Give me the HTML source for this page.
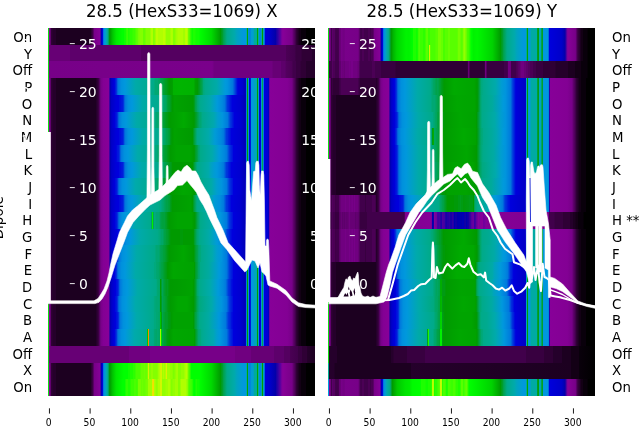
<!DOCTYPE html>
<html><head><meta charset="utf-8"><title>28.5 (HexS33=1069)</title>
<style>
html,body{margin:0;padding:0;background:#fff;}
svg{display:block;font-family:"DejaVu Sans","Liberation Sans",sans-serif;}
</style></head><body>
<svg width="640" height="440" viewBox="0 0 640 440">
<defs>
<clipPath id="cl0"><rect x="40" y="27.90" width="275.20" height="368.10"/></clipPath>
<clipPath id="cl1"><rect x="320.5" y="27.90" width="274.70" height="368.10"/></clipPath>
<clipPath id="ct0"><rect x="48.00" y="27.90" width="267.20" height="368.10"/></clipPath>
<linearGradient id="g0_0" x1="0" x2="1" y1="0" y2="0"><stop offset="0" stop-color="#850096"/><stop offset="0.005988" stop-color="#850096"/><stop offset="0.008234" stop-color="#7b008c"/><stop offset="0.008982" stop-color="#700080"/><stop offset="0.01048" stop-color="#380040"/><stop offset="0.01123" stop-color="#2f0035"/><stop offset="0.01647" stop-color="#2f0035"/><stop offset="0.01722" stop-color="#25002b"/><stop offset="0.03069" stop-color="#25002b"/><stop offset="0.03144" stop-color="#1c0020"/><stop offset="0.1594" stop-color="#1c0020"/><stop offset="0.1602" stop-color="#25002b"/><stop offset="0.1639" stop-color="#2f0035"/><stop offset="0.1647" stop-color="#380040"/><stop offset="0.1662" stop-color="#380040"/><stop offset="0.1692" stop-color="#4b0055"/><stop offset="0.1729" stop-color="#770088"/><stop offset="0.1946" stop-color="#860097"/><stop offset="0.1954" stop-color="#83009a"/><stop offset="0.1976" stop-color="#2300a6"/><stop offset="0.1991" stop-color="#0000ad"/><stop offset="0.2036" stop-color="#0000d9"/><stop offset="0.2043" stop-color="#0009dd"/><stop offset="0.2073" stop-color="#0070dd"/><stop offset="0.2081" stop-color="#007ddd"/><stop offset="0.2111" stop-color="#0092dd"/><stop offset="0.2156" stop-color="#009fcb"/><stop offset="0.2193" stop-color="#00aaab"/><stop offset="0.2246" stop-color="#00aa88"/><stop offset="0.2253" stop-color="#00a97d"/><stop offset="0.2268" stop-color="#00a353"/><stop offset="0.2298" stop-color="#009b13"/><stop offset="0.2313" stop-color="#009c00"/><stop offset="0.2425" stop-color="#00c700"/><stop offset="0.256" stop-color="#00ea00"/><stop offset="0.2777" stop-color="#00ff00"/><stop offset="0.2829" stop-color="#00ff00"/><stop offset="0.2837" stop-color="#0fff00"/><stop offset="0.2897" stop-color="#0fff00"/><stop offset="0.2919" stop-color="#2cff00"/><stop offset="0.2949" stop-color="#2cff00"/><stop offset="0.2957" stop-color="#3bff00"/><stop offset="0.2994" stop-color="#2cff00"/><stop offset="0.3001" stop-color="#1dff00"/><stop offset="0.3046" stop-color="#1dff00"/><stop offset="0.3054" stop-color="#2cff00"/><stop offset="0.3159" stop-color="#2cff00"/><stop offset="0.3166" stop-color="#3bff00"/><stop offset="0.3241" stop-color="#3bff00"/><stop offset="0.3249" stop-color="#49ff00"/><stop offset="0.3278" stop-color="#49ff00"/><stop offset="0.3286" stop-color="#58ff00"/><stop offset="0.3346" stop-color="#58ff00"/><stop offset="0.3353" stop-color="#67ff00"/><stop offset="0.3368" stop-color="#67ff00"/><stop offset="0.3376" stop-color="#75ff00"/><stop offset="0.3421" stop-color="#75ff00"/><stop offset="0.3428" stop-color="#84ff00"/><stop offset="0.354" stop-color="#84ff00"/><stop offset="0.3563" stop-color="#67ff00"/><stop offset="0.363" stop-color="#67ff00"/><stop offset="0.3638" stop-color="#75ff00"/><stop offset="0.3675" stop-color="#75ff00"/><stop offset="0.3683" stop-color="#84ff00"/><stop offset="0.3817" stop-color="#84ff00"/><stop offset="0.3855" stop-color="#b0ff00"/><stop offset="0.3915" stop-color="#b0ff00"/><stop offset="0.393" stop-color="#93ff00"/><stop offset="0.3937" stop-color="#93ff00"/><stop offset="0.3945" stop-color="#84ff00"/><stop offset="0.3982" stop-color="#84ff00"/><stop offset="0.399" stop-color="#93ff00"/><stop offset="0.4012" stop-color="#93ff00"/><stop offset="0.4042" stop-color="#bcff00"/><stop offset="0.4109" stop-color="#bcff00"/><stop offset="0.4117" stop-color="#b0ff00"/><stop offset="0.4304" stop-color="#b0ff00"/><stop offset="0.4311" stop-color="#bcff00"/><stop offset="0.4364" stop-color="#bcff00"/><stop offset="0.4371" stop-color="#b0ff00"/><stop offset="0.4394" stop-color="#b0ff00"/><stop offset="0.4416" stop-color="#93ff00"/><stop offset="0.4573" stop-color="#93ff00"/><stop offset="0.4596" stop-color="#b0ff00"/><stop offset="0.4656" stop-color="#b0ff00"/><stop offset="0.4693" stop-color="#84ff00"/><stop offset="0.4753" stop-color="#84ff00"/><stop offset="0.476" stop-color="#93ff00"/><stop offset="0.4775" stop-color="#93ff00"/><stop offset="0.4783" stop-color="#a1ff00"/><stop offset="0.4843" stop-color="#a1ff00"/><stop offset="0.485" stop-color="#b0ff00"/><stop offset="0.4925" stop-color="#b0ff00"/><stop offset="0.494" stop-color="#bcff00"/><stop offset="0.4948" stop-color="#b0ff00"/><stop offset="0.5045" stop-color="#b0ff00"/><stop offset="0.5052" stop-color="#a1ff00"/><stop offset="0.5127" stop-color="#a1ff00"/><stop offset="0.5135" stop-color="#b0ff00"/><stop offset="0.5157" stop-color="#c0fd00"/><stop offset="0.5202" stop-color="#bcff00"/><stop offset="0.5217" stop-color="#b0ff00"/><stop offset="0.524" stop-color="#84ff00"/><stop offset="0.5247" stop-color="#84ff00"/><stop offset="0.5262" stop-color="#67ff00"/><stop offset="0.5299" stop-color="#58ff00"/><stop offset="0.5322" stop-color="#3bff00"/><stop offset="0.5359" stop-color="#2cff00"/><stop offset="0.5367" stop-color="#1dff00"/><stop offset="0.5382" stop-color="#1dff00"/><stop offset="0.5389" stop-color="#0fff00"/><stop offset="0.5419" stop-color="#0fff00"/><stop offset="0.5427" stop-color="#1dff00"/><stop offset="0.5516" stop-color="#1dff00"/><stop offset="0.5524" stop-color="#0fff00"/><stop offset="0.5666" stop-color="#0fff00"/><stop offset="0.5674" stop-color="#00ff00"/><stop offset="0.6115" stop-color="#00da00"/><stop offset="0.646" stop-color="#009a00"/><stop offset="0.6512" stop-color="#009e28"/><stop offset="0.6527" stop-color="#009e28"/><stop offset="0.6579" stop-color="#00a353"/><stop offset="0.6639" stop-color="#00a668"/><stop offset="0.6647" stop-color="#00a773"/><stop offset="0.6662" stop-color="#00a773"/><stop offset="0.6692" stop-color="#00aa88"/><stop offset="0.6976" stop-color="#00aaab"/><stop offset="0.7066" stop-color="#00a3bf"/><stop offset="0.732" stop-color="#0098dd"/><stop offset="0.7418" stop-color="#0098dd"/><stop offset="0.7425" stop-color="#00a4bb"/><stop offset="0.744" stop-color="#00aa88"/><stop offset="0.7448" stop-color="#009e28"/><stop offset="0.7455" stop-color="#00a700"/><stop offset="0.747" stop-color="#00a700"/><stop offset="0.7478" stop-color="#009f33"/><stop offset="0.7485" stop-color="#00aa90"/><stop offset="0.7493" stop-color="#00aaab"/><stop offset="0.75" stop-color="#009cd3"/><stop offset="0.7507" stop-color="#0085dd"/><stop offset="0.7575" stop-color="#0085dd"/><stop offset="0.7597" stop-color="#0095dd"/><stop offset="0.7612" stop-color="#009cd3"/><stop offset="0.768" stop-color="#009cd3"/><stop offset="0.7717" stop-color="#00aa9d"/><stop offset="0.7799" stop-color="#00aa9d"/><stop offset="0.7807" stop-color="#00aa90"/><stop offset="0.7814" stop-color="#00a773"/><stop offset="0.7822" stop-color="#009f33"/><stop offset="0.7829" stop-color="#009a00"/><stop offset="0.7837" stop-color="#00a700"/><stop offset="0.7859" stop-color="#00a700"/><stop offset="0.7867" stop-color="#009f33"/><stop offset="0.7874" stop-color="#00aa90"/><stop offset="0.7882" stop-color="#00aaab"/><stop offset="0.7889" stop-color="#009cd3"/><stop offset="0.7897" stop-color="#0085dd"/><stop offset="0.7972" stop-color="#0085dd"/><stop offset="0.7979" stop-color="#009bd7"/><stop offset="0.7994" stop-color="#00aa98"/><stop offset="0.8001" stop-color="#00a668"/><stop offset="0.8009" stop-color="#009a00"/><stop offset="0.8039" stop-color="#009a00"/><stop offset="0.8046" stop-color="#00a353"/><stop offset="0.8054" stop-color="#00aa90"/><stop offset="0.8061" stop-color="#00aaa3"/><stop offset="0.8076" stop-color="#0098dd"/><stop offset="0.8084" stop-color="#0098dd"/><stop offset="0.8099" stop-color="#007ddd"/><stop offset="0.8106" stop-color="#005ddd"/><stop offset="0.8114" stop-color="#0025dd"/><stop offset="0.8121" stop-color="#0000d9"/><stop offset="0.8249" stop-color="#0000d1"/><stop offset="0.8518" stop-color="#0300aa"/><stop offset="0.8525" stop-color="#0d00a8"/><stop offset="0.854" stop-color="#0d00a8"/><stop offset="0.8548" stop-color="#1800a7"/><stop offset="0.8563" stop-color="#1800a7"/><stop offset="0.857" stop-color="#2300a6"/><stop offset="0.8585" stop-color="#2300a6"/><stop offset="0.8593" stop-color="#2d00a4"/><stop offset="0.8608" stop-color="#2d00a4"/><stop offset="0.8638" stop-color="#4300a2"/><stop offset="0.872" stop-color="#63009e"/><stop offset="0.8743" stop-color="#78009b"/><stop offset="0.8787" stop-color="#870098"/><stop offset="0.9139" stop-color="#770088"/><stop offset="0.9162" stop-color="#670075"/><stop offset="0.9244" stop-color="#4b0055"/><stop offset="0.9251" stop-color="#41004b"/><stop offset="0.9266" stop-color="#41004b"/><stop offset="0.9296" stop-color="#2f0035"/><stop offset="0.9326" stop-color="#2f0035"/><stop offset="0.9334" stop-color="#25002b"/><stop offset="0.9356" stop-color="#25002b"/><stop offset="0.9364" stop-color="#1c0020"/><stop offset="0.9401" stop-color="#1c0020"/><stop offset="0.9409" stop-color="#130015"/><stop offset="0.9476" stop-color="#130015"/><stop offset="0.9484" stop-color="#09000b"/><stop offset="0.9648" stop-color="#09000b"/><stop offset="0.9656" stop-color="#000000"/><stop offset="1" stop-color="#000000"/></linearGradient>
<linearGradient id="g0_1" x1="0" x2="1" y1="0" y2="0"><stop offset="0" stop-color="#670075"/><stop offset="0.08308" stop-color="#670075"/><stop offset="0.08383" stop-color="#5d006b"/><stop offset="0.3488" stop-color="#5d006b"/><stop offset="0.3496" stop-color="#540060"/><stop offset="0.8907" stop-color="#540060"/><stop offset="0.8915" stop-color="#4b0055"/><stop offset="0.9259" stop-color="#41004b"/><stop offset="0.9266" stop-color="#380040"/><stop offset="0.9484" stop-color="#380040"/><stop offset="0.9491" stop-color="#2f0035"/><stop offset="0.9873" stop-color="#2f0035"/><stop offset="0.988" stop-color="#25002b"/><stop offset="1" stop-color="#25002b"/></linearGradient>
<linearGradient id="g0_2" x1="0" x2="1" y1="0" y2="0"><stop offset="0" stop-color="#770088"/><stop offset="0.613" stop-color="#7a008b"/><stop offset="0.619" stop-color="#770088"/><stop offset="0.6198" stop-color="#700080"/><stop offset="0.8398" stop-color="#700080"/><stop offset="0.8406" stop-color="#670075"/><stop offset="0.8713" stop-color="#670075"/><stop offset="0.872" stop-color="#5d006b"/><stop offset="0.8885" stop-color="#5d006b"/><stop offset="0.8892" stop-color="#540060"/><stop offset="0.9147" stop-color="#4b0055"/><stop offset="0.9154" stop-color="#41004b"/><stop offset="0.9274" stop-color="#41004b"/><stop offset="0.9281" stop-color="#380040"/><stop offset="0.9446" stop-color="#380040"/><stop offset="0.9454" stop-color="#2f0035"/><stop offset="0.9656" stop-color="#2f0035"/><stop offset="0.9663" stop-color="#25002b"/><stop offset="0.9978" stop-color="#25002b"/><stop offset="0.9985" stop-color="#1c0020"/><stop offset="1" stop-color="#1c0020"/></linearGradient>
<linearGradient id="g0_3" x1="0" x2="1" y1="0" y2="0"><stop offset="0" stop-color="#850096"/><stop offset="0.005988" stop-color="#850096"/><stop offset="0.008234" stop-color="#7b008c"/><stop offset="0.008982" stop-color="#700080"/><stop offset="0.01048" stop-color="#380040"/><stop offset="0.01123" stop-color="#2f0035"/><stop offset="0.01647" stop-color="#2f0035"/><stop offset="0.01722" stop-color="#25002b"/><stop offset="0.03069" stop-color="#25002b"/><stop offset="0.03144" stop-color="#1c0020"/><stop offset="0.1781" stop-color="#1c0020"/><stop offset="0.1789" stop-color="#25002b"/><stop offset="0.1826" stop-color="#25002b"/><stop offset="0.1834" stop-color="#2f0035"/><stop offset="0.1864" stop-color="#2f0035"/><stop offset="0.1871" stop-color="#380040"/><stop offset="0.1886" stop-color="#380040"/><stop offset="0.1976" stop-color="#770088"/><stop offset="0.2073" stop-color="#830094"/><stop offset="0.2268" stop-color="#870098"/><stop offset="0.2283" stop-color="#6d009c"/><stop offset="0.232" stop-color="#0d00a8"/><stop offset="0.2335" stop-color="#0000b1"/><stop offset="0.238" stop-color="#0000c9"/><stop offset="0.2485" stop-color="#0000dd"/><stop offset="0.256" stop-color="#002fdd"/><stop offset="0.2612" stop-color="#0070dd"/><stop offset="0.2627" stop-color="#0078dd"/><stop offset="0.274" stop-color="#0090dd"/><stop offset="0.2882" stop-color="#0098dd"/><stop offset="0.3278" stop-color="#00aaa8"/><stop offset="0.396" stop-color="#00aa88"/><stop offset="0.3967" stop-color="#00a97d"/><stop offset="0.4012" stop-color="#00a97d"/><stop offset="0.4019" stop-color="#00a773"/><stop offset="0.4117" stop-color="#00a773"/><stop offset="0.4124" stop-color="#00a668"/><stop offset="0.4169" stop-color="#00a668"/><stop offset="0.4177" stop-color="#00a55d"/><stop offset="0.4199" stop-color="#00a55d"/><stop offset="0.4207" stop-color="#00a353"/><stop offset="0.4237" stop-color="#00a353"/><stop offset="0.4244" stop-color="#00a248"/><stop offset="0.4281" stop-color="#00a248"/><stop offset="0.4289" stop-color="#00a13d"/><stop offset="0.4319" stop-color="#00a13d"/><stop offset="0.4326" stop-color="#009f33"/><stop offset="0.4356" stop-color="#009f33"/><stop offset="0.4364" stop-color="#009e28"/><stop offset="0.4394" stop-color="#009e28"/><stop offset="0.4401" stop-color="#009d1d"/><stop offset="0.4439" stop-color="#009d1d"/><stop offset="0.4446" stop-color="#009b13"/><stop offset="0.4484" stop-color="#009b13"/><stop offset="0.4491" stop-color="#009a08"/><stop offset="0.4536" stop-color="#009a08"/><stop offset="0.4543" stop-color="#009a00"/><stop offset="0.4656" stop-color="#009f00"/><stop offset="0.4693" stop-color="#00b200"/><stop offset="0.494" stop-color="#00b400"/><stop offset="0.5457" stop-color="#00b200"/><stop offset="0.5509" stop-color="#009f00"/><stop offset="0.5591" stop-color="#009a00"/><stop offset="0.5621" stop-color="#009a08"/><stop offset="0.5629" stop-color="#009b13"/><stop offset="0.5651" stop-color="#009b13"/><stop offset="0.5689" stop-color="#009f33"/><stop offset="0.5771" stop-color="#00a353"/><stop offset="0.5823" stop-color="#00a97d"/><stop offset="0.5853" stop-color="#00a97d"/><stop offset="0.5861" stop-color="#00aa88"/><stop offset="0.631" stop-color="#00aaa8"/><stop offset="0.6632" stop-color="#009adb"/><stop offset="0.6714" stop-color="#0095dd"/><stop offset="0.6916" stop-color="#0078dd"/><stop offset="0.7103" stop-color="#0000dd"/><stop offset="0.7268" stop-color="#0000d1"/><stop offset="0.738" stop-color="#0000b9"/><stop offset="0.7418" stop-color="#0000cd"/><stop offset="0.7425" stop-color="#0067dd"/><stop offset="0.7433" stop-color="#0098dd"/><stop offset="0.744" stop-color="#00aaa8"/><stop offset="0.7448" stop-color="#00a773"/><stop offset="0.7455" stop-color="#009f00"/><stop offset="0.747" stop-color="#009f00"/><stop offset="0.7478" stop-color="#00a13d"/><stop offset="0.7485" stop-color="#00aa8b"/><stop offset="0.75" stop-color="#00a3bf"/><stop offset="0.7507" stop-color="#008add"/><stop offset="0.7515" stop-color="#007ddd"/><stop offset="0.7522" stop-color="#005ddd"/><stop offset="0.7537" stop-color="#0000dd"/><stop offset="0.7575" stop-color="#0000dd"/><stop offset="0.759" stop-color="#005ddd"/><stop offset="0.7597" stop-color="#007ddd"/><stop offset="0.7612" stop-color="#0098dd"/><stop offset="0.768" stop-color="#0098dd"/><stop offset="0.7717" stop-color="#00a3bf"/><stop offset="0.7799" stop-color="#00a3bf"/><stop offset="0.7814" stop-color="#00aa95"/><stop offset="0.7822" stop-color="#00a773"/><stop offset="0.7829" stop-color="#009e28"/><stop offset="0.7837" stop-color="#009f00"/><stop offset="0.7859" stop-color="#009f00"/><stop offset="0.7867" stop-color="#00a773"/><stop offset="0.7874" stop-color="#00aaa5"/><stop offset="0.7882" stop-color="#009adb"/><stop offset="0.7889" stop-color="#0078dd"/><stop offset="0.7897" stop-color="#0000dd"/><stop offset="0.7972" stop-color="#0000dd"/><stop offset="0.7979" stop-color="#0067dd"/><stop offset="0.7987" stop-color="#0090dd"/><stop offset="0.7994" stop-color="#00a3bf"/><stop offset="0.8001" stop-color="#00aa98"/><stop offset="0.8009" stop-color="#00a353"/><stop offset="0.8039" stop-color="#00a353"/><stop offset="0.8046" stop-color="#00aa98"/><stop offset="0.8054" stop-color="#00a3bf"/><stop offset="0.8061" stop-color="#0090dd"/><stop offset="0.8069" stop-color="#0067dd"/><stop offset="0.8076" stop-color="#0000dd"/><stop offset="0.8091" stop-color="#0000dd"/><stop offset="0.8241" stop-color="#0000d1"/><stop offset="0.8263" stop-color="#0000b1"/><stop offset="0.8271" stop-color="#0d00a8"/><stop offset="0.8278" stop-color="#3800a3"/><stop offset="0.8293" stop-color="#78009b"/><stop offset="0.8308" stop-color="#870098"/><stop offset="0.8952" stop-color="#830094"/><stop offset="0.9139" stop-color="#770088"/><stop offset="0.9162" stop-color="#670075"/><stop offset="0.9244" stop-color="#4b0055"/><stop offset="0.9251" stop-color="#41004b"/><stop offset="0.9266" stop-color="#41004b"/><stop offset="0.9296" stop-color="#2f0035"/><stop offset="0.9326" stop-color="#2f0035"/><stop offset="0.9334" stop-color="#25002b"/><stop offset="0.9356" stop-color="#25002b"/><stop offset="0.9364" stop-color="#1c0020"/><stop offset="0.9401" stop-color="#1c0020"/><stop offset="0.9409" stop-color="#130015"/><stop offset="0.9476" stop-color="#130015"/><stop offset="0.9484" stop-color="#09000b"/><stop offset="0.9648" stop-color="#09000b"/><stop offset="0.9656" stop-color="#000000"/><stop offset="1" stop-color="#000000"/></linearGradient>
<linearGradient id="g0_4" x1="0" x2="1" y1="0" y2="0"><stop offset="0" stop-color="#850096"/><stop offset="0.005988" stop-color="#850096"/><stop offset="0.008234" stop-color="#7b008c"/><stop offset="0.008982" stop-color="#700080"/><stop offset="0.01048" stop-color="#380040"/><stop offset="0.01123" stop-color="#2f0035"/><stop offset="0.01647" stop-color="#2f0035"/><stop offset="0.01722" stop-color="#25002b"/><stop offset="0.03069" stop-color="#25002b"/><stop offset="0.03144" stop-color="#1c0020"/><stop offset="0.1781" stop-color="#1c0020"/><stop offset="0.1789" stop-color="#25002b"/><stop offset="0.1826" stop-color="#25002b"/><stop offset="0.1834" stop-color="#2f0035"/><stop offset="0.1864" stop-color="#2f0035"/><stop offset="0.1871" stop-color="#380040"/><stop offset="0.1886" stop-color="#380040"/><stop offset="0.1976" stop-color="#770088"/><stop offset="0.2073" stop-color="#830094"/><stop offset="0.2268" stop-color="#870098"/><stop offset="0.2283" stop-color="#6d009c"/><stop offset="0.232" stop-color="#0d00a8"/><stop offset="0.2335" stop-color="#0000b1"/><stop offset="0.2373" stop-color="#0000c5"/><stop offset="0.2537" stop-color="#0000d9"/><stop offset="0.2642" stop-color="#0000dd"/><stop offset="0.265" stop-color="#0009dd"/><stop offset="0.2747" stop-color="#0013dd"/><stop offset="0.2754" stop-color="#001cdd"/><stop offset="0.2792" stop-color="#001cdd"/><stop offset="0.2822" stop-color="#002fdd"/><stop offset="0.2874" stop-color="#0070dd"/><stop offset="0.2897" stop-color="#007add"/><stop offset="0.3001" stop-color="#0090dd"/><stop offset="0.3144" stop-color="#0098dd"/><stop offset="0.354" stop-color="#00aaa8"/><stop offset="0.4222" stop-color="#00aa88"/><stop offset="0.4229" stop-color="#00a97d"/><stop offset="0.4341" stop-color="#00a773"/><stop offset="0.4349" stop-color="#00a668"/><stop offset="0.4424" stop-color="#00a55d"/><stop offset="0.4461" stop-color="#00a13d"/><stop offset="0.4491" stop-color="#00a13d"/><stop offset="0.4499" stop-color="#009f33"/><stop offset="0.4558" stop-color="#009e28"/><stop offset="0.4566" stop-color="#009d1d"/><stop offset="0.4588" stop-color="#009d1d"/><stop offset="0.4596" stop-color="#009b13"/><stop offset="0.4618" stop-color="#009b13"/><stop offset="0.4626" stop-color="#009a08"/><stop offset="0.4656" stop-color="#009a00"/><stop offset="0.4738" stop-color="#00a200"/><stop offset="0.5434" stop-color="#009a00"/><stop offset="0.5494" stop-color="#009e28"/><stop offset="0.5509" stop-color="#00a13d"/><stop offset="0.5539" stop-color="#00a353"/><stop offset="0.5554" stop-color="#00a353"/><stop offset="0.5576" stop-color="#00a668"/><stop offset="0.5689" stop-color="#00aa8d"/><stop offset="0.6078" stop-color="#00a8af"/><stop offset="0.6332" stop-color="#009adb"/><stop offset="0.6519" stop-color="#0088dd"/><stop offset="0.6617" stop-color="#0078dd"/><stop offset="0.6714" stop-color="#0038dd"/><stop offset="0.6789" stop-color="#0025dd"/><stop offset="0.6796" stop-color="#001cdd"/><stop offset="0.6819" stop-color="#001cdd"/><stop offset="0.6826" stop-color="#0013dd"/><stop offset="0.6849" stop-color="#0013dd"/><stop offset="0.6856" stop-color="#0009dd"/><stop offset="0.6879" stop-color="#0009dd"/><stop offset="0.6886" stop-color="#0000dd"/><stop offset="0.7186" stop-color="#0000d1"/><stop offset="0.7365" stop-color="#0000b9"/><stop offset="0.7395" stop-color="#0000bd"/><stop offset="0.7418" stop-color="#0000cd"/><stop offset="0.7425" stop-color="#0067dd"/><stop offset="0.7433" stop-color="#0098dd"/><stop offset="0.744" stop-color="#00aaa8"/><stop offset="0.7448" stop-color="#00a773"/><stop offset="0.7455" stop-color="#009f00"/><stop offset="0.747" stop-color="#009f00"/><stop offset="0.7478" stop-color="#00a13d"/><stop offset="0.7485" stop-color="#00aa8b"/><stop offset="0.75" stop-color="#00a3bf"/><stop offset="0.7507" stop-color="#008add"/><stop offset="0.7515" stop-color="#007ddd"/><stop offset="0.7522" stop-color="#005ddd"/><stop offset="0.7537" stop-color="#0000dd"/><stop offset="0.7575" stop-color="#0000dd"/><stop offset="0.759" stop-color="#005ddd"/><stop offset="0.7597" stop-color="#007ddd"/><stop offset="0.7612" stop-color="#0098dd"/><stop offset="0.768" stop-color="#0098dd"/><stop offset="0.7717" stop-color="#00a3bf"/><stop offset="0.7799" stop-color="#00a3bf"/><stop offset="0.7814" stop-color="#00aa95"/><stop offset="0.7822" stop-color="#00a773"/><stop offset="0.7829" stop-color="#009e28"/><stop offset="0.7837" stop-color="#009f00"/><stop offset="0.7859" stop-color="#009f00"/><stop offset="0.7867" stop-color="#00a773"/><stop offset="0.7874" stop-color="#00aaa5"/><stop offset="0.7882" stop-color="#009adb"/><stop offset="0.7889" stop-color="#0078dd"/><stop offset="0.7897" stop-color="#0000dd"/><stop offset="0.7972" stop-color="#0000dd"/><stop offset="0.7979" stop-color="#0067dd"/><stop offset="0.7987" stop-color="#0090dd"/><stop offset="0.7994" stop-color="#00a3bf"/><stop offset="0.8001" stop-color="#00aa98"/><stop offset="0.8009" stop-color="#00a353"/><stop offset="0.8039" stop-color="#00a353"/><stop offset="0.8046" stop-color="#00aa98"/><stop offset="0.8054" stop-color="#00a3bf"/><stop offset="0.8061" stop-color="#0090dd"/><stop offset="0.8069" stop-color="#0067dd"/><stop offset="0.8076" stop-color="#0000dd"/><stop offset="0.8091" stop-color="#0000dd"/><stop offset="0.8241" stop-color="#0000d1"/><stop offset="0.8263" stop-color="#0000b1"/><stop offset="0.8271" stop-color="#0d00a8"/><stop offset="0.8278" stop-color="#3800a3"/><stop offset="0.8293" stop-color="#78009b"/><stop offset="0.8308" stop-color="#870098"/><stop offset="0.8952" stop-color="#830094"/><stop offset="0.9139" stop-color="#770088"/><stop offset="0.9162" stop-color="#670075"/><stop offset="0.9244" stop-color="#4b0055"/><stop offset="0.9251" stop-color="#41004b"/><stop offset="0.9266" stop-color="#41004b"/><stop offset="0.9296" stop-color="#2f0035"/><stop offset="0.9326" stop-color="#2f0035"/><stop offset="0.9334" stop-color="#25002b"/><stop offset="0.9356" stop-color="#25002b"/><stop offset="0.9364" stop-color="#1c0020"/><stop offset="0.9401" stop-color="#1c0020"/><stop offset="0.9409" stop-color="#130015"/><stop offset="0.9476" stop-color="#130015"/><stop offset="0.9484" stop-color="#09000b"/><stop offset="0.9648" stop-color="#09000b"/><stop offset="0.9656" stop-color="#000000"/><stop offset="1" stop-color="#000000"/></linearGradient>
<linearGradient id="g0_5" x1="0" x2="1" y1="0" y2="0"><stop offset="0" stop-color="#850096"/><stop offset="0.005988" stop-color="#850096"/><stop offset="0.008234" stop-color="#7b008c"/><stop offset="0.008982" stop-color="#700080"/><stop offset="0.01048" stop-color="#380040"/><stop offset="0.01123" stop-color="#2f0035"/><stop offset="0.01647" stop-color="#2f0035"/><stop offset="0.01722" stop-color="#25002b"/><stop offset="0.03069" stop-color="#25002b"/><stop offset="0.03144" stop-color="#1c0020"/><stop offset="0.1781" stop-color="#1c0020"/><stop offset="0.1789" stop-color="#25002b"/><stop offset="0.1826" stop-color="#25002b"/><stop offset="0.1834" stop-color="#2f0035"/><stop offset="0.1864" stop-color="#2f0035"/><stop offset="0.1871" stop-color="#380040"/><stop offset="0.1886" stop-color="#380040"/><stop offset="0.1976" stop-color="#770088"/><stop offset="0.2073" stop-color="#830094"/><stop offset="0.2268" stop-color="#870098"/><stop offset="0.2283" stop-color="#6d009c"/><stop offset="0.232" stop-color="#0d00a8"/><stop offset="0.2335" stop-color="#0000b1"/><stop offset="0.2388" stop-color="#0000c9"/><stop offset="0.2507" stop-color="#0000dd"/><stop offset="0.2515" stop-color="#0009dd"/><stop offset="0.2575" stop-color="#001cdd"/><stop offset="0.259" stop-color="#002fdd"/><stop offset="0.2597" stop-color="#002fdd"/><stop offset="0.265" stop-color="#0070dd"/><stop offset="0.2665" stop-color="#0078dd"/><stop offset="0.2777" stop-color="#0090dd"/><stop offset="0.2919" stop-color="#0098dd"/><stop offset="0.3316" stop-color="#00aaa8"/><stop offset="0.3982" stop-color="#00aa88"/><stop offset="0.399" stop-color="#00a97d"/><stop offset="0.4042" stop-color="#00a97d"/><stop offset="0.4049" stop-color="#00a773"/><stop offset="0.4154" stop-color="#00a668"/><stop offset="0.4162" stop-color="#00a55d"/><stop offset="0.4192" stop-color="#00a55d"/><stop offset="0.4199" stop-color="#00a353"/><stop offset="0.4229" stop-color="#00a353"/><stop offset="0.4237" stop-color="#00a248"/><stop offset="0.4274" stop-color="#00a248"/><stop offset="0.4281" stop-color="#00a13d"/><stop offset="0.4356" stop-color="#009f33"/><stop offset="0.4364" stop-color="#009e28"/><stop offset="0.4394" stop-color="#009e28"/><stop offset="0.4401" stop-color="#009d1d"/><stop offset="0.4476" stop-color="#009b13"/><stop offset="0.4484" stop-color="#009a08"/><stop offset="0.4513" stop-color="#009a08"/><stop offset="0.4521" stop-color="#009a00"/><stop offset="0.5082" stop-color="#00aa00"/><stop offset="0.5472" stop-color="#009a00"/><stop offset="0.5494" stop-color="#009b13"/><stop offset="0.5509" stop-color="#009b13"/><stop offset="0.5531" stop-color="#009e28"/><stop offset="0.5576" stop-color="#009f33"/><stop offset="0.5599" stop-color="#00a248"/><stop offset="0.5614" stop-color="#00a248"/><stop offset="0.5651" stop-color="#00a668"/><stop offset="0.5711" stop-color="#00a773"/><stop offset="0.5719" stop-color="#00a97d"/><stop offset="0.5749" stop-color="#00a97d"/><stop offset="0.5756" stop-color="#00aa88"/><stop offset="0.6205" stop-color="#00a8af"/><stop offset="0.6355" stop-color="#009ecf"/><stop offset="0.6527" stop-color="#0095dd"/><stop offset="0.6722" stop-color="#007add"/><stop offset="0.6826" stop-color="#0038dd"/><stop offset="0.6886" stop-color="#0025dd"/><stop offset="0.6894" stop-color="#001cdd"/><stop offset="0.6916" stop-color="#001cdd"/><stop offset="0.6969" stop-color="#0000dd"/><stop offset="0.7216" stop-color="#0000d1"/><stop offset="0.7373" stop-color="#0000b9"/><stop offset="0.7418" stop-color="#0000cd"/><stop offset="0.7425" stop-color="#0067dd"/><stop offset="0.7433" stop-color="#0098dd"/><stop offset="0.744" stop-color="#00aaa8"/><stop offset="0.7448" stop-color="#00a773"/><stop offset="0.7455" stop-color="#009f00"/><stop offset="0.747" stop-color="#009f00"/><stop offset="0.7478" stop-color="#00a13d"/><stop offset="0.7485" stop-color="#00aa8b"/><stop offset="0.75" stop-color="#00a3bf"/><stop offset="0.7507" stop-color="#008add"/><stop offset="0.7515" stop-color="#007ddd"/><stop offset="0.7522" stop-color="#005ddd"/><stop offset="0.7537" stop-color="#0000dd"/><stop offset="0.7575" stop-color="#0000dd"/><stop offset="0.759" stop-color="#005ddd"/><stop offset="0.7597" stop-color="#007ddd"/><stop offset="0.7612" stop-color="#0098dd"/><stop offset="0.768" stop-color="#0098dd"/><stop offset="0.7717" stop-color="#00a3bf"/><stop offset="0.7799" stop-color="#00a3bf"/><stop offset="0.7814" stop-color="#00aa95"/><stop offset="0.7822" stop-color="#00a773"/><stop offset="0.7829" stop-color="#009e28"/><stop offset="0.7837" stop-color="#009f00"/><stop offset="0.7859" stop-color="#009f00"/><stop offset="0.7867" stop-color="#00a773"/><stop offset="0.7874" stop-color="#00aaa5"/><stop offset="0.7882" stop-color="#009adb"/><stop offset="0.7889" stop-color="#0078dd"/><stop offset="0.7897" stop-color="#0000dd"/><stop offset="0.7972" stop-color="#0000dd"/><stop offset="0.7979" stop-color="#0067dd"/><stop offset="0.7987" stop-color="#0090dd"/><stop offset="0.7994" stop-color="#00a3bf"/><stop offset="0.8001" stop-color="#00aa98"/><stop offset="0.8009" stop-color="#00a353"/><stop offset="0.8039" stop-color="#00a353"/><stop offset="0.8046" stop-color="#00aa98"/><stop offset="0.8054" stop-color="#00a3bf"/><stop offset="0.8061" stop-color="#0090dd"/><stop offset="0.8069" stop-color="#0067dd"/><stop offset="0.8076" stop-color="#0000dd"/><stop offset="0.8091" stop-color="#0000dd"/><stop offset="0.8241" stop-color="#0000d1"/><stop offset="0.8263" stop-color="#0000b1"/><stop offset="0.8271" stop-color="#0d00a8"/><stop offset="0.8278" stop-color="#3800a3"/><stop offset="0.8293" stop-color="#78009b"/><stop offset="0.8308" stop-color="#870098"/><stop offset="0.8952" stop-color="#830094"/><stop offset="0.9139" stop-color="#770088"/><stop offset="0.9162" stop-color="#670075"/><stop offset="0.9244" stop-color="#4b0055"/><stop offset="0.9251" stop-color="#41004b"/><stop offset="0.9266" stop-color="#41004b"/><stop offset="0.9296" stop-color="#2f0035"/><stop offset="0.9326" stop-color="#2f0035"/><stop offset="0.9334" stop-color="#25002b"/><stop offset="0.9356" stop-color="#25002b"/><stop offset="0.9364" stop-color="#1c0020"/><stop offset="0.9401" stop-color="#1c0020"/><stop offset="0.9409" stop-color="#130015"/><stop offset="0.9476" stop-color="#130015"/><stop offset="0.9484" stop-color="#09000b"/><stop offset="0.9648" stop-color="#09000b"/><stop offset="0.9656" stop-color="#000000"/><stop offset="1" stop-color="#000000"/></linearGradient>
<linearGradient id="g0_6" x1="0" x2="1" y1="0" y2="0"><stop offset="0" stop-color="#850096"/><stop offset="0.005988" stop-color="#850096"/><stop offset="0.008234" stop-color="#7b008c"/><stop offset="0.008982" stop-color="#700080"/><stop offset="0.01048" stop-color="#380040"/><stop offset="0.01123" stop-color="#2f0035"/><stop offset="0.01647" stop-color="#2f0035"/><stop offset="0.01722" stop-color="#25002b"/><stop offset="0.03069" stop-color="#25002b"/><stop offset="0.03144" stop-color="#1c0020"/><stop offset="0.1781" stop-color="#1c0020"/><stop offset="0.1789" stop-color="#25002b"/><stop offset="0.1826" stop-color="#25002b"/><stop offset="0.1834" stop-color="#2f0035"/><stop offset="0.1864" stop-color="#2f0035"/><stop offset="0.1871" stop-color="#380040"/><stop offset="0.1886" stop-color="#380040"/><stop offset="0.1976" stop-color="#770088"/><stop offset="0.2073" stop-color="#830094"/><stop offset="0.2268" stop-color="#870098"/><stop offset="0.2283" stop-color="#6d009c"/><stop offset="0.232" stop-color="#0d00a8"/><stop offset="0.2335" stop-color="#0000b1"/><stop offset="0.2373" stop-color="#0000c5"/><stop offset="0.2537" stop-color="#0000d9"/><stop offset="0.2642" stop-color="#0000dd"/><stop offset="0.265" stop-color="#0009dd"/><stop offset="0.2747" stop-color="#0013dd"/><stop offset="0.2754" stop-color="#001cdd"/><stop offset="0.2792" stop-color="#001cdd"/><stop offset="0.2822" stop-color="#002fdd"/><stop offset="0.2874" stop-color="#0070dd"/><stop offset="0.2897" stop-color="#007add"/><stop offset="0.3001" stop-color="#0090dd"/><stop offset="0.3144" stop-color="#0098dd"/><stop offset="0.354" stop-color="#00aaa8"/><stop offset="0.4229" stop-color="#00aa88"/><stop offset="0.4237" stop-color="#00a97d"/><stop offset="0.4281" stop-color="#00a97d"/><stop offset="0.4289" stop-color="#00a773"/><stop offset="0.4326" stop-color="#00a773"/><stop offset="0.4334" stop-color="#00a668"/><stop offset="0.4371" stop-color="#00a668"/><stop offset="0.4379" stop-color="#00a55d"/><stop offset="0.4409" stop-color="#00a55d"/><stop offset="0.4416" stop-color="#00a353"/><stop offset="0.4484" stop-color="#00a248"/><stop offset="0.4491" stop-color="#00a13d"/><stop offset="0.4521" stop-color="#00a13d"/><stop offset="0.4528" stop-color="#009f33"/><stop offset="0.4551" stop-color="#009f33"/><stop offset="0.4588" stop-color="#009b13"/><stop offset="0.4641" stop-color="#009a00"/><stop offset="0.4738" stop-color="#00a200"/><stop offset="0.5412" stop-color="#009a00"/><stop offset="0.5427" stop-color="#009a08"/><stop offset="0.5442" stop-color="#009d1d"/><stop offset="0.5464" stop-color="#009e28"/><stop offset="0.5479" stop-color="#00a13d"/><stop offset="0.5584" stop-color="#00aa88"/><stop offset="0.601" stop-color="#00aaab"/><stop offset="0.625" stop-color="#009bd7"/><stop offset="0.6482" stop-color="#0088dd"/><stop offset="0.6579" stop-color="#0078dd"/><stop offset="0.6677" stop-color="#0038dd"/><stop offset="0.6729" stop-color="#002fdd"/><stop offset="0.6737" stop-color="#0025dd"/><stop offset="0.6789" stop-color="#001cdd"/><stop offset="0.6796" stop-color="#0013dd"/><stop offset="0.6849" stop-color="#0009dd"/><stop offset="0.6856" stop-color="#0000dd"/><stop offset="0.7178" stop-color="#0000d1"/><stop offset="0.7365" stop-color="#0000b9"/><stop offset="0.7395" stop-color="#0000bd"/><stop offset="0.7418" stop-color="#0000cd"/><stop offset="0.7425" stop-color="#0067dd"/><stop offset="0.7433" stop-color="#0098dd"/><stop offset="0.744" stop-color="#00aaa8"/><stop offset="0.7448" stop-color="#00a773"/><stop offset="0.7455" stop-color="#009f00"/><stop offset="0.747" stop-color="#009f00"/><stop offset="0.7478" stop-color="#00a13d"/><stop offset="0.7485" stop-color="#00aa8b"/><stop offset="0.75" stop-color="#00a3bf"/><stop offset="0.7507" stop-color="#008add"/><stop offset="0.7515" stop-color="#007ddd"/><stop offset="0.7522" stop-color="#005ddd"/><stop offset="0.7537" stop-color="#0000dd"/><stop offset="0.7575" stop-color="#0000dd"/><stop offset="0.759" stop-color="#005ddd"/><stop offset="0.7597" stop-color="#007ddd"/><stop offset="0.7612" stop-color="#0098dd"/><stop offset="0.768" stop-color="#0098dd"/><stop offset="0.7717" stop-color="#00a3bf"/><stop offset="0.7799" stop-color="#00a3bf"/><stop offset="0.7814" stop-color="#00aa95"/><stop offset="0.7822" stop-color="#00a773"/><stop offset="0.7829" stop-color="#009e28"/><stop offset="0.7837" stop-color="#009f00"/><stop offset="0.7859" stop-color="#009f00"/><stop offset="0.7867" stop-color="#00a773"/><stop offset="0.7874" stop-color="#00aaa5"/><stop offset="0.7882" stop-color="#009adb"/><stop offset="0.7889" stop-color="#0078dd"/><stop offset="0.7897" stop-color="#0000dd"/><stop offset="0.7972" stop-color="#0000dd"/><stop offset="0.7979" stop-color="#0067dd"/><stop offset="0.7987" stop-color="#0090dd"/><stop offset="0.7994" stop-color="#00a3bf"/><stop offset="0.8001" stop-color="#00aa98"/><stop offset="0.8009" stop-color="#00a353"/><stop offset="0.8039" stop-color="#00a353"/><stop offset="0.8046" stop-color="#00aa98"/><stop offset="0.8054" stop-color="#00a3bf"/><stop offset="0.8061" stop-color="#0090dd"/><stop offset="0.8069" stop-color="#0067dd"/><stop offset="0.8076" stop-color="#0000dd"/><stop offset="0.8091" stop-color="#0000dd"/><stop offset="0.8241" stop-color="#0000d1"/><stop offset="0.8263" stop-color="#0000b1"/><stop offset="0.8271" stop-color="#0d00a8"/><stop offset="0.8278" stop-color="#3800a3"/><stop offset="0.8293" stop-color="#78009b"/><stop offset="0.8308" stop-color="#870098"/><stop offset="0.8952" stop-color="#830094"/><stop offset="0.9139" stop-color="#770088"/><stop offset="0.9162" stop-color="#670075"/><stop offset="0.9244" stop-color="#4b0055"/><stop offset="0.9251" stop-color="#41004b"/><stop offset="0.9266" stop-color="#41004b"/><stop offset="0.9296" stop-color="#2f0035"/><stop offset="0.9326" stop-color="#2f0035"/><stop offset="0.9334" stop-color="#25002b"/><stop offset="0.9356" stop-color="#25002b"/><stop offset="0.9364" stop-color="#1c0020"/><stop offset="0.9401" stop-color="#1c0020"/><stop offset="0.9409" stop-color="#130015"/><stop offset="0.9476" stop-color="#130015"/><stop offset="0.9484" stop-color="#09000b"/><stop offset="0.9648" stop-color="#09000b"/><stop offset="0.9656" stop-color="#000000"/><stop offset="1" stop-color="#000000"/></linearGradient>
<linearGradient id="g0_7" x1="0" x2="1" y1="0" y2="0"><stop offset="0" stop-color="#850096"/><stop offset="0.005988" stop-color="#850096"/><stop offset="0.008234" stop-color="#7b008c"/><stop offset="0.008982" stop-color="#700080"/><stop offset="0.01048" stop-color="#380040"/><stop offset="0.01123" stop-color="#2f0035"/><stop offset="0.01647" stop-color="#2f0035"/><stop offset="0.01722" stop-color="#25002b"/><stop offset="0.03069" stop-color="#25002b"/><stop offset="0.03144" stop-color="#1c0020"/><stop offset="0.1781" stop-color="#1c0020"/><stop offset="0.1789" stop-color="#25002b"/><stop offset="0.1826" stop-color="#25002b"/><stop offset="0.1834" stop-color="#2f0035"/><stop offset="0.1864" stop-color="#2f0035"/><stop offset="0.1871" stop-color="#380040"/><stop offset="0.1886" stop-color="#380040"/><stop offset="0.1976" stop-color="#770088"/><stop offset="0.2073" stop-color="#830094"/><stop offset="0.2268" stop-color="#870098"/><stop offset="0.2283" stop-color="#6d009c"/><stop offset="0.232" stop-color="#0d00a8"/><stop offset="0.2335" stop-color="#0000b1"/><stop offset="0.2388" stop-color="#0000c9"/><stop offset="0.2552" stop-color="#0000dd"/><stop offset="0.259" stop-color="#0013dd"/><stop offset="0.265" stop-color="#001cdd"/><stop offset="0.2665" stop-color="#002fdd"/><stop offset="0.2672" stop-color="#002fdd"/><stop offset="0.2725" stop-color="#0070dd"/><stop offset="0.2747" stop-color="#007add"/><stop offset="0.2852" stop-color="#0090dd"/><stop offset="0.2994" stop-color="#0098dd"/><stop offset="0.3353" stop-color="#00aaab"/><stop offset="0.4004" stop-color="#00aa88"/><stop offset="0.4012" stop-color="#00a97d"/><stop offset="0.4064" stop-color="#00a97d"/><stop offset="0.4072" stop-color="#00a773"/><stop offset="0.4117" stop-color="#00a773"/><stop offset="0.4124" stop-color="#00a668"/><stop offset="0.4222" stop-color="#00a668"/><stop offset="0.4229" stop-color="#00a55d"/><stop offset="0.4266" stop-color="#00a55d"/><stop offset="0.4274" stop-color="#00a353"/><stop offset="0.4304" stop-color="#00a353"/><stop offset="0.4311" stop-color="#00a248"/><stop offset="0.4356" stop-color="#00a13d"/><stop offset="0.4364" stop-color="#009f33"/><stop offset="0.4461" stop-color="#009e28"/><stop offset="0.4469" stop-color="#009d1d"/><stop offset="0.4499" stop-color="#009d1d"/><stop offset="0.4506" stop-color="#009b13"/><stop offset="0.4528" stop-color="#009b13"/><stop offset="0.4536" stop-color="#009a08"/><stop offset="0.4566" stop-color="#009a08"/><stop offset="0.4573" stop-color="#009a00"/><stop offset="0.4813" stop-color="#00a400"/><stop offset="0.5299" stop-color="#00a400"/><stop offset="0.5472" stop-color="#009a00"/><stop offset="0.5539" stop-color="#009f33"/><stop offset="0.5554" stop-color="#009f33"/><stop offset="0.5576" stop-color="#00a248"/><stop offset="0.5591" stop-color="#00a248"/><stop offset="0.5629" stop-color="#00a668"/><stop offset="0.5666" stop-color="#00a773"/><stop offset="0.5689" stop-color="#00aa88"/><stop offset="0.6138" stop-color="#00aaab"/><stop offset="0.6407" stop-color="#009adb"/><stop offset="0.6594" stop-color="#0088dd"/><stop offset="0.6692" stop-color="#0078dd"/><stop offset="0.6789" stop-color="#0038dd"/><stop offset="0.6826" stop-color="#002fdd"/><stop offset="0.6834" stop-color="#0025dd"/><stop offset="0.6856" stop-color="#0025dd"/><stop offset="0.6886" stop-color="#0013dd"/><stop offset="0.6909" stop-color="#0013dd"/><stop offset="0.6939" stop-color="#0000dd"/><stop offset="0.7208" stop-color="#0000d1"/><stop offset="0.7373" stop-color="#0000b9"/><stop offset="0.7418" stop-color="#0000cd"/><stop offset="0.7425" stop-color="#0067dd"/><stop offset="0.7433" stop-color="#0098dd"/><stop offset="0.744" stop-color="#00aaa8"/><stop offset="0.7448" stop-color="#00a773"/><stop offset="0.7455" stop-color="#009f00"/><stop offset="0.747" stop-color="#009f00"/><stop offset="0.7478" stop-color="#00a13d"/><stop offset="0.7485" stop-color="#00aa8b"/><stop offset="0.75" stop-color="#00a3bf"/><stop offset="0.7507" stop-color="#008add"/><stop offset="0.7515" stop-color="#007ddd"/><stop offset="0.7522" stop-color="#005ddd"/><stop offset="0.7537" stop-color="#0000dd"/><stop offset="0.7575" stop-color="#0000dd"/><stop offset="0.759" stop-color="#005ddd"/><stop offset="0.7597" stop-color="#007ddd"/><stop offset="0.7612" stop-color="#0098dd"/><stop offset="0.768" stop-color="#0098dd"/><stop offset="0.7717" stop-color="#00a3bf"/><stop offset="0.7799" stop-color="#00a3bf"/><stop offset="0.7814" stop-color="#00aa95"/><stop offset="0.7822" stop-color="#00a773"/><stop offset="0.7829" stop-color="#009e28"/><stop offset="0.7837" stop-color="#009f00"/><stop offset="0.7859" stop-color="#009f00"/><stop offset="0.7867" stop-color="#00a773"/><stop offset="0.7874" stop-color="#00aaa5"/><stop offset="0.7882" stop-color="#009adb"/><stop offset="0.7889" stop-color="#0078dd"/><stop offset="0.7897" stop-color="#0000dd"/><stop offset="0.7972" stop-color="#0000dd"/><stop offset="0.7979" stop-color="#0067dd"/><stop offset="0.7987" stop-color="#0090dd"/><stop offset="0.7994" stop-color="#00a3bf"/><stop offset="0.8001" stop-color="#00aa98"/><stop offset="0.8009" stop-color="#00a353"/><stop offset="0.8039" stop-color="#00a353"/><stop offset="0.8046" stop-color="#00aa98"/><stop offset="0.8054" stop-color="#00a3bf"/><stop offset="0.8061" stop-color="#0090dd"/><stop offset="0.8069" stop-color="#0067dd"/><stop offset="0.8076" stop-color="#0000dd"/><stop offset="0.8091" stop-color="#0000dd"/><stop offset="0.8241" stop-color="#0000d1"/><stop offset="0.8263" stop-color="#0000b1"/><stop offset="0.8271" stop-color="#0d00a8"/><stop offset="0.8278" stop-color="#3800a3"/><stop offset="0.8293" stop-color="#78009b"/><stop offset="0.8308" stop-color="#870098"/><stop offset="0.8952" stop-color="#830094"/><stop offset="0.9139" stop-color="#770088"/><stop offset="0.9162" stop-color="#670075"/><stop offset="0.9244" stop-color="#4b0055"/><stop offset="0.9251" stop-color="#41004b"/><stop offset="0.9266" stop-color="#41004b"/><stop offset="0.9296" stop-color="#2f0035"/><stop offset="0.9326" stop-color="#2f0035"/><stop offset="0.9334" stop-color="#25002b"/><stop offset="0.9356" stop-color="#25002b"/><stop offset="0.9364" stop-color="#1c0020"/><stop offset="0.9401" stop-color="#1c0020"/><stop offset="0.9409" stop-color="#130015"/><stop offset="0.9476" stop-color="#130015"/><stop offset="0.9484" stop-color="#09000b"/><stop offset="0.9648" stop-color="#09000b"/><stop offset="0.9656" stop-color="#000000"/><stop offset="1" stop-color="#000000"/></linearGradient>
<linearGradient id="g0_8" x1="0" x2="1" y1="0" y2="0"><stop offset="0" stop-color="#850096"/><stop offset="0.005988" stop-color="#850096"/><stop offset="0.008234" stop-color="#7b008c"/><stop offset="0.008982" stop-color="#700080"/><stop offset="0.01048" stop-color="#380040"/><stop offset="0.01123" stop-color="#2f0035"/><stop offset="0.01647" stop-color="#2f0035"/><stop offset="0.01722" stop-color="#25002b"/><stop offset="0.03069" stop-color="#25002b"/><stop offset="0.03144" stop-color="#1c0020"/><stop offset="0.1781" stop-color="#1c0020"/><stop offset="0.1789" stop-color="#25002b"/><stop offset="0.1826" stop-color="#25002b"/><stop offset="0.1834" stop-color="#2f0035"/><stop offset="0.1864" stop-color="#2f0035"/><stop offset="0.1871" stop-color="#380040"/><stop offset="0.1886" stop-color="#380040"/><stop offset="0.1976" stop-color="#770088"/><stop offset="0.2073" stop-color="#830094"/><stop offset="0.2268" stop-color="#870098"/><stop offset="0.2283" stop-color="#6d009c"/><stop offset="0.232" stop-color="#0d00a8"/><stop offset="0.2335" stop-color="#0000b1"/><stop offset="0.2373" stop-color="#0000c5"/><stop offset="0.2537" stop-color="#0000d9"/><stop offset="0.2642" stop-color="#0000dd"/><stop offset="0.265" stop-color="#0009dd"/><stop offset="0.2747" stop-color="#0013dd"/><stop offset="0.2754" stop-color="#001cdd"/><stop offset="0.2792" stop-color="#001cdd"/><stop offset="0.2822" stop-color="#002fdd"/><stop offset="0.2874" stop-color="#0070dd"/><stop offset="0.2897" stop-color="#007add"/><stop offset="0.3001" stop-color="#0090dd"/><stop offset="0.3144" stop-color="#0098dd"/><stop offset="0.3503" stop-color="#00aaab"/><stop offset="0.4049" stop-color="#00aa90"/><stop offset="0.4139" stop-color="#00aa88"/><stop offset="0.4147" stop-color="#00a97d"/><stop offset="0.4259" stop-color="#00a97d"/><stop offset="0.4266" stop-color="#00a773"/><stop offset="0.4304" stop-color="#00a773"/><stop offset="0.4311" stop-color="#00a668"/><stop offset="0.4326" stop-color="#00a668"/><stop offset="0.4356" stop-color="#00a353"/><stop offset="0.4394" stop-color="#00a353"/><stop offset="0.4401" stop-color="#00a248"/><stop offset="0.4431" stop-color="#00a248"/><stop offset="0.4439" stop-color="#00a13d"/><stop offset="0.4506" stop-color="#009f33"/><stop offset="0.4513" stop-color="#009e28"/><stop offset="0.4536" stop-color="#009e28"/><stop offset="0.4543" stop-color="#009d1d"/><stop offset="0.4596" stop-color="#009d1d"/><stop offset="0.4603" stop-color="#009b13"/><stop offset="0.4626" stop-color="#009b13"/><stop offset="0.4633" stop-color="#009a08"/><stop offset="0.4663" stop-color="#009a00"/><stop offset="0.5412" stop-color="#009a00"/><stop offset="0.5427" stop-color="#009b13"/><stop offset="0.5449" stop-color="#009d1d"/><stop offset="0.5464" stop-color="#009f33"/><stop offset="0.5584" stop-color="#00aa88"/><stop offset="0.6018" stop-color="#00aaab"/><stop offset="0.6085" stop-color="#00a3bf"/><stop offset="0.622" stop-color="#009cd3"/><stop offset="0.6325" stop-color="#0098dd"/><stop offset="0.6482" stop-color="#0088dd"/><stop offset="0.6579" stop-color="#0078dd"/><stop offset="0.6677" stop-color="#0038dd"/><stop offset="0.6729" stop-color="#002fdd"/><stop offset="0.6737" stop-color="#0025dd"/><stop offset="0.6789" stop-color="#001cdd"/><stop offset="0.6796" stop-color="#0013dd"/><stop offset="0.6849" stop-color="#0009dd"/><stop offset="0.6856" stop-color="#0000dd"/><stop offset="0.7178" stop-color="#0000d1"/><stop offset="0.7365" stop-color="#0000b9"/><stop offset="0.7395" stop-color="#0000bd"/><stop offset="0.7418" stop-color="#0000cd"/><stop offset="0.7425" stop-color="#0067dd"/><stop offset="0.7433" stop-color="#0098dd"/><stop offset="0.744" stop-color="#00aaa8"/><stop offset="0.7448" stop-color="#00a773"/><stop offset="0.7455" stop-color="#009f00"/><stop offset="0.747" stop-color="#009f00"/><stop offset="0.7478" stop-color="#00a13d"/><stop offset="0.7485" stop-color="#00aa8b"/><stop offset="0.75" stop-color="#00a3bf"/><stop offset="0.7507" stop-color="#008add"/><stop offset="0.7515" stop-color="#007ddd"/><stop offset="0.7522" stop-color="#005ddd"/><stop offset="0.7537" stop-color="#0000dd"/><stop offset="0.7575" stop-color="#0000dd"/><stop offset="0.759" stop-color="#005ddd"/><stop offset="0.7597" stop-color="#007ddd"/><stop offset="0.7612" stop-color="#0098dd"/><stop offset="0.768" stop-color="#0098dd"/><stop offset="0.7717" stop-color="#00a3bf"/><stop offset="0.7799" stop-color="#00a3bf"/><stop offset="0.7814" stop-color="#00aa95"/><stop offset="0.7822" stop-color="#00a773"/><stop offset="0.7829" stop-color="#009e28"/><stop offset="0.7837" stop-color="#009f00"/><stop offset="0.7859" stop-color="#009f00"/><stop offset="0.7867" stop-color="#00a773"/><stop offset="0.7874" stop-color="#00aaa5"/><stop offset="0.7882" stop-color="#009adb"/><stop offset="0.7889" stop-color="#0078dd"/><stop offset="0.7897" stop-color="#0000dd"/><stop offset="0.7972" stop-color="#0000dd"/><stop offset="0.7979" stop-color="#0067dd"/><stop offset="0.7987" stop-color="#0090dd"/><stop offset="0.7994" stop-color="#00a3bf"/><stop offset="0.8001" stop-color="#00aa98"/><stop offset="0.8009" stop-color="#00a353"/><stop offset="0.8039" stop-color="#00a353"/><stop offset="0.8046" stop-color="#00aa98"/><stop offset="0.8054" stop-color="#00a3bf"/><stop offset="0.8061" stop-color="#0090dd"/><stop offset="0.8069" stop-color="#0067dd"/><stop offset="0.8076" stop-color="#0000dd"/><stop offset="0.8091" stop-color="#0000dd"/><stop offset="0.8241" stop-color="#0000d1"/><stop offset="0.8263" stop-color="#0000b1"/><stop offset="0.8271" stop-color="#0d00a8"/><stop offset="0.8278" stop-color="#3800a3"/><stop offset="0.8293" stop-color="#78009b"/><stop offset="0.8308" stop-color="#870098"/><stop offset="0.8952" stop-color="#830094"/><stop offset="0.9139" stop-color="#770088"/><stop offset="0.9162" stop-color="#670075"/><stop offset="0.9244" stop-color="#4b0055"/><stop offset="0.9251" stop-color="#41004b"/><stop offset="0.9266" stop-color="#41004b"/><stop offset="0.9296" stop-color="#2f0035"/><stop offset="0.9326" stop-color="#2f0035"/><stop offset="0.9334" stop-color="#25002b"/><stop offset="0.9356" stop-color="#25002b"/><stop offset="0.9364" stop-color="#1c0020"/><stop offset="0.9401" stop-color="#1c0020"/><stop offset="0.9409" stop-color="#130015"/><stop offset="0.9476" stop-color="#130015"/><stop offset="0.9484" stop-color="#09000b"/><stop offset="0.9648" stop-color="#09000b"/><stop offset="0.9656" stop-color="#000000"/><stop offset="1" stop-color="#000000"/></linearGradient>
<linearGradient id="g0_9" x1="0" x2="1" y1="0" y2="0"><stop offset="0" stop-color="#850096"/><stop offset="0.005988" stop-color="#850096"/><stop offset="0.008234" stop-color="#7b008c"/><stop offset="0.008982" stop-color="#700080"/><stop offset="0.01048" stop-color="#380040"/><stop offset="0.01123" stop-color="#2f0035"/><stop offset="0.01647" stop-color="#2f0035"/><stop offset="0.01722" stop-color="#25002b"/><stop offset="0.03069" stop-color="#25002b"/><stop offset="0.03144" stop-color="#1c0020"/><stop offset="0.1781" stop-color="#1c0020"/><stop offset="0.1789" stop-color="#25002b"/><stop offset="0.1826" stop-color="#25002b"/><stop offset="0.1834" stop-color="#2f0035"/><stop offset="0.1864" stop-color="#2f0035"/><stop offset="0.1871" stop-color="#380040"/><stop offset="0.1886" stop-color="#380040"/><stop offset="0.1976" stop-color="#770088"/><stop offset="0.2073" stop-color="#830094"/><stop offset="0.2268" stop-color="#870098"/><stop offset="0.2283" stop-color="#6d009c"/><stop offset="0.232" stop-color="#0d00a8"/><stop offset="0.2335" stop-color="#0000b1"/><stop offset="0.2388" stop-color="#0000c9"/><stop offset="0.2507" stop-color="#0000dd"/><stop offset="0.2515" stop-color="#0009dd"/><stop offset="0.2575" stop-color="#001cdd"/><stop offset="0.259" stop-color="#002fdd"/><stop offset="0.2597" stop-color="#002fdd"/><stop offset="0.265" stop-color="#0070dd"/><stop offset="0.2665" stop-color="#0078dd"/><stop offset="0.2777" stop-color="#0090dd"/><stop offset="0.2919" stop-color="#0098dd"/><stop offset="0.3278" stop-color="#00aaab"/><stop offset="0.3945" stop-color="#00aa88"/><stop offset="0.3952" stop-color="#00a97d"/><stop offset="0.4004" stop-color="#00a97d"/><stop offset="0.4012" stop-color="#00a773"/><stop offset="0.4072" stop-color="#00a773"/><stop offset="0.4079" stop-color="#00a668"/><stop offset="0.4207" stop-color="#00a55d"/><stop offset="0.4214" stop-color="#00a353"/><stop offset="0.4251" stop-color="#00a353"/><stop offset="0.4259" stop-color="#00a248"/><stop offset="0.4296" stop-color="#00a248"/><stop offset="0.4304" stop-color="#00a13d"/><stop offset="0.4356" stop-color="#009f33"/><stop offset="0.4364" stop-color="#009e28"/><stop offset="0.4394" stop-color="#009e28"/><stop offset="0.4401" stop-color="#009d1d"/><stop offset="0.4469" stop-color="#009d1d"/><stop offset="0.4476" stop-color="#009b13"/><stop offset="0.4506" stop-color="#009b13"/><stop offset="0.4513" stop-color="#009a08"/><stop offset="0.4551" stop-color="#009a08"/><stop offset="0.4558" stop-color="#009a00"/><stop offset="0.506" stop-color="#00a700"/><stop offset="0.5352" stop-color="#00a400"/><stop offset="0.5479" stop-color="#009a00"/><stop offset="0.5531" stop-color="#009d1d"/><stop offset="0.5569" stop-color="#00a248"/><stop offset="0.5614" stop-color="#00a668"/><stop offset="0.5651" stop-color="#00a773"/><stop offset="0.5659" stop-color="#00a97d"/><stop offset="0.5689" stop-color="#00a97d"/><stop offset="0.5696" stop-color="#00a773"/><stop offset="0.5704" stop-color="#00a97d"/><stop offset="0.5726" stop-color="#00a97d"/><stop offset="0.5734" stop-color="#00aa88"/><stop offset="0.5831" stop-color="#00aa95"/><stop offset="0.6115" stop-color="#00aaa8"/><stop offset="0.6317" stop-color="#009ecf"/><stop offset="0.649" stop-color="#0095dd"/><stop offset="0.6684" stop-color="#007add"/><stop offset="0.6789" stop-color="#0038dd"/><stop offset="0.6826" stop-color="#002fdd"/><stop offset="0.6834" stop-color="#0025dd"/><stop offset="0.6856" stop-color="#0025dd"/><stop offset="0.6886" stop-color="#0013dd"/><stop offset="0.6909" stop-color="#0013dd"/><stop offset="0.6939" stop-color="#0000dd"/><stop offset="0.7208" stop-color="#0000d1"/><stop offset="0.7373" stop-color="#0000b9"/><stop offset="0.7418" stop-color="#0000cd"/><stop offset="0.7425" stop-color="#0067dd"/><stop offset="0.7433" stop-color="#0098dd"/><stop offset="0.744" stop-color="#00aaa8"/><stop offset="0.7448" stop-color="#00a773"/><stop offset="0.7455" stop-color="#009f00"/><stop offset="0.747" stop-color="#009f00"/><stop offset="0.7478" stop-color="#00a13d"/><stop offset="0.7485" stop-color="#00aa8b"/><stop offset="0.75" stop-color="#00a3bf"/><stop offset="0.7507" stop-color="#008add"/><stop offset="0.7515" stop-color="#007ddd"/><stop offset="0.7522" stop-color="#005ddd"/><stop offset="0.7537" stop-color="#0000dd"/><stop offset="0.7575" stop-color="#0000dd"/><stop offset="0.759" stop-color="#005ddd"/><stop offset="0.7597" stop-color="#007ddd"/><stop offset="0.7612" stop-color="#0098dd"/><stop offset="0.768" stop-color="#0098dd"/><stop offset="0.7717" stop-color="#00a3bf"/><stop offset="0.7799" stop-color="#00a3bf"/><stop offset="0.7814" stop-color="#00aa95"/><stop offset="0.7822" stop-color="#00a773"/><stop offset="0.7829" stop-color="#009e28"/><stop offset="0.7837" stop-color="#009f00"/><stop offset="0.7859" stop-color="#009f00"/><stop offset="0.7867" stop-color="#00a773"/><stop offset="0.7874" stop-color="#00aaa5"/><stop offset="0.7882" stop-color="#009adb"/><stop offset="0.7889" stop-color="#0078dd"/><stop offset="0.7897" stop-color="#0000dd"/><stop offset="0.7972" stop-color="#0000dd"/><stop offset="0.7979" stop-color="#0067dd"/><stop offset="0.7987" stop-color="#0090dd"/><stop offset="0.7994" stop-color="#00a3bf"/><stop offset="0.8001" stop-color="#00aa98"/><stop offset="0.8009" stop-color="#00a353"/><stop offset="0.8039" stop-color="#00a353"/><stop offset="0.8046" stop-color="#00aa98"/><stop offset="0.8054" stop-color="#00a3bf"/><stop offset="0.8061" stop-color="#0090dd"/><stop offset="0.8069" stop-color="#0067dd"/><stop offset="0.8076" stop-color="#0000dd"/><stop offset="0.8091" stop-color="#0000dd"/><stop offset="0.8241" stop-color="#0000d1"/><stop offset="0.8263" stop-color="#0000b1"/><stop offset="0.8271" stop-color="#0d00a8"/><stop offset="0.8278" stop-color="#3800a3"/><stop offset="0.8293" stop-color="#78009b"/><stop offset="0.8308" stop-color="#870098"/><stop offset="0.8952" stop-color="#830094"/><stop offset="0.9139" stop-color="#770088"/><stop offset="0.9162" stop-color="#670075"/><stop offset="0.9244" stop-color="#4b0055"/><stop offset="0.9251" stop-color="#41004b"/><stop offset="0.9266" stop-color="#41004b"/><stop offset="0.9296" stop-color="#2f0035"/><stop offset="0.9326" stop-color="#2f0035"/><stop offset="0.9334" stop-color="#25002b"/><stop offset="0.9356" stop-color="#25002b"/><stop offset="0.9364" stop-color="#1c0020"/><stop offset="0.9401" stop-color="#1c0020"/><stop offset="0.9409" stop-color="#130015"/><stop offset="0.9476" stop-color="#130015"/><stop offset="0.9484" stop-color="#09000b"/><stop offset="0.9648" stop-color="#09000b"/><stop offset="0.9656" stop-color="#000000"/><stop offset="1" stop-color="#000000"/></linearGradient>
<linearGradient id="g0_10" x1="0" x2="1" y1="0" y2="0"><stop offset="0" stop-color="#850096"/><stop offset="0.005988" stop-color="#850096"/><stop offset="0.008234" stop-color="#7b008c"/><stop offset="0.008982" stop-color="#700080"/><stop offset="0.01048" stop-color="#380040"/><stop offset="0.01123" stop-color="#2f0035"/><stop offset="0.01647" stop-color="#2f0035"/><stop offset="0.01722" stop-color="#25002b"/><stop offset="0.03069" stop-color="#25002b"/><stop offset="0.03144" stop-color="#1c0020"/><stop offset="0.1781" stop-color="#1c0020"/><stop offset="0.1789" stop-color="#25002b"/><stop offset="0.1826" stop-color="#25002b"/><stop offset="0.1834" stop-color="#2f0035"/><stop offset="0.1864" stop-color="#2f0035"/><stop offset="0.1871" stop-color="#380040"/><stop offset="0.1886" stop-color="#380040"/><stop offset="0.1976" stop-color="#770088"/><stop offset="0.2073" stop-color="#830094"/><stop offset="0.2268" stop-color="#870098"/><stop offset="0.2283" stop-color="#6d009c"/><stop offset="0.232" stop-color="#0d00a8"/><stop offset="0.2335" stop-color="#0000b1"/><stop offset="0.2373" stop-color="#0000c5"/><stop offset="0.2537" stop-color="#0000d9"/><stop offset="0.2642" stop-color="#0000dd"/><stop offset="0.265" stop-color="#0009dd"/><stop offset="0.2747" stop-color="#0013dd"/><stop offset="0.2754" stop-color="#001cdd"/><stop offset="0.2792" stop-color="#001cdd"/><stop offset="0.2822" stop-color="#002fdd"/><stop offset="0.2874" stop-color="#0070dd"/><stop offset="0.2897" stop-color="#007add"/><stop offset="0.3001" stop-color="#0090dd"/><stop offset="0.3144" stop-color="#0098dd"/><stop offset="0.354" stop-color="#00aaa8"/><stop offset="0.4169" stop-color="#00aa88"/><stop offset="0.4177" stop-color="#00a97d"/><stop offset="0.4184" stop-color="#00aa88"/><stop offset="0.4222" stop-color="#00aa88"/><stop offset="0.4229" stop-color="#00a97d"/><stop offset="0.4274" stop-color="#00a97d"/><stop offset="0.4281" stop-color="#00a773"/><stop offset="0.4311" stop-color="#00a773"/><stop offset="0.4341" stop-color="#00a55d"/><stop offset="0.4371" stop-color="#00a55d"/><stop offset="0.4379" stop-color="#00a353"/><stop offset="0.4409" stop-color="#00a353"/><stop offset="0.4416" stop-color="#00a248"/><stop offset="0.4454" stop-color="#00a248"/><stop offset="0.4461" stop-color="#00a353"/><stop offset="0.4469" stop-color="#00a248"/><stop offset="0.4499" stop-color="#00a248"/><stop offset="0.4506" stop-color="#00a13d"/><stop offset="0.4558" stop-color="#009f33"/><stop offset="0.4596" stop-color="#009b13"/><stop offset="0.4618" stop-color="#009b13"/><stop offset="0.4626" stop-color="#009a08"/><stop offset="0.4656" stop-color="#009a00"/><stop offset="0.5329" stop-color="#00a200"/><stop offset="0.5419" stop-color="#009a00"/><stop offset="0.5457" stop-color="#009f33"/><stop offset="0.5576" stop-color="#00aa88"/><stop offset="0.6018" stop-color="#00aaab"/><stop offset="0.6153" stop-color="#00a3bf"/><stop offset="0.6205" stop-color="#009cd3"/><stop offset="0.6422" stop-color="#0090dd"/><stop offset="0.6572" stop-color="#007add"/><stop offset="0.6677" stop-color="#0038dd"/><stop offset="0.6729" stop-color="#002fdd"/><stop offset="0.6737" stop-color="#0025dd"/><stop offset="0.6789" stop-color="#001cdd"/><stop offset="0.6796" stop-color="#0013dd"/><stop offset="0.6849" stop-color="#0009dd"/><stop offset="0.6856" stop-color="#0000dd"/><stop offset="0.7178" stop-color="#0000d1"/><stop offset="0.7365" stop-color="#0000b9"/><stop offset="0.7395" stop-color="#0000bd"/><stop offset="0.7418" stop-color="#0000cd"/><stop offset="0.7425" stop-color="#0067dd"/><stop offset="0.7433" stop-color="#0098dd"/><stop offset="0.744" stop-color="#00aaa8"/><stop offset="0.7448" stop-color="#00a773"/><stop offset="0.7455" stop-color="#009f00"/><stop offset="0.747" stop-color="#009f00"/><stop offset="0.7478" stop-color="#00a13d"/><stop offset="0.7485" stop-color="#00aa8b"/><stop offset="0.75" stop-color="#00a3bf"/><stop offset="0.7507" stop-color="#008add"/><stop offset="0.7515" stop-color="#007ddd"/><stop offset="0.7522" stop-color="#005ddd"/><stop offset="0.7537" stop-color="#0000dd"/><stop offset="0.7575" stop-color="#0000dd"/><stop offset="0.759" stop-color="#005ddd"/><stop offset="0.7597" stop-color="#007ddd"/><stop offset="0.7612" stop-color="#0098dd"/><stop offset="0.768" stop-color="#0098dd"/><stop offset="0.7717" stop-color="#00a3bf"/><stop offset="0.7799" stop-color="#00a3bf"/><stop offset="0.7814" stop-color="#00aa95"/><stop offset="0.7822" stop-color="#00a773"/><stop offset="0.7829" stop-color="#009e28"/><stop offset="0.7837" stop-color="#009f00"/><stop offset="0.7859" stop-color="#009f00"/><stop offset="0.7867" stop-color="#00a773"/><stop offset="0.7874" stop-color="#00aaa5"/><stop offset="0.7882" stop-color="#009adb"/><stop offset="0.7889" stop-color="#0078dd"/><stop offset="0.7897" stop-color="#0000dd"/><stop offset="0.7972" stop-color="#0000dd"/><stop offset="0.7979" stop-color="#0067dd"/><stop offset="0.7987" stop-color="#0090dd"/><stop offset="0.7994" stop-color="#00a3bf"/><stop offset="0.8001" stop-color="#00aa98"/><stop offset="0.8009" stop-color="#00a353"/><stop offset="0.8039" stop-color="#00a353"/><stop offset="0.8046" stop-color="#00aa98"/><stop offset="0.8054" stop-color="#00a3bf"/><stop offset="0.8061" stop-color="#0090dd"/><stop offset="0.8069" stop-color="#0067dd"/><stop offset="0.8076" stop-color="#0000dd"/><stop offset="0.8091" stop-color="#0000dd"/><stop offset="0.8241" stop-color="#0000d1"/><stop offset="0.8263" stop-color="#0000b1"/><stop offset="0.8271" stop-color="#0d00a8"/><stop offset="0.8278" stop-color="#3800a3"/><stop offset="0.8293" stop-color="#78009b"/><stop offset="0.8308" stop-color="#870098"/><stop offset="0.8952" stop-color="#830094"/><stop offset="0.9139" stop-color="#770088"/><stop offset="0.9162" stop-color="#670075"/><stop offset="0.9244" stop-color="#4b0055"/><stop offset="0.9251" stop-color="#41004b"/><stop offset="0.9266" stop-color="#41004b"/><stop offset="0.9296" stop-color="#2f0035"/><stop offset="0.9326" stop-color="#2f0035"/><stop offset="0.9334" stop-color="#25002b"/><stop offset="0.9356" stop-color="#25002b"/><stop offset="0.9364" stop-color="#1c0020"/><stop offset="0.9401" stop-color="#1c0020"/><stop offset="0.9409" stop-color="#130015"/><stop offset="0.9476" stop-color="#130015"/><stop offset="0.9484" stop-color="#09000b"/><stop offset="0.9648" stop-color="#09000b"/><stop offset="0.9656" stop-color="#000000"/><stop offset="1" stop-color="#000000"/></linearGradient>
<linearGradient id="g0_11" x1="0" x2="1" y1="0" y2="0"><stop offset="0" stop-color="#850096"/><stop offset="0.005988" stop-color="#850096"/><stop offset="0.008234" stop-color="#7b008c"/><stop offset="0.008982" stop-color="#700080"/><stop offset="0.01048" stop-color="#380040"/><stop offset="0.01123" stop-color="#2f0035"/><stop offset="0.01647" stop-color="#2f0035"/><stop offset="0.01722" stop-color="#25002b"/><stop offset="0.03069" stop-color="#25002b"/><stop offset="0.03144" stop-color="#1c0020"/><stop offset="0.1781" stop-color="#1c0020"/><stop offset="0.1789" stop-color="#25002b"/><stop offset="0.1826" stop-color="#25002b"/><stop offset="0.1834" stop-color="#2f0035"/><stop offset="0.1864" stop-color="#2f0035"/><stop offset="0.1871" stop-color="#380040"/><stop offset="0.1886" stop-color="#380040"/><stop offset="0.1976" stop-color="#770088"/><stop offset="0.2073" stop-color="#830094"/><stop offset="0.2268" stop-color="#870098"/><stop offset="0.2283" stop-color="#6d009c"/><stop offset="0.232" stop-color="#0d00a8"/><stop offset="0.2335" stop-color="#0000b1"/><stop offset="0.2388" stop-color="#0000c9"/><stop offset="0.2507" stop-color="#0000dd"/><stop offset="0.2515" stop-color="#0009dd"/><stop offset="0.2575" stop-color="#001cdd"/><stop offset="0.259" stop-color="#002fdd"/><stop offset="0.2597" stop-color="#002fdd"/><stop offset="0.265" stop-color="#0070dd"/><stop offset="0.2665" stop-color="#0078dd"/><stop offset="0.2777" stop-color="#0090dd"/><stop offset="0.2919" stop-color="#0098dd"/><stop offset="0.3278" stop-color="#00aaab"/><stop offset="0.387" stop-color="#00aa8b"/><stop offset="0.3877" stop-color="#009f33"/><stop offset="0.3885" stop-color="#00a700"/><stop offset="0.3907" stop-color="#00f200"/><stop offset="0.3915" stop-color="#00f200"/><stop offset="0.3937" stop-color="#00a700"/><stop offset="0.3945" stop-color="#009e28"/><stop offset="0.3952" stop-color="#00aa88"/><stop offset="0.3982" stop-color="#00aa88"/><stop offset="0.399" stop-color="#00a97d"/><stop offset="0.4042" stop-color="#00a97d"/><stop offset="0.4049" stop-color="#00a773"/><stop offset="0.4139" stop-color="#00a773"/><stop offset="0.4147" stop-color="#00a668"/><stop offset="0.4177" stop-color="#00a668"/><stop offset="0.4222" stop-color="#00a248"/><stop offset="0.4296" stop-color="#00a13d"/><stop offset="0.4304" stop-color="#009f33"/><stop offset="0.4311" stop-color="#00a13d"/><stop offset="0.4371" stop-color="#00a13d"/><stop offset="0.4379" stop-color="#009f33"/><stop offset="0.4431" stop-color="#009e28"/><stop offset="0.4454" stop-color="#009b13"/><stop offset="0.4476" stop-color="#009b13"/><stop offset="0.4484" stop-color="#009a08"/><stop offset="0.4513" stop-color="#009a08"/><stop offset="0.4521" stop-color="#009a00"/><stop offset="0.485" stop-color="#00a400"/><stop offset="0.5374" stop-color="#00a400"/><stop offset="0.5479" stop-color="#009a00"/><stop offset="0.5501" stop-color="#009b13"/><stop offset="0.5516" stop-color="#009b13"/><stop offset="0.5614" stop-color="#00a55d"/><stop offset="0.5651" stop-color="#00a668"/><stop offset="0.5689" stop-color="#00aa88"/><stop offset="0.613" stop-color="#00aaab"/><stop offset="0.6437" stop-color="#0098dd"/><stop offset="0.6684" stop-color="#007add"/><stop offset="0.6789" stop-color="#0038dd"/><stop offset="0.6826" stop-color="#002fdd"/><stop offset="0.6834" stop-color="#0025dd"/><stop offset="0.6856" stop-color="#0025dd"/><stop offset="0.6886" stop-color="#0013dd"/><stop offset="0.6909" stop-color="#0013dd"/><stop offset="0.6939" stop-color="#0000dd"/><stop offset="0.7208" stop-color="#0000d1"/><stop offset="0.7373" stop-color="#0000b9"/><stop offset="0.7418" stop-color="#0000cd"/><stop offset="0.7425" stop-color="#0067dd"/><stop offset="0.7433" stop-color="#0098dd"/><stop offset="0.744" stop-color="#00aaa8"/><stop offset="0.7448" stop-color="#00a773"/><stop offset="0.7455" stop-color="#009f00"/><stop offset="0.747" stop-color="#009f00"/><stop offset="0.7478" stop-color="#00a13d"/><stop offset="0.7485" stop-color="#00aa8b"/><stop offset="0.75" stop-color="#00a3bf"/><stop offset="0.7507" stop-color="#008add"/><stop offset="0.7515" stop-color="#007ddd"/><stop offset="0.7522" stop-color="#005ddd"/><stop offset="0.7537" stop-color="#0000dd"/><stop offset="0.7575" stop-color="#0000dd"/><stop offset="0.759" stop-color="#005ddd"/><stop offset="0.7597" stop-color="#007ddd"/><stop offset="0.7612" stop-color="#0098dd"/><stop offset="0.768" stop-color="#0098dd"/><stop offset="0.7717" stop-color="#00a3bf"/><stop offset="0.7799" stop-color="#00a3bf"/><stop offset="0.7814" stop-color="#00aa95"/><stop offset="0.7822" stop-color="#00a773"/><stop offset="0.7829" stop-color="#009e28"/><stop offset="0.7837" stop-color="#009f00"/><stop offset="0.7859" stop-color="#009f00"/><stop offset="0.7867" stop-color="#00a773"/><stop offset="0.7874" stop-color="#00aaa5"/><stop offset="0.7882" stop-color="#009adb"/><stop offset="0.7889" stop-color="#0078dd"/><stop offset="0.7897" stop-color="#0000dd"/><stop offset="0.7972" stop-color="#0000dd"/><stop offset="0.7979" stop-color="#0067dd"/><stop offset="0.7987" stop-color="#0090dd"/><stop offset="0.7994" stop-color="#00a3bf"/><stop offset="0.8001" stop-color="#00aa98"/><stop offset="0.8009" stop-color="#00a353"/><stop offset="0.8039" stop-color="#00a353"/><stop offset="0.8046" stop-color="#00aa98"/><stop offset="0.8054" stop-color="#00a3bf"/><stop offset="0.8061" stop-color="#0090dd"/><stop offset="0.8069" stop-color="#0067dd"/><stop offset="0.8076" stop-color="#0000dd"/><stop offset="0.8241" stop-color="#0000d1"/><stop offset="0.8263" stop-color="#0000b1"/><stop offset="0.8271" stop-color="#0d00a8"/><stop offset="0.8278" stop-color="#3800a3"/><stop offset="0.8293" stop-color="#78009b"/><stop offset="0.8308" stop-color="#870098"/><stop offset="0.8952" stop-color="#830094"/><stop offset="0.9139" stop-color="#770088"/><stop offset="0.9162" stop-color="#670075"/><stop offset="0.9244" stop-color="#4b0055"/><stop offset="0.9251" stop-color="#41004b"/><stop offset="0.9266" stop-color="#41004b"/><stop offset="0.9296" stop-color="#2f0035"/><stop offset="0.9326" stop-color="#2f0035"/><stop offset="0.9334" stop-color="#25002b"/><stop offset="0.9356" stop-color="#25002b"/><stop offset="0.9364" stop-color="#1c0020"/><stop offset="0.9401" stop-color="#1c0020"/><stop offset="0.9409" stop-color="#130015"/><stop offset="0.9476" stop-color="#130015"/><stop offset="0.9484" stop-color="#09000b"/><stop offset="0.9648" stop-color="#09000b"/><stop offset="0.9656" stop-color="#000000"/><stop offset="1" stop-color="#000000"/></linearGradient>
<linearGradient id="g0_12" x1="0" x2="1" y1="0" y2="0"><stop offset="0" stop-color="#850096"/><stop offset="0.005988" stop-color="#850096"/><stop offset="0.008234" stop-color="#7b008c"/><stop offset="0.008982" stop-color="#700080"/><stop offset="0.01048" stop-color="#380040"/><stop offset="0.01123" stop-color="#2f0035"/><stop offset="0.01647" stop-color="#2f0035"/><stop offset="0.01722" stop-color="#25002b"/><stop offset="0.03069" stop-color="#25002b"/><stop offset="0.03144" stop-color="#1c0020"/><stop offset="0.1781" stop-color="#1c0020"/><stop offset="0.1789" stop-color="#25002b"/><stop offset="0.1826" stop-color="#25002b"/><stop offset="0.1834" stop-color="#2f0035"/><stop offset="0.1864" stop-color="#2f0035"/><stop offset="0.1871" stop-color="#380040"/><stop offset="0.1886" stop-color="#380040"/><stop offset="0.1976" stop-color="#770088"/><stop offset="0.2073" stop-color="#830094"/><stop offset="0.2268" stop-color="#870098"/><stop offset="0.2283" stop-color="#6d009c"/><stop offset="0.232" stop-color="#0d00a8"/><stop offset="0.2335" stop-color="#0000b1"/><stop offset="0.2358" stop-color="#0000c1"/><stop offset="0.2395" stop-color="#0000c9"/><stop offset="0.2597" stop-color="#0000dd"/><stop offset="0.2605" stop-color="#0009dd"/><stop offset="0.2642" stop-color="#0009dd"/><stop offset="0.265" stop-color="#0013dd"/><stop offset="0.268" stop-color="#0013dd"/><stop offset="0.2687" stop-color="#001cdd"/><stop offset="0.2717" stop-color="#001cdd"/><stop offset="0.2747" stop-color="#002fdd"/><stop offset="0.2799" stop-color="#0070dd"/><stop offset="0.2822" stop-color="#007add"/><stop offset="0.2927" stop-color="#0090dd"/><stop offset="0.3069" stop-color="#0098dd"/><stop offset="0.3466" stop-color="#00aaa8"/><stop offset="0.4132" stop-color="#00aa88"/><stop offset="0.4139" stop-color="#00a97d"/><stop offset="0.4184" stop-color="#00a97d"/><stop offset="0.4192" stop-color="#00a773"/><stop offset="0.4229" stop-color="#00a773"/><stop offset="0.4237" stop-color="#00a668"/><stop offset="0.4289" stop-color="#00a668"/><stop offset="0.4296" stop-color="#00a55d"/><stop offset="0.4319" stop-color="#00a55d"/><stop offset="0.4326" stop-color="#00a353"/><stop offset="0.4349" stop-color="#00a353"/><stop offset="0.4356" stop-color="#00a248"/><stop offset="0.4424" stop-color="#00a13d"/><stop offset="0.4431" stop-color="#009f33"/><stop offset="0.4469" stop-color="#009f33"/><stop offset="0.4476" stop-color="#009e28"/><stop offset="0.4536" stop-color="#009d1d"/><stop offset="0.4543" stop-color="#009b13"/><stop offset="0.4566" stop-color="#009b13"/><stop offset="0.4573" stop-color="#009a08"/><stop offset="0.4603" stop-color="#009a00"/><stop offset="0.4948" stop-color="#009a00"/><stop offset="0.4955" stop-color="#009a08"/><stop offset="0.506" stop-color="#009a08"/><stop offset="0.5067" stop-color="#009a00"/><stop offset="0.5434" stop-color="#009a00"/><stop offset="0.5449" stop-color="#009a08"/><stop offset="0.5464" stop-color="#009d1d"/><stop offset="0.5584" stop-color="#00a773"/><stop offset="0.5606" stop-color="#00a773"/><stop offset="0.5614" stop-color="#00a97d"/><stop offset="0.5636" stop-color="#00a97d"/><stop offset="0.5644" stop-color="#00aa88"/><stop offset="0.6018" stop-color="#00aaa8"/><stop offset="0.6332" stop-color="#009adb"/><stop offset="0.6519" stop-color="#0088dd"/><stop offset="0.6617" stop-color="#0078dd"/><stop offset="0.6714" stop-color="#0038dd"/><stop offset="0.6789" stop-color="#0025dd"/><stop offset="0.6796" stop-color="#001cdd"/><stop offset="0.6819" stop-color="#001cdd"/><stop offset="0.6826" stop-color="#0013dd"/><stop offset="0.6849" stop-color="#0013dd"/><stop offset="0.6856" stop-color="#0009dd"/><stop offset="0.6879" stop-color="#0009dd"/><stop offset="0.6886" stop-color="#0000dd"/><stop offset="0.7186" stop-color="#0000d1"/><stop offset="0.7365" stop-color="#0000b9"/><stop offset="0.7395" stop-color="#0000bd"/><stop offset="0.7418" stop-color="#0000cd"/><stop offset="0.7425" stop-color="#0067dd"/><stop offset="0.7433" stop-color="#0098dd"/><stop offset="0.744" stop-color="#00aaa8"/><stop offset="0.7448" stop-color="#00a773"/><stop offset="0.7455" stop-color="#009f00"/><stop offset="0.747" stop-color="#009f00"/><stop offset="0.7478" stop-color="#00a13d"/><stop offset="0.7485" stop-color="#00aa8b"/><stop offset="0.75" stop-color="#00a3bf"/><stop offset="0.7507" stop-color="#008add"/><stop offset="0.7515" stop-color="#007ddd"/><stop offset="0.7522" stop-color="#005ddd"/><stop offset="0.7537" stop-color="#0000dd"/><stop offset="0.7575" stop-color="#0000dd"/><stop offset="0.759" stop-color="#005ddd"/><stop offset="0.7597" stop-color="#007ddd"/><stop offset="0.7612" stop-color="#0098dd"/><stop offset="0.768" stop-color="#0098dd"/><stop offset="0.7717" stop-color="#00a3bf"/><stop offset="0.7799" stop-color="#00a3bf"/><stop offset="0.7814" stop-color="#00aa95"/><stop offset="0.7822" stop-color="#00a773"/><stop offset="0.7829" stop-color="#009e28"/><stop offset="0.7837" stop-color="#009f00"/><stop offset="0.7859" stop-color="#009f00"/><stop offset="0.7867" stop-color="#00a773"/><stop offset="0.7874" stop-color="#00aaa5"/><stop offset="0.7882" stop-color="#009adb"/><stop offset="0.7889" stop-color="#0078dd"/><stop offset="0.7897" stop-color="#0000dd"/><stop offset="0.7972" stop-color="#0000dd"/><stop offset="0.7979" stop-color="#0067dd"/><stop offset="0.7987" stop-color="#0090dd"/><stop offset="0.7994" stop-color="#00a3bf"/><stop offset="0.8001" stop-color="#00aa98"/><stop offset="0.8009" stop-color="#00a353"/><stop offset="0.8039" stop-color="#00a353"/><stop offset="0.8046" stop-color="#00aa98"/><stop offset="0.8054" stop-color="#00a3bf"/><stop offset="0.8061" stop-color="#0090dd"/><stop offset="0.8069" stop-color="#0067dd"/><stop offset="0.8076" stop-color="#0000dd"/><stop offset="0.8091" stop-color="#0000dd"/><stop offset="0.8241" stop-color="#0000d1"/><stop offset="0.8263" stop-color="#0000b1"/><stop offset="0.8271" stop-color="#0d00a8"/><stop offset="0.8278" stop-color="#3800a3"/><stop offset="0.8293" stop-color="#78009b"/><stop offset="0.8308" stop-color="#870098"/><stop offset="0.8952" stop-color="#830094"/><stop offset="0.9139" stop-color="#770088"/><stop offset="0.9162" stop-color="#670075"/><stop offset="0.9244" stop-color="#4b0055"/><stop offset="0.9251" stop-color="#41004b"/><stop offset="0.9266" stop-color="#41004b"/><stop offset="0.9296" stop-color="#2f0035"/><stop offset="0.9326" stop-color="#2f0035"/><stop offset="0.9334" stop-color="#25002b"/><stop offset="0.9356" stop-color="#25002b"/><stop offset="0.9364" stop-color="#1c0020"/><stop offset="0.9401" stop-color="#1c0020"/><stop offset="0.9409" stop-color="#130015"/><stop offset="0.9476" stop-color="#130015"/><stop offset="0.9484" stop-color="#09000b"/><stop offset="0.9648" stop-color="#09000b"/><stop offset="0.9656" stop-color="#000000"/><stop offset="1" stop-color="#000000"/></linearGradient>
<linearGradient id="g0_13" x1="0" x2="1" y1="0" y2="0"><stop offset="0" stop-color="#850096"/><stop offset="0.005988" stop-color="#850096"/><stop offset="0.008234" stop-color="#7b008c"/><stop offset="0.008982" stop-color="#700080"/><stop offset="0.01048" stop-color="#380040"/><stop offset="0.01123" stop-color="#2f0035"/><stop offset="0.01647" stop-color="#2f0035"/><stop offset="0.01722" stop-color="#25002b"/><stop offset="0.03069" stop-color="#25002b"/><stop offset="0.03144" stop-color="#1c0020"/><stop offset="0.1781" stop-color="#1c0020"/><stop offset="0.1789" stop-color="#25002b"/><stop offset="0.1826" stop-color="#25002b"/><stop offset="0.1834" stop-color="#2f0035"/><stop offset="0.1864" stop-color="#2f0035"/><stop offset="0.1871" stop-color="#380040"/><stop offset="0.1886" stop-color="#380040"/><stop offset="0.1976" stop-color="#770088"/><stop offset="0.2073" stop-color="#830094"/><stop offset="0.2268" stop-color="#870098"/><stop offset="0.2283" stop-color="#6d009c"/><stop offset="0.232" stop-color="#0d00a8"/><stop offset="0.2335" stop-color="#0000b1"/><stop offset="0.2388" stop-color="#0000c9"/><stop offset="0.2507" stop-color="#0000dd"/><stop offset="0.2515" stop-color="#0009dd"/><stop offset="0.2575" stop-color="#001cdd"/><stop offset="0.259" stop-color="#002fdd"/><stop offset="0.2597" stop-color="#002fdd"/><stop offset="0.265" stop-color="#0070dd"/><stop offset="0.2665" stop-color="#0078dd"/><stop offset="0.2777" stop-color="#0090dd"/><stop offset="0.2919" stop-color="#0098dd"/><stop offset="0.3316" stop-color="#00aaa8"/><stop offset="0.399" stop-color="#00aa88"/><stop offset="0.3997" stop-color="#00a97d"/><stop offset="0.4049" stop-color="#00a97d"/><stop offset="0.4057" stop-color="#00a773"/><stop offset="0.4139" stop-color="#00a773"/><stop offset="0.4147" stop-color="#00a668"/><stop offset="0.4184" stop-color="#00a668"/><stop offset="0.4214" stop-color="#00a353"/><stop offset="0.4296" stop-color="#00a248"/><stop offset="0.4304" stop-color="#00a13d"/><stop offset="0.4356" stop-color="#00a13d"/><stop offset="0.4364" stop-color="#009f33"/><stop offset="0.4394" stop-color="#009f33"/><stop offset="0.4401" stop-color="#009e28"/><stop offset="0.4424" stop-color="#009e28"/><stop offset="0.4454" stop-color="#009b13"/><stop offset="0.4484" stop-color="#009b13"/><stop offset="0.4491" stop-color="#009a08"/><stop offset="0.4521" stop-color="#009a08"/><stop offset="0.4528" stop-color="#009a00"/><stop offset="0.5067" stop-color="#00a700"/><stop offset="0.5457" stop-color="#009a00"/><stop offset="0.5539" stop-color="#00a13d"/><stop offset="0.5584" stop-color="#00a248"/><stop offset="0.5644" stop-color="#00a773"/><stop offset="0.5711" stop-color="#00a97d"/><stop offset="0.5719" stop-color="#00aa88"/><stop offset="0.6138" stop-color="#00aaab"/><stop offset="0.6317" stop-color="#009ecf"/><stop offset="0.649" stop-color="#0095dd"/><stop offset="0.6684" stop-color="#007add"/><stop offset="0.6789" stop-color="#0038dd"/><stop offset="0.6826" stop-color="#002fdd"/><stop offset="0.6834" stop-color="#0025dd"/><stop offset="0.6856" stop-color="#0025dd"/><stop offset="0.6886" stop-color="#0013dd"/><stop offset="0.6909" stop-color="#0013dd"/><stop offset="0.6939" stop-color="#0000dd"/><stop offset="0.7208" stop-color="#0000d1"/><stop offset="0.7373" stop-color="#0000b9"/><stop offset="0.7418" stop-color="#0000cd"/><stop offset="0.7425" stop-color="#0067dd"/><stop offset="0.7433" stop-color="#0098dd"/><stop offset="0.744" stop-color="#00aaa8"/><stop offset="0.7448" stop-color="#00a773"/><stop offset="0.7455" stop-color="#009f00"/><stop offset="0.747" stop-color="#009f00"/><stop offset="0.7478" stop-color="#00a13d"/><stop offset="0.7485" stop-color="#00aa8b"/><stop offset="0.75" stop-color="#00a3bf"/><stop offset="0.7507" stop-color="#008add"/><stop offset="0.7515" stop-color="#007ddd"/><stop offset="0.7522" stop-color="#005ddd"/><stop offset="0.7537" stop-color="#0000dd"/><stop offset="0.7575" stop-color="#0000dd"/><stop offset="0.759" stop-color="#005ddd"/><stop offset="0.7597" stop-color="#007ddd"/><stop offset="0.7612" stop-color="#0098dd"/><stop offset="0.768" stop-color="#0098dd"/><stop offset="0.7717" stop-color="#00a3bf"/><stop offset="0.7799" stop-color="#00a3bf"/><stop offset="0.7814" stop-color="#00aa95"/><stop offset="0.7822" stop-color="#00a773"/><stop offset="0.7829" stop-color="#009e28"/><stop offset="0.7837" stop-color="#009f00"/><stop offset="0.7859" stop-color="#009f00"/><stop offset="0.7867" stop-color="#00a773"/><stop offset="0.7874" stop-color="#00aaa5"/><stop offset="0.7882" stop-color="#009adb"/><stop offset="0.7889" stop-color="#0078dd"/><stop offset="0.7897" stop-color="#0000dd"/><stop offset="0.7972" stop-color="#0000dd"/><stop offset="0.7979" stop-color="#0067dd"/><stop offset="0.7987" stop-color="#0090dd"/><stop offset="0.7994" stop-color="#00a3bf"/><stop offset="0.8001" stop-color="#00aa98"/><stop offset="0.8009" stop-color="#00a353"/><stop offset="0.8039" stop-color="#00a353"/><stop offset="0.8046" stop-color="#00aa98"/><stop offset="0.8054" stop-color="#00a3bf"/><stop offset="0.8061" stop-color="#0090dd"/><stop offset="0.8069" stop-color="#0067dd"/><stop offset="0.8076" stop-color="#0000dd"/><stop offset="0.8091" stop-color="#0000dd"/><stop offset="0.8241" stop-color="#0000d1"/><stop offset="0.8263" stop-color="#0000b1"/><stop offset="0.8271" stop-color="#0d00a8"/><stop offset="0.8278" stop-color="#3800a3"/><stop offset="0.8293" stop-color="#78009b"/><stop offset="0.8308" stop-color="#870098"/><stop offset="0.8952" stop-color="#830094"/><stop offset="0.9139" stop-color="#770088"/><stop offset="0.9162" stop-color="#670075"/><stop offset="0.9244" stop-color="#4b0055"/><stop offset="0.9251" stop-color="#41004b"/><stop offset="0.9266" stop-color="#41004b"/><stop offset="0.9296" stop-color="#2f0035"/><stop offset="0.9326" stop-color="#2f0035"/><stop offset="0.9334" stop-color="#25002b"/><stop offset="0.9356" stop-color="#25002b"/><stop offset="0.9364" stop-color="#1c0020"/><stop offset="0.9401" stop-color="#1c0020"/><stop offset="0.9409" stop-color="#130015"/><stop offset="0.9476" stop-color="#130015"/><stop offset="0.9484" stop-color="#09000b"/><stop offset="0.9648" stop-color="#09000b"/><stop offset="0.9656" stop-color="#000000"/><stop offset="1" stop-color="#000000"/></linearGradient>
<linearGradient id="g0_14" x1="0" x2="1" y1="0" y2="0"><stop offset="0" stop-color="#850096"/><stop offset="0.005988" stop-color="#850096"/><stop offset="0.008234" stop-color="#7b008c"/><stop offset="0.008982" stop-color="#700080"/><stop offset="0.01048" stop-color="#380040"/><stop offset="0.01123" stop-color="#2f0035"/><stop offset="0.01647" stop-color="#2f0035"/><stop offset="0.01722" stop-color="#25002b"/><stop offset="0.03069" stop-color="#25002b"/><stop offset="0.03144" stop-color="#1c0020"/><stop offset="0.1781" stop-color="#1c0020"/><stop offset="0.1789" stop-color="#25002b"/><stop offset="0.1826" stop-color="#25002b"/><stop offset="0.1834" stop-color="#2f0035"/><stop offset="0.1864" stop-color="#2f0035"/><stop offset="0.1871" stop-color="#380040"/><stop offset="0.1886" stop-color="#380040"/><stop offset="0.1976" stop-color="#770088"/><stop offset="0.2073" stop-color="#830094"/><stop offset="0.2268" stop-color="#870098"/><stop offset="0.2283" stop-color="#6d009c"/><stop offset="0.232" stop-color="#0d00a8"/><stop offset="0.2335" stop-color="#0000b1"/><stop offset="0.238" stop-color="#0000c9"/><stop offset="0.2485" stop-color="#0000dd"/><stop offset="0.256" stop-color="#002fdd"/><stop offset="0.2612" stop-color="#0070dd"/><stop offset="0.2627" stop-color="#0078dd"/><stop offset="0.274" stop-color="#0090dd"/><stop offset="0.2882" stop-color="#0098dd"/><stop offset="0.3278" stop-color="#00aaa8"/><stop offset="0.3975" stop-color="#00aa88"/><stop offset="0.3982" stop-color="#00a97d"/><stop offset="0.4027" stop-color="#00a97d"/><stop offset="0.4034" stop-color="#00a773"/><stop offset="0.4154" stop-color="#00a668"/><stop offset="0.4162" stop-color="#00a55d"/><stop offset="0.4192" stop-color="#00a55d"/><stop offset="0.4199" stop-color="#00a353"/><stop offset="0.4229" stop-color="#00a353"/><stop offset="0.4237" stop-color="#00a248"/><stop offset="0.4311" stop-color="#00a13d"/><stop offset="0.4341" stop-color="#009e28"/><stop offset="0.4371" stop-color="#009e28"/><stop offset="0.4379" stop-color="#009d1d"/><stop offset="0.4409" stop-color="#009d1d"/><stop offset="0.4416" stop-color="#009b13"/><stop offset="0.4446" stop-color="#009b13"/><stop offset="0.4454" stop-color="#009a08"/><stop offset="0.4484" stop-color="#009a00"/><stop offset="0.4693" stop-color="#00a700"/><stop offset="0.5464" stop-color="#00a200"/><stop offset="0.5487" stop-color="#009a00"/><stop offset="0.5509" stop-color="#009d1d"/><stop offset="0.5539" stop-color="#009f33"/><stop offset="0.5576" stop-color="#00a13d"/><stop offset="0.5636" stop-color="#00a668"/><stop offset="0.5674" stop-color="#00a773"/><stop offset="0.5696" stop-color="#00aa88"/><stop offset="0.6018" stop-color="#00aaa0"/><stop offset="0.6407" stop-color="#009adb"/><stop offset="0.6594" stop-color="#0088dd"/><stop offset="0.6692" stop-color="#0078dd"/><stop offset="0.6789" stop-color="#0038dd"/><stop offset="0.6826" stop-color="#002fdd"/><stop offset="0.6834" stop-color="#0025dd"/><stop offset="0.6856" stop-color="#0025dd"/><stop offset="0.6886" stop-color="#0013dd"/><stop offset="0.6909" stop-color="#0013dd"/><stop offset="0.6939" stop-color="#0000dd"/><stop offset="0.7208" stop-color="#0000d1"/><stop offset="0.7373" stop-color="#0000b9"/><stop offset="0.7418" stop-color="#0000cd"/><stop offset="0.7425" stop-color="#0067dd"/><stop offset="0.7433" stop-color="#0098dd"/><stop offset="0.744" stop-color="#00aaa8"/><stop offset="0.7448" stop-color="#00a773"/><stop offset="0.7455" stop-color="#009f00"/><stop offset="0.747" stop-color="#009f00"/><stop offset="0.7478" stop-color="#00a13d"/><stop offset="0.7485" stop-color="#00aa8b"/><stop offset="0.75" stop-color="#00a3bf"/><stop offset="0.7507" stop-color="#008add"/><stop offset="0.7515" stop-color="#007ddd"/><stop offset="0.7522" stop-color="#005ddd"/><stop offset="0.7537" stop-color="#0000dd"/><stop offset="0.7575" stop-color="#0000dd"/><stop offset="0.759" stop-color="#005ddd"/><stop offset="0.7597" stop-color="#007ddd"/><stop offset="0.7612" stop-color="#0098dd"/><stop offset="0.768" stop-color="#0098dd"/><stop offset="0.7717" stop-color="#00a3bf"/><stop offset="0.7799" stop-color="#00a3bf"/><stop offset="0.7814" stop-color="#00aa95"/><stop offset="0.7822" stop-color="#00a773"/><stop offset="0.7829" stop-color="#009e28"/><stop offset="0.7837" stop-color="#009f00"/><stop offset="0.7859" stop-color="#009f00"/><stop offset="0.7867" stop-color="#00a773"/><stop offset="0.7874" stop-color="#00aaa5"/><stop offset="0.7882" stop-color="#009adb"/><stop offset="0.7889" stop-color="#0078dd"/><stop offset="0.7897" stop-color="#0000dd"/><stop offset="0.7972" stop-color="#0000dd"/><stop offset="0.7979" stop-color="#0067dd"/><stop offset="0.7987" stop-color="#0090dd"/><stop offset="0.7994" stop-color="#00a3bf"/><stop offset="0.8001" stop-color="#00aa98"/><stop offset="0.8009" stop-color="#00a353"/><stop offset="0.8039" stop-color="#00a353"/><stop offset="0.8046" stop-color="#00aa98"/><stop offset="0.8054" stop-color="#00a3bf"/><stop offset="0.8061" stop-color="#0090dd"/><stop offset="0.8069" stop-color="#0067dd"/><stop offset="0.8076" stop-color="#0000dd"/><stop offset="0.8091" stop-color="#0000dd"/><stop offset="0.8241" stop-color="#0000d1"/><stop offset="0.8263" stop-color="#0000b1"/><stop offset="0.8271" stop-color="#0d00a8"/><stop offset="0.8278" stop-color="#3800a3"/><stop offset="0.8293" stop-color="#78009b"/><stop offset="0.8308" stop-color="#870098"/><stop offset="0.8952" stop-color="#830094"/><stop offset="0.9139" stop-color="#770088"/><stop offset="0.9162" stop-color="#670075"/><stop offset="0.9244" stop-color="#4b0055"/><stop offset="0.9251" stop-color="#41004b"/><stop offset="0.9266" stop-color="#41004b"/><stop offset="0.9296" stop-color="#2f0035"/><stop offset="0.9326" stop-color="#2f0035"/><stop offset="0.9334" stop-color="#25002b"/><stop offset="0.9356" stop-color="#25002b"/><stop offset="0.9364" stop-color="#1c0020"/><stop offset="0.9401" stop-color="#1c0020"/><stop offset="0.9409" stop-color="#130015"/><stop offset="0.9476" stop-color="#130015"/><stop offset="0.9484" stop-color="#09000b"/><stop offset="0.9648" stop-color="#09000b"/><stop offset="0.9656" stop-color="#000000"/><stop offset="1" stop-color="#000000"/></linearGradient>
<linearGradient id="g0_15" x1="0" x2="1" y1="0" y2="0"><stop offset="0" stop-color="#850096"/><stop offset="0.005988" stop-color="#850096"/><stop offset="0.008234" stop-color="#7b008c"/><stop offset="0.008982" stop-color="#700080"/><stop offset="0.01048" stop-color="#380040"/><stop offset="0.01123" stop-color="#2f0035"/><stop offset="0.01647" stop-color="#2f0035"/><stop offset="0.01722" stop-color="#25002b"/><stop offset="0.03069" stop-color="#25002b"/><stop offset="0.03144" stop-color="#1c0020"/><stop offset="0.1781" stop-color="#1c0020"/><stop offset="0.1789" stop-color="#25002b"/><stop offset="0.1826" stop-color="#25002b"/><stop offset="0.1834" stop-color="#2f0035"/><stop offset="0.1864" stop-color="#2f0035"/><stop offset="0.1871" stop-color="#380040"/><stop offset="0.1886" stop-color="#380040"/><stop offset="0.1976" stop-color="#770088"/><stop offset="0.2073" stop-color="#830094"/><stop offset="0.2268" stop-color="#870098"/><stop offset="0.2283" stop-color="#6d009c"/><stop offset="0.232" stop-color="#0d00a8"/><stop offset="0.2335" stop-color="#0000b1"/><stop offset="0.2388" stop-color="#0000c9"/><stop offset="0.253" stop-color="#0000dd"/><stop offset="0.2537" stop-color="#0009dd"/><stop offset="0.2612" stop-color="#001cdd"/><stop offset="0.2627" stop-color="#002fdd"/><stop offset="0.2635" stop-color="#002fdd"/><stop offset="0.2687" stop-color="#0070dd"/><stop offset="0.271" stop-color="#007add"/><stop offset="0.2814" stop-color="#0090dd"/><stop offset="0.2957" stop-color="#0098dd"/><stop offset="0.3353" stop-color="#00aaa8"/><stop offset="0.4057" stop-color="#00aa88"/><stop offset="0.4064" stop-color="#00a97d"/><stop offset="0.4087" stop-color="#00a97d"/><stop offset="0.4094" stop-color="#00a773"/><stop offset="0.4184" stop-color="#00a668"/><stop offset="0.4207" stop-color="#009a08"/><stop offset="0.4214" stop-color="#009f00"/><stop offset="0.4222" stop-color="#00a700"/><stop offset="0.4237" stop-color="#009a08"/><stop offset="0.4259" stop-color="#00a55d"/><stop offset="0.4304" stop-color="#00a353"/><stop offset="0.4341" stop-color="#009f33"/><stop offset="0.4364" stop-color="#009f33"/><stop offset="0.4371" stop-color="#009e28"/><stop offset="0.4409" stop-color="#009e28"/><stop offset="0.4416" stop-color="#009d1d"/><stop offset="0.4446" stop-color="#009d1d"/><stop offset="0.4454" stop-color="#009e28"/><stop offset="0.4469" stop-color="#009e28"/><stop offset="0.4476" stop-color="#009d1d"/><stop offset="0.4499" stop-color="#009d1d"/><stop offset="0.4506" stop-color="#009b13"/><stop offset="0.4536" stop-color="#009b13"/><stop offset="0.4543" stop-color="#009a08"/><stop offset="0.4573" stop-color="#009a08"/><stop offset="0.4581" stop-color="#009a00"/><stop offset="0.5397" stop-color="#00a200"/><stop offset="0.5457" stop-color="#009a00"/><stop offset="0.5546" stop-color="#00a13d"/><stop offset="0.5569" stop-color="#00a55d"/><stop offset="0.5614" stop-color="#00a97d"/><stop offset="0.5636" stop-color="#00a97d"/><stop offset="0.5644" stop-color="#00aa88"/><stop offset="0.6063" stop-color="#00aaab"/><stop offset="0.637" stop-color="#009adb"/><stop offset="0.6557" stop-color="#0088dd"/><stop offset="0.6654" stop-color="#0078dd"/><stop offset="0.6751" stop-color="#0038dd"/><stop offset="0.6826" stop-color="#0025dd"/><stop offset="0.6886" stop-color="#0009dd"/><stop offset="0.6909" stop-color="#0009dd"/><stop offset="0.6916" stop-color="#0000dd"/><stop offset="0.7193" stop-color="#0000d1"/><stop offset="0.7373" stop-color="#0000b9"/><stop offset="0.7418" stop-color="#0000cd"/><stop offset="0.7425" stop-color="#0067dd"/><stop offset="0.7433" stop-color="#0098dd"/><stop offset="0.744" stop-color="#00aaa8"/><stop offset="0.7448" stop-color="#00a773"/><stop offset="0.7455" stop-color="#009f00"/><stop offset="0.747" stop-color="#009f00"/><stop offset="0.7478" stop-color="#00a13d"/><stop offset="0.7485" stop-color="#00aa8b"/><stop offset="0.75" stop-color="#00a3bf"/><stop offset="0.7507" stop-color="#008add"/><stop offset="0.7515" stop-color="#007ddd"/><stop offset="0.7522" stop-color="#005ddd"/><stop offset="0.7537" stop-color="#0000dd"/><stop offset="0.7575" stop-color="#0000dd"/><stop offset="0.759" stop-color="#005ddd"/><stop offset="0.7597" stop-color="#007ddd"/><stop offset="0.7612" stop-color="#0098dd"/><stop offset="0.768" stop-color="#0098dd"/><stop offset="0.7717" stop-color="#00a3bf"/><stop offset="0.7799" stop-color="#00a3bf"/><stop offset="0.7814" stop-color="#00aa95"/><stop offset="0.7822" stop-color="#00a773"/><stop offset="0.7829" stop-color="#009e28"/><stop offset="0.7837" stop-color="#009f00"/><stop offset="0.7859" stop-color="#009f00"/><stop offset="0.7867" stop-color="#00a773"/><stop offset="0.7874" stop-color="#00aaa5"/><stop offset="0.7882" stop-color="#009adb"/><stop offset="0.7889" stop-color="#0078dd"/><stop offset="0.7897" stop-color="#0000dd"/><stop offset="0.7972" stop-color="#0000dd"/><stop offset="0.7979" stop-color="#0067dd"/><stop offset="0.7987" stop-color="#0090dd"/><stop offset="0.7994" stop-color="#00a3bf"/><stop offset="0.8001" stop-color="#00aa98"/><stop offset="0.8009" stop-color="#00a353"/><stop offset="0.8039" stop-color="#00a353"/><stop offset="0.8046" stop-color="#00aa98"/><stop offset="0.8054" stop-color="#00a3bf"/><stop offset="0.8061" stop-color="#0090dd"/><stop offset="0.8069" stop-color="#0067dd"/><stop offset="0.8076" stop-color="#0000dd"/><stop offset="0.8091" stop-color="#0000dd"/><stop offset="0.8241" stop-color="#0000d1"/><stop offset="0.8263" stop-color="#0000b1"/><stop offset="0.8271" stop-color="#0d00a8"/><stop offset="0.8278" stop-color="#3800a3"/><stop offset="0.8293" stop-color="#78009b"/><stop offset="0.8308" stop-color="#870098"/><stop offset="0.8952" stop-color="#830094"/><stop offset="0.9139" stop-color="#770088"/><stop offset="0.9162" stop-color="#670075"/><stop offset="0.9244" stop-color="#4b0055"/><stop offset="0.9251" stop-color="#41004b"/><stop offset="0.9266" stop-color="#41004b"/><stop offset="0.9296" stop-color="#2f0035"/><stop offset="0.9326" stop-color="#2f0035"/><stop offset="0.9334" stop-color="#25002b"/><stop offset="0.9356" stop-color="#25002b"/><stop offset="0.9364" stop-color="#1c0020"/><stop offset="0.9401" stop-color="#1c0020"/><stop offset="0.9409" stop-color="#130015"/><stop offset="0.9476" stop-color="#130015"/><stop offset="0.9484" stop-color="#09000b"/><stop offset="0.9648" stop-color="#09000b"/><stop offset="0.9656" stop-color="#000000"/><stop offset="1" stop-color="#000000"/></linearGradient>
<linearGradient id="g0_16" x1="0" x2="1" y1="0" y2="0"><stop offset="0" stop-color="#850096"/><stop offset="0.005988" stop-color="#850096"/><stop offset="0.008234" stop-color="#7b008c"/><stop offset="0.008982" stop-color="#700080"/><stop offset="0.01048" stop-color="#380040"/><stop offset="0.01123" stop-color="#2f0035"/><stop offset="0.01647" stop-color="#2f0035"/><stop offset="0.01722" stop-color="#25002b"/><stop offset="0.03069" stop-color="#25002b"/><stop offset="0.03144" stop-color="#1c0020"/><stop offset="0.1781" stop-color="#1c0020"/><stop offset="0.1789" stop-color="#25002b"/><stop offset="0.1826" stop-color="#25002b"/><stop offset="0.1834" stop-color="#2f0035"/><stop offset="0.1864" stop-color="#2f0035"/><stop offset="0.1871" stop-color="#380040"/><stop offset="0.1886" stop-color="#380040"/><stop offset="0.1976" stop-color="#770088"/><stop offset="0.2073" stop-color="#830094"/><stop offset="0.2268" stop-color="#870098"/><stop offset="0.2283" stop-color="#6d009c"/><stop offset="0.232" stop-color="#0d00a8"/><stop offset="0.2335" stop-color="#0000b1"/><stop offset="0.2388" stop-color="#0000c9"/><stop offset="0.2507" stop-color="#0000dd"/><stop offset="0.2515" stop-color="#0009dd"/><stop offset="0.2575" stop-color="#001cdd"/><stop offset="0.259" stop-color="#002fdd"/><stop offset="0.2597" stop-color="#002fdd"/><stop offset="0.265" stop-color="#0070dd"/><stop offset="0.2665" stop-color="#0078dd"/><stop offset="0.2777" stop-color="#0090dd"/><stop offset="0.2919" stop-color="#0098dd"/><stop offset="0.3278" stop-color="#00aaab"/><stop offset="0.39" stop-color="#00aa8d"/><stop offset="0.396" stop-color="#00aa88"/><stop offset="0.3967" stop-color="#00a97d"/><stop offset="0.4019" stop-color="#00a97d"/><stop offset="0.4027" stop-color="#00a773"/><stop offset="0.4139" stop-color="#00a773"/><stop offset="0.4147" stop-color="#00a668"/><stop offset="0.4184" stop-color="#00a668"/><stop offset="0.4192" stop-color="#00a13d"/><stop offset="0.4207" stop-color="#009c00"/><stop offset="0.4222" stop-color="#00ac00"/><stop offset="0.4237" stop-color="#009c00"/><stop offset="0.4244" stop-color="#009b13"/><stop offset="0.4259" stop-color="#00a353"/><stop offset="0.4289" stop-color="#00a353"/><stop offset="0.4296" stop-color="#00a248"/><stop offset="0.4364" stop-color="#00a13d"/><stop offset="0.4371" stop-color="#009f33"/><stop offset="0.4401" stop-color="#009f33"/><stop offset="0.4409" stop-color="#009e28"/><stop offset="0.4439" stop-color="#009e28"/><stop offset="0.4446" stop-color="#009d1d"/><stop offset="0.4469" stop-color="#009d1d"/><stop offset="0.4476" stop-color="#009b13"/><stop offset="0.4506" stop-color="#009b13"/><stop offset="0.4513" stop-color="#009a08"/><stop offset="0.4566" stop-color="#009a08"/><stop offset="0.4573" stop-color="#009a00"/><stop offset="0.4865" stop-color="#00a700"/><stop offset="0.5202" stop-color="#00a700"/><stop offset="0.5457" stop-color="#009a00"/><stop offset="0.5479" stop-color="#009b13"/><stop offset="0.5494" stop-color="#009b13"/><stop offset="0.5591" stop-color="#00a55d"/><stop offset="0.5606" stop-color="#00a55d"/><stop offset="0.5651" stop-color="#00a97d"/><stop offset="0.6123" stop-color="#00aaab"/><stop offset="0.6317" stop-color="#009ecf"/><stop offset="0.649" stop-color="#0095dd"/><stop offset="0.6684" stop-color="#007add"/><stop offset="0.6789" stop-color="#0038dd"/><stop offset="0.6826" stop-color="#002fdd"/><stop offset="0.6834" stop-color="#0025dd"/><stop offset="0.6856" stop-color="#0025dd"/><stop offset="0.6886" stop-color="#0013dd"/><stop offset="0.6909" stop-color="#0013dd"/><stop offset="0.6939" stop-color="#0000dd"/><stop offset="0.7208" stop-color="#0000d1"/><stop offset="0.7373" stop-color="#0000b9"/><stop offset="0.7418" stop-color="#0000cd"/><stop offset="0.7425" stop-color="#0067dd"/><stop offset="0.7433" stop-color="#0098dd"/><stop offset="0.744" stop-color="#00aaa8"/><stop offset="0.7448" stop-color="#00a773"/><stop offset="0.7455" stop-color="#009f00"/><stop offset="0.747" stop-color="#009f00"/><stop offset="0.7478" stop-color="#00a13d"/><stop offset="0.7485" stop-color="#00aa8b"/><stop offset="0.75" stop-color="#00a3bf"/><stop offset="0.7507" stop-color="#008add"/><stop offset="0.7515" stop-color="#007ddd"/><stop offset="0.7522" stop-color="#005ddd"/><stop offset="0.7537" stop-color="#0000dd"/><stop offset="0.7575" stop-color="#0000dd"/><stop offset="0.759" stop-color="#005ddd"/><stop offset="0.7597" stop-color="#007ddd"/><stop offset="0.7612" stop-color="#0098dd"/><stop offset="0.768" stop-color="#0098dd"/><stop offset="0.7717" stop-color="#00a3bf"/><stop offset="0.7799" stop-color="#00a3bf"/><stop offset="0.7814" stop-color="#00aa95"/><stop offset="0.7822" stop-color="#00a773"/><stop offset="0.7829" stop-color="#009e28"/><stop offset="0.7837" stop-color="#009f00"/><stop offset="0.7859" stop-color="#009f00"/><stop offset="0.7867" stop-color="#00a773"/><stop offset="0.7874" stop-color="#00aaa5"/><stop offset="0.7882" stop-color="#009adb"/><stop offset="0.7889" stop-color="#0078dd"/><stop offset="0.7897" stop-color="#0000dd"/><stop offset="0.7972" stop-color="#0000dd"/><stop offset="0.7979" stop-color="#0067dd"/><stop offset="0.7987" stop-color="#0090dd"/><stop offset="0.7994" stop-color="#00a3bf"/><stop offset="0.8001" stop-color="#00aa98"/><stop offset="0.8009" stop-color="#00a353"/><stop offset="0.8039" stop-color="#00a353"/><stop offset="0.8046" stop-color="#00aa98"/><stop offset="0.8054" stop-color="#00a3bf"/><stop offset="0.8061" stop-color="#0090dd"/><stop offset="0.8069" stop-color="#0067dd"/><stop offset="0.8076" stop-color="#0000dd"/><stop offset="0.8091" stop-color="#0000dd"/><stop offset="0.8241" stop-color="#0000d1"/><stop offset="0.8263" stop-color="#0000b1"/><stop offset="0.8271" stop-color="#0d00a8"/><stop offset="0.8278" stop-color="#3800a3"/><stop offset="0.8293" stop-color="#78009b"/><stop offset="0.8308" stop-color="#870098"/><stop offset="0.8952" stop-color="#830094"/><stop offset="0.9139" stop-color="#770088"/><stop offset="0.9162" stop-color="#670075"/><stop offset="0.9244" stop-color="#4b0055"/><stop offset="0.9251" stop-color="#41004b"/><stop offset="0.9266" stop-color="#41004b"/><stop offset="0.9296" stop-color="#2f0035"/><stop offset="0.9326" stop-color="#2f0035"/><stop offset="0.9334" stop-color="#25002b"/><stop offset="0.9356" stop-color="#25002b"/><stop offset="0.9364" stop-color="#1c0020"/><stop offset="0.9401" stop-color="#1c0020"/><stop offset="0.9409" stop-color="#130015"/><stop offset="0.9476" stop-color="#130015"/><stop offset="0.9484" stop-color="#09000b"/><stop offset="0.9648" stop-color="#09000b"/><stop offset="0.9656" stop-color="#000000"/><stop offset="1" stop-color="#000000"/></linearGradient>
<linearGradient id="g0_17" x1="0" x2="1" y1="0" y2="0"><stop offset="0" stop-color="#850096"/><stop offset="0.005988" stop-color="#850096"/><stop offset="0.008234" stop-color="#7b008c"/><stop offset="0.008982" stop-color="#700080"/><stop offset="0.01048" stop-color="#380040"/><stop offset="0.01123" stop-color="#2f0035"/><stop offset="0.01647" stop-color="#2f0035"/><stop offset="0.01722" stop-color="#25002b"/><stop offset="0.03069" stop-color="#25002b"/><stop offset="0.03144" stop-color="#1c0020"/><stop offset="0.1781" stop-color="#1c0020"/><stop offset="0.1789" stop-color="#25002b"/><stop offset="0.1826" stop-color="#25002b"/><stop offset="0.1834" stop-color="#2f0035"/><stop offset="0.1864" stop-color="#2f0035"/><stop offset="0.1871" stop-color="#380040"/><stop offset="0.1886" stop-color="#380040"/><stop offset="0.1976" stop-color="#770088"/><stop offset="0.2073" stop-color="#830094"/><stop offset="0.2268" stop-color="#870098"/><stop offset="0.2283" stop-color="#6d009c"/><stop offset="0.232" stop-color="#0d00a8"/><stop offset="0.2335" stop-color="#0000b1"/><stop offset="0.2388" stop-color="#0000c9"/><stop offset="0.253" stop-color="#0000dd"/><stop offset="0.2537" stop-color="#0009dd"/><stop offset="0.2612" stop-color="#001cdd"/><stop offset="0.2627" stop-color="#002fdd"/><stop offset="0.2635" stop-color="#002fdd"/><stop offset="0.2687" stop-color="#0070dd"/><stop offset="0.271" stop-color="#007add"/><stop offset="0.2814" stop-color="#0090dd"/><stop offset="0.2957" stop-color="#0098dd"/><stop offset="0.3316" stop-color="#00aaab"/><stop offset="0.3907" stop-color="#00aa8d"/><stop offset="0.3975" stop-color="#00aa88"/><stop offset="0.3982" stop-color="#00a97d"/><stop offset="0.4034" stop-color="#00a97d"/><stop offset="0.4042" stop-color="#00a773"/><stop offset="0.4132" stop-color="#00a773"/><stop offset="0.4139" stop-color="#00a668"/><stop offset="0.4184" stop-color="#00a668"/><stop offset="0.4192" stop-color="#009b13"/><stop offset="0.4199" stop-color="#00a700"/><stop offset="0.4222" stop-color="#00e400"/><stop offset="0.4251" stop-color="#009a08"/><stop offset="0.4259" stop-color="#00a353"/><stop offset="0.4281" stop-color="#00a353"/><stop offset="0.4289" stop-color="#00a248"/><stop offset="0.4311" stop-color="#00a248"/><stop offset="0.4319" stop-color="#00a13d"/><stop offset="0.4341" stop-color="#00a13d"/><stop offset="0.4349" stop-color="#009f33"/><stop offset="0.4386" stop-color="#009f33"/><stop offset="0.4394" stop-color="#009e28"/><stop offset="0.4469" stop-color="#009e28"/><stop offset="0.4476" stop-color="#009d1d"/><stop offset="0.4499" stop-color="#009d1d"/><stop offset="0.4506" stop-color="#009b13"/><stop offset="0.4603" stop-color="#009a08"/><stop offset="0.4611" stop-color="#009a00"/><stop offset="0.4708" stop-color="#00a200"/><stop offset="0.5412" stop-color="#00a200"/><stop offset="0.5442" stop-color="#009a00"/><stop offset="0.5531" stop-color="#00a248"/><stop offset="0.5569" stop-color="#00a353"/><stop offset="0.5606" stop-color="#00a773"/><stop offset="0.5629" stop-color="#00a773"/><stop offset="0.5636" stop-color="#00a97d"/><stop offset="0.5659" stop-color="#00a97d"/><stop offset="0.5666" stop-color="#00aa88"/><stop offset="0.601" stop-color="#00aaa3"/><stop offset="0.64" stop-color="#0098dd"/><stop offset="0.6647" stop-color="#007add"/><stop offset="0.6751" stop-color="#0038dd"/><stop offset="0.6826" stop-color="#0025dd"/><stop offset="0.6886" stop-color="#0009dd"/><stop offset="0.6909" stop-color="#0009dd"/><stop offset="0.6916" stop-color="#0000dd"/><stop offset="0.7193" stop-color="#0000d1"/><stop offset="0.7373" stop-color="#0000b9"/><stop offset="0.7418" stop-color="#0000cd"/><stop offset="0.7425" stop-color="#0067dd"/><stop offset="0.7433" stop-color="#0098dd"/><stop offset="0.744" stop-color="#00aaa8"/><stop offset="0.7448" stop-color="#00a773"/><stop offset="0.7455" stop-color="#009f00"/><stop offset="0.747" stop-color="#009f00"/><stop offset="0.7478" stop-color="#00a13d"/><stop offset="0.7485" stop-color="#00aa8b"/><stop offset="0.75" stop-color="#00a3bf"/><stop offset="0.7507" stop-color="#008add"/><stop offset="0.7515" stop-color="#007ddd"/><stop offset="0.7522" stop-color="#005ddd"/><stop offset="0.7537" stop-color="#0000dd"/><stop offset="0.7575" stop-color="#0000dd"/><stop offset="0.759" stop-color="#005ddd"/><stop offset="0.7597" stop-color="#007ddd"/><stop offset="0.7612" stop-color="#0098dd"/><stop offset="0.768" stop-color="#0098dd"/><stop offset="0.7717" stop-color="#00a3bf"/><stop offset="0.7799" stop-color="#00a3bf"/><stop offset="0.7814" stop-color="#00aa95"/><stop offset="0.7822" stop-color="#00a773"/><stop offset="0.7829" stop-color="#009e28"/><stop offset="0.7837" stop-color="#009f00"/><stop offset="0.7859" stop-color="#009f00"/><stop offset="0.7867" stop-color="#00a773"/><stop offset="0.7874" stop-color="#00aaa5"/><stop offset="0.7882" stop-color="#009adb"/><stop offset="0.7889" stop-color="#0078dd"/><stop offset="0.7897" stop-color="#0000dd"/><stop offset="0.7972" stop-color="#0000dd"/><stop offset="0.7979" stop-color="#0067dd"/><stop offset="0.7987" stop-color="#0090dd"/><stop offset="0.7994" stop-color="#00a3bf"/><stop offset="0.8001" stop-color="#00aa98"/><stop offset="0.8009" stop-color="#00a353"/><stop offset="0.8039" stop-color="#00a353"/><stop offset="0.8046" stop-color="#00aa98"/><stop offset="0.8054" stop-color="#00a3bf"/><stop offset="0.8061" stop-color="#0090dd"/><stop offset="0.8069" stop-color="#0067dd"/><stop offset="0.8076" stop-color="#0000dd"/><stop offset="0.8241" stop-color="#0000d1"/><stop offset="0.8263" stop-color="#0000b1"/><stop offset="0.8271" stop-color="#0d00a8"/><stop offset="0.8278" stop-color="#3800a3"/><stop offset="0.8293" stop-color="#78009b"/><stop offset="0.8308" stop-color="#870098"/><stop offset="0.8952" stop-color="#830094"/><stop offset="0.9139" stop-color="#770088"/><stop offset="0.9162" stop-color="#670075"/><stop offset="0.9244" stop-color="#4b0055"/><stop offset="0.9251" stop-color="#41004b"/><stop offset="0.9266" stop-color="#41004b"/><stop offset="0.9296" stop-color="#2f0035"/><stop offset="0.9326" stop-color="#2f0035"/><stop offset="0.9334" stop-color="#25002b"/><stop offset="0.9356" stop-color="#25002b"/><stop offset="0.9364" stop-color="#1c0020"/><stop offset="0.9401" stop-color="#1c0020"/><stop offset="0.9409" stop-color="#130015"/><stop offset="0.9476" stop-color="#130015"/><stop offset="0.9484" stop-color="#09000b"/><stop offset="0.9648" stop-color="#09000b"/><stop offset="0.9656" stop-color="#000000"/><stop offset="1" stop-color="#000000"/></linearGradient>
<linearGradient id="g0_18" x1="0" x2="1" y1="0" y2="0"><stop offset="0" stop-color="#850096"/><stop offset="0.005988" stop-color="#850096"/><stop offset="0.008234" stop-color="#7b008c"/><stop offset="0.008982" stop-color="#700080"/><stop offset="0.01048" stop-color="#380040"/><stop offset="0.01123" stop-color="#2f0035"/><stop offset="0.01647" stop-color="#2f0035"/><stop offset="0.01722" stop-color="#25002b"/><stop offset="0.03069" stop-color="#25002b"/><stop offset="0.03144" stop-color="#1c0020"/><stop offset="0.1781" stop-color="#1c0020"/><stop offset="0.1789" stop-color="#25002b"/><stop offset="0.1826" stop-color="#25002b"/><stop offset="0.1834" stop-color="#2f0035"/><stop offset="0.1864" stop-color="#2f0035"/><stop offset="0.1871" stop-color="#380040"/><stop offset="0.1886" stop-color="#380040"/><stop offset="0.1976" stop-color="#770088"/><stop offset="0.2073" stop-color="#830094"/><stop offset="0.2268" stop-color="#870098"/><stop offset="0.2283" stop-color="#6d009c"/><stop offset="0.232" stop-color="#0d00a8"/><stop offset="0.2335" stop-color="#0000b1"/><stop offset="0.238" stop-color="#0000c9"/><stop offset="0.2485" stop-color="#0000dd"/><stop offset="0.256" stop-color="#002fdd"/><stop offset="0.2612" stop-color="#0070dd"/><stop offset="0.2627" stop-color="#0078dd"/><stop offset="0.274" stop-color="#0090dd"/><stop offset="0.2882" stop-color="#0098dd"/><stop offset="0.3241" stop-color="#00aaab"/><stop offset="0.3713" stop-color="#00aa93"/><stop offset="0.372" stop-color="#00aa00"/><stop offset="0.3728" stop-color="#00e700"/><stop offset="0.3735" stop-color="#c0fd00"/><stop offset="0.3743" stop-color="#fcd200"/><stop offset="0.375" stop-color="#ff3900"/><stop offset="0.3757" stop-color="#ff3900"/><stop offset="0.3765" stop-color="#fcd200"/><stop offset="0.3772" stop-color="#c0fd00"/><stop offset="0.378" stop-color="#00ea00"/><stop offset="0.3787" stop-color="#00ac00"/><stop offset="0.3795" stop-color="#00aa8d"/><stop offset="0.3945" stop-color="#00aa88"/><stop offset="0.3967" stop-color="#00a773"/><stop offset="0.4019" stop-color="#00a773"/><stop offset="0.4027" stop-color="#00a668"/><stop offset="0.4072" stop-color="#00a668"/><stop offset="0.4079" stop-color="#00a773"/><stop offset="0.4169" stop-color="#00a668"/><stop offset="0.4177" stop-color="#00a55d"/><stop offset="0.4184" stop-color="#00a400"/><stop offset="0.4199" stop-color="#00ec00"/><stop offset="0.4207" stop-color="#67ff00"/><stop offset="0.4214" stop-color="#dcf400"/><stop offset="0.4229" stop-color="#dcf400"/><stop offset="0.4237" stop-color="#67ff00"/><stop offset="0.4244" stop-color="#00ef00"/><stop offset="0.4259" stop-color="#00aa00"/><stop offset="0.4266" stop-color="#00a353"/><stop offset="0.4274" stop-color="#00a248"/><stop offset="0.4341" stop-color="#00a13d"/><stop offset="0.4349" stop-color="#009f33"/><stop offset="0.4416" stop-color="#009e28"/><stop offset="0.4424" stop-color="#009d1d"/><stop offset="0.4469" stop-color="#009b13"/><stop offset="0.4476" stop-color="#009a08"/><stop offset="0.4521" stop-color="#009a08"/><stop offset="0.4528" stop-color="#009a00"/><stop offset="0.4693" stop-color="#00a700"/><stop offset="0.5464" stop-color="#00a400"/><stop offset="0.5494" stop-color="#009a00"/><stop offset="0.5516" stop-color="#009d1d"/><stop offset="0.5636" stop-color="#00a773"/><stop offset="0.5666" stop-color="#00a773"/><stop offset="0.5674" stop-color="#00a97d"/><stop offset="0.5719" stop-color="#00a97d"/><stop offset="0.5726" stop-color="#00aa88"/><stop offset="0.5831" stop-color="#00aa95"/><stop offset="0.619" stop-color="#00a7b3"/><stop offset="0.6317" stop-color="#009ecf"/><stop offset="0.6437" stop-color="#0098dd"/><stop offset="0.6684" stop-color="#007add"/><stop offset="0.6789" stop-color="#0038dd"/><stop offset="0.6826" stop-color="#002fdd"/><stop offset="0.6834" stop-color="#0025dd"/><stop offset="0.6856" stop-color="#0025dd"/><stop offset="0.6886" stop-color="#0013dd"/><stop offset="0.6909" stop-color="#0013dd"/><stop offset="0.6939" stop-color="#0000dd"/><stop offset="0.7208" stop-color="#0000d1"/><stop offset="0.7373" stop-color="#0000b9"/><stop offset="0.7418" stop-color="#0000cd"/><stop offset="0.7425" stop-color="#0067dd"/><stop offset="0.7433" stop-color="#0098dd"/><stop offset="0.744" stop-color="#00aaa8"/><stop offset="0.7448" stop-color="#00a773"/><stop offset="0.7455" stop-color="#009f00"/><stop offset="0.747" stop-color="#009f00"/><stop offset="0.7478" stop-color="#00a13d"/><stop offset="0.7485" stop-color="#00aa8b"/><stop offset="0.75" stop-color="#00a3bf"/><stop offset="0.7507" stop-color="#008add"/><stop offset="0.7515" stop-color="#007ddd"/><stop offset="0.7522" stop-color="#005ddd"/><stop offset="0.7537" stop-color="#0000dd"/><stop offset="0.7575" stop-color="#0000dd"/><stop offset="0.759" stop-color="#005ddd"/><stop offset="0.7597" stop-color="#007ddd"/><stop offset="0.7612" stop-color="#0098dd"/><stop offset="0.768" stop-color="#0098dd"/><stop offset="0.7717" stop-color="#00a3bf"/><stop offset="0.7799" stop-color="#00a3bf"/><stop offset="0.7814" stop-color="#00aa95"/><stop offset="0.7822" stop-color="#00a773"/><stop offset="0.7829" stop-color="#009e28"/><stop offset="0.7837" stop-color="#009f00"/><stop offset="0.7859" stop-color="#009f00"/><stop offset="0.7867" stop-color="#00a773"/><stop offset="0.7874" stop-color="#00aaa5"/><stop offset="0.7882" stop-color="#009adb"/><stop offset="0.7889" stop-color="#0078dd"/><stop offset="0.7897" stop-color="#0000dd"/><stop offset="0.7972" stop-color="#0000dd"/><stop offset="0.7979" stop-color="#0067dd"/><stop offset="0.7987" stop-color="#0090dd"/><stop offset="0.7994" stop-color="#00a3bf"/><stop offset="0.8001" stop-color="#00aa98"/><stop offset="0.8009" stop-color="#00a353"/><stop offset="0.8039" stop-color="#00a353"/><stop offset="0.8046" stop-color="#00aa98"/><stop offset="0.8054" stop-color="#00a3bf"/><stop offset="0.8061" stop-color="#0090dd"/><stop offset="0.8069" stop-color="#0067dd"/><stop offset="0.8076" stop-color="#0000dd"/><stop offset="0.8241" stop-color="#0000d1"/><stop offset="0.8263" stop-color="#0000b1"/><stop offset="0.8271" stop-color="#0d00a8"/><stop offset="0.8278" stop-color="#3800a3"/><stop offset="0.8293" stop-color="#78009b"/><stop offset="0.8308" stop-color="#870098"/><stop offset="0.8952" stop-color="#830094"/><stop offset="0.9139" stop-color="#770088"/><stop offset="0.9162" stop-color="#670075"/><stop offset="0.9244" stop-color="#4b0055"/><stop offset="0.9251" stop-color="#41004b"/><stop offset="0.9266" stop-color="#41004b"/><stop offset="0.9296" stop-color="#2f0035"/><stop offset="0.9326" stop-color="#2f0035"/><stop offset="0.9334" stop-color="#25002b"/><stop offset="0.9356" stop-color="#25002b"/><stop offset="0.9364" stop-color="#1c0020"/><stop offset="0.9401" stop-color="#1c0020"/><stop offset="0.9409" stop-color="#130015"/><stop offset="0.9476" stop-color="#130015"/><stop offset="0.9484" stop-color="#09000b"/><stop offset="0.9648" stop-color="#09000b"/><stop offset="0.9656" stop-color="#000000"/><stop offset="1" stop-color="#000000"/></linearGradient>
<linearGradient id="g0_19" x1="0" x2="1" y1="0" y2="0"><stop offset="0" stop-color="#700080"/><stop offset="0.007485" stop-color="#700080"/><stop offset="0.008234" stop-color="#670075"/><stop offset="0.3016" stop-color="#670075"/><stop offset="0.3024" stop-color="#700080"/><stop offset="0.3817" stop-color="#700080"/><stop offset="0.3825" stop-color="#770088"/><stop offset="0.6991" stop-color="#770088"/><stop offset="0.6999" stop-color="#700080"/><stop offset="0.7582" stop-color="#700080"/><stop offset="0.759" stop-color="#670075"/><stop offset="0.8458" stop-color="#670075"/><stop offset="0.8466" stop-color="#5d006b"/><stop offset="0.8832" stop-color="#5d006b"/><stop offset="0.884" stop-color="#540060"/><stop offset="0.9042" stop-color="#540060"/><stop offset="0.9049" stop-color="#4b0055"/><stop offset="0.9341" stop-color="#41004b"/><stop offset="0.9349" stop-color="#380040"/><stop offset="0.9499" stop-color="#380040"/><stop offset="0.9506" stop-color="#2f0035"/><stop offset="0.9678" stop-color="#2f0035"/><stop offset="0.9686" stop-color="#25002b"/><stop offset="1" stop-color="#1c0020"/></linearGradient>
<linearGradient id="g0_20" x1="0" x2="1" y1="0" y2="0"><stop offset="0" stop-color="#850096"/><stop offset="0.005988" stop-color="#850096"/><stop offset="0.008234" stop-color="#7b008c"/><stop offset="0.008982" stop-color="#700080"/><stop offset="0.01048" stop-color="#380040"/><stop offset="0.01123" stop-color="#2f0035"/><stop offset="0.01647" stop-color="#2f0035"/><stop offset="0.01722" stop-color="#25002b"/><stop offset="0.03069" stop-color="#25002b"/><stop offset="0.03144" stop-color="#1c0020"/><stop offset="0.1594" stop-color="#1c0020"/><stop offset="0.1602" stop-color="#25002b"/><stop offset="0.1639" stop-color="#2f0035"/><stop offset="0.1647" stop-color="#380040"/><stop offset="0.1662" stop-color="#380040"/><stop offset="0.1692" stop-color="#4b0055"/><stop offset="0.1729" stop-color="#770088"/><stop offset="0.1946" stop-color="#860097"/><stop offset="0.1954" stop-color="#83009a"/><stop offset="0.1976" stop-color="#2300a6"/><stop offset="0.1991" stop-color="#0000ad"/><stop offset="0.2036" stop-color="#0000d9"/><stop offset="0.2043" stop-color="#0009dd"/><stop offset="0.2073" stop-color="#0070dd"/><stop offset="0.2081" stop-color="#007ddd"/><stop offset="0.2126" stop-color="#0098dd"/><stop offset="0.2193" stop-color="#00aaab"/><stop offset="0.2246" stop-color="#00aa88"/><stop offset="0.2253" stop-color="#00a97d"/><stop offset="0.2268" stop-color="#00a353"/><stop offset="0.2298" stop-color="#009b13"/><stop offset="0.2313" stop-color="#009c00"/><stop offset="0.2418" stop-color="#00c400"/><stop offset="0.2552" stop-color="#00e700"/><stop offset="0.2837" stop-color="#00ff00"/><stop offset="0.2979" stop-color="#00ff00"/><stop offset="0.2987" stop-color="#0fff00"/><stop offset="0.3054" stop-color="#0fff00"/><stop offset="0.3061" stop-color="#1dff00"/><stop offset="0.3174" stop-color="#1dff00"/><stop offset="0.3181" stop-color="#2cff00"/><stop offset="0.3256" stop-color="#2cff00"/><stop offset="0.3263" stop-color="#3bff00"/><stop offset="0.3286" stop-color="#3bff00"/><stop offset="0.3293" stop-color="#49ff00"/><stop offset="0.3443" stop-color="#49ff00"/><stop offset="0.3451" stop-color="#58ff00"/><stop offset="0.3466" stop-color="#58ff00"/><stop offset="0.3473" stop-color="#67ff00"/><stop offset="0.3608" stop-color="#67ff00"/><stop offset="0.3615" stop-color="#75ff00"/><stop offset="0.363" stop-color="#75ff00"/><stop offset="0.3638" stop-color="#67ff00"/><stop offset="0.372" stop-color="#67ff00"/><stop offset="0.3728" stop-color="#93ff00"/><stop offset="0.3735" stop-color="#b0ff00"/><stop offset="0.3757" stop-color="#dcf400"/><stop offset="0.378" stop-color="#c0fd00"/><stop offset="0.3795" stop-color="#84ff00"/><stop offset="0.384" stop-color="#84ff00"/><stop offset="0.3847" stop-color="#93ff00"/><stop offset="0.3922" stop-color="#93ff00"/><stop offset="0.393" stop-color="#84ff00"/><stop offset="0.4094" stop-color="#84ff00"/><stop offset="0.4102" stop-color="#93ff00"/><stop offset="0.4117" stop-color="#93ff00"/><stop offset="0.4124" stop-color="#a1ff00"/><stop offset="0.4154" stop-color="#a1ff00"/><stop offset="0.4162" stop-color="#b0ff00"/><stop offset="0.4192" stop-color="#b0ff00"/><stop offset="0.4229" stop-color="#efed00"/><stop offset="0.4259" stop-color="#c0fd00"/><stop offset="0.4266" stop-color="#a1ff00"/><stop offset="0.4311" stop-color="#a1ff00"/><stop offset="0.4319" stop-color="#b0ff00"/><stop offset="0.4341" stop-color="#b0ff00"/><stop offset="0.4349" stop-color="#a1ff00"/><stop offset="0.4394" stop-color="#a1ff00"/><stop offset="0.4401" stop-color="#c0fd00"/><stop offset="0.4431" stop-color="#e4f100"/><stop offset="0.4461" stop-color="#bcff00"/><stop offset="0.4469" stop-color="#a1ff00"/><stop offset="0.4573" stop-color="#a1ff00"/><stop offset="0.4581" stop-color="#93ff00"/><stop offset="0.4656" stop-color="#93ff00"/><stop offset="0.4663" stop-color="#84ff00"/><stop offset="0.4686" stop-color="#84ff00"/><stop offset="0.4693" stop-color="#75ff00"/><stop offset="0.4701" stop-color="#84ff00"/><stop offset="0.476" stop-color="#84ff00"/><stop offset="0.4783" stop-color="#a1ff00"/><stop offset="0.485" stop-color="#a1ff00"/><stop offset="0.4873" stop-color="#84ff00"/><stop offset="0.497" stop-color="#84ff00"/><stop offset="0.4978" stop-color="#93ff00"/><stop offset="0.5097" stop-color="#93ff00"/><stop offset="0.5105" stop-color="#a1ff00"/><stop offset="0.5135" stop-color="#a1ff00"/><stop offset="0.5157" stop-color="#bcff00"/><stop offset="0.518" stop-color="#bcff00"/><stop offset="0.5187" stop-color="#b0ff00"/><stop offset="0.5202" stop-color="#b0ff00"/><stop offset="0.521" stop-color="#a1ff00"/><stop offset="0.5217" stop-color="#a1ff00"/><stop offset="0.5254" stop-color="#67ff00"/><stop offset="0.5262" stop-color="#67ff00"/><stop offset="0.5269" stop-color="#58ff00"/><stop offset="0.5284" stop-color="#58ff00"/><stop offset="0.5307" stop-color="#3bff00"/><stop offset="0.5314" stop-color="#3bff00"/><stop offset="0.5337" stop-color="#1dff00"/><stop offset="0.5359" stop-color="#0fff00"/><stop offset="0.5367" stop-color="#00ff00"/><stop offset="0.5674" stop-color="#00ff00"/><stop offset="0.613" stop-color="#00d700"/><stop offset="0.646" stop-color="#009a00"/><stop offset="0.6512" stop-color="#009e28"/><stop offset="0.6527" stop-color="#009e28"/><stop offset="0.6579" stop-color="#00a353"/><stop offset="0.6639" stop-color="#00a668"/><stop offset="0.6647" stop-color="#00a773"/><stop offset="0.6662" stop-color="#00a773"/><stop offset="0.6692" stop-color="#00aa88"/><stop offset="0.6976" stop-color="#00aaab"/><stop offset="0.7066" stop-color="#00a3bf"/><stop offset="0.732" stop-color="#0098dd"/><stop offset="0.7418" stop-color="#0098dd"/><stop offset="0.7425" stop-color="#00a4bb"/><stop offset="0.744" stop-color="#00aa88"/><stop offset="0.7448" stop-color="#009e28"/><stop offset="0.7455" stop-color="#00a700"/><stop offset="0.747" stop-color="#00a700"/><stop offset="0.7478" stop-color="#009f33"/><stop offset="0.7485" stop-color="#00aa90"/><stop offset="0.7493" stop-color="#00aaab"/><stop offset="0.75" stop-color="#009cd3"/><stop offset="0.7507" stop-color="#0085dd"/><stop offset="0.7575" stop-color="#0085dd"/><stop offset="0.7597" stop-color="#0095dd"/><stop offset="0.7612" stop-color="#009cd3"/><stop offset="0.768" stop-color="#009cd3"/><stop offset="0.7717" stop-color="#00aa9d"/><stop offset="0.7799" stop-color="#00aa9d"/><stop offset="0.7807" stop-color="#00aa90"/><stop offset="0.7814" stop-color="#00a773"/><stop offset="0.7822" stop-color="#009f33"/><stop offset="0.7829" stop-color="#009a00"/><stop offset="0.7837" stop-color="#00a700"/><stop offset="0.7859" stop-color="#00a700"/><stop offset="0.7867" stop-color="#009f33"/><stop offset="0.7874" stop-color="#00aa90"/><stop offset="0.7882" stop-color="#00aaab"/><stop offset="0.7889" stop-color="#009cd3"/><stop offset="0.7897" stop-color="#0085dd"/><stop offset="0.7972" stop-color="#0085dd"/><stop offset="0.7979" stop-color="#009bd7"/><stop offset="0.7994" stop-color="#00aa98"/><stop offset="0.8001" stop-color="#00a668"/><stop offset="0.8009" stop-color="#009a00"/><stop offset="0.8039" stop-color="#009a00"/><stop offset="0.8046" stop-color="#00a353"/><stop offset="0.8054" stop-color="#00aa90"/><stop offset="0.8061" stop-color="#00aaa3"/><stop offset="0.8076" stop-color="#0098dd"/><stop offset="0.8084" stop-color="#0098dd"/><stop offset="0.8099" stop-color="#007ddd"/><stop offset="0.8106" stop-color="#005ddd"/><stop offset="0.8114" stop-color="#0025dd"/><stop offset="0.8121" stop-color="#0000d9"/><stop offset="0.8249" stop-color="#0000d1"/><stop offset="0.8518" stop-color="#0300aa"/><stop offset="0.8525" stop-color="#0d00a8"/><stop offset="0.854" stop-color="#0d00a8"/><stop offset="0.8548" stop-color="#1800a7"/><stop offset="0.8563" stop-color="#1800a7"/><stop offset="0.857" stop-color="#2300a6"/><stop offset="0.8585" stop-color="#2300a6"/><stop offset="0.8593" stop-color="#2d00a4"/><stop offset="0.8608" stop-color="#2d00a4"/><stop offset="0.8638" stop-color="#4300a2"/><stop offset="0.872" stop-color="#63009e"/><stop offset="0.8743" stop-color="#78009b"/><stop offset="0.8787" stop-color="#870098"/><stop offset="0.9139" stop-color="#770088"/><stop offset="0.9162" stop-color="#670075"/><stop offset="0.9244" stop-color="#4b0055"/><stop offset="0.9251" stop-color="#41004b"/><stop offset="0.9266" stop-color="#41004b"/><stop offset="0.9296" stop-color="#2f0035"/><stop offset="0.9326" stop-color="#2f0035"/><stop offset="0.9334" stop-color="#25002b"/><stop offset="0.9356" stop-color="#25002b"/><stop offset="0.9364" stop-color="#1c0020"/><stop offset="0.9401" stop-color="#1c0020"/><stop offset="0.9409" stop-color="#130015"/><stop offset="0.9476" stop-color="#130015"/><stop offset="0.9484" stop-color="#09000b"/><stop offset="0.9648" stop-color="#09000b"/><stop offset="0.9656" stop-color="#000000"/><stop offset="1" stop-color="#000000"/></linearGradient>
<linearGradient id="g0_21" x1="0" x2="1" y1="0" y2="0"><stop offset="0" stop-color="#850096"/><stop offset="0.005988" stop-color="#850096"/><stop offset="0.008234" stop-color="#7b008c"/><stop offset="0.008982" stop-color="#700080"/><stop offset="0.01048" stop-color="#380040"/><stop offset="0.01123" stop-color="#2f0035"/><stop offset="0.01647" stop-color="#2f0035"/><stop offset="0.01722" stop-color="#25002b"/><stop offset="0.03069" stop-color="#25002b"/><stop offset="0.03144" stop-color="#1c0020"/><stop offset="0.1594" stop-color="#1c0020"/><stop offset="0.1602" stop-color="#25002b"/><stop offset="0.1639" stop-color="#2f0035"/><stop offset="0.1647" stop-color="#380040"/><stop offset="0.1662" stop-color="#380040"/><stop offset="0.1692" stop-color="#4b0055"/><stop offset="0.1729" stop-color="#770088"/><stop offset="0.1946" stop-color="#860097"/><stop offset="0.1954" stop-color="#83009a"/><stop offset="0.1976" stop-color="#2300a6"/><stop offset="0.1991" stop-color="#0000ad"/><stop offset="0.2036" stop-color="#0000d9"/><stop offset="0.2043" stop-color="#0009dd"/><stop offset="0.2073" stop-color="#0070dd"/><stop offset="0.2081" stop-color="#007ddd"/><stop offset="0.2111" stop-color="#0092dd"/><stop offset="0.2156" stop-color="#009fcb"/><stop offset="0.2193" stop-color="#00aaab"/><stop offset="0.2246" stop-color="#00aa88"/><stop offset="0.2253" stop-color="#00a97d"/><stop offset="0.2268" stop-color="#00a353"/><stop offset="0.2298" stop-color="#009b13"/><stop offset="0.2313" stop-color="#009c00"/><stop offset="0.2418" stop-color="#00c400"/><stop offset="0.2552" stop-color="#00e700"/><stop offset="0.2799" stop-color="#00ff00"/><stop offset="0.2882" stop-color="#00ff00"/><stop offset="0.2904" stop-color="#1dff00"/><stop offset="0.2919" stop-color="#1dff00"/><stop offset="0.2927" stop-color="#2cff00"/><stop offset="0.2987" stop-color="#2cff00"/><stop offset="0.2994" stop-color="#1dff00"/><stop offset="0.3069" stop-color="#1dff00"/><stop offset="0.3076" stop-color="#2cff00"/><stop offset="0.3099" stop-color="#2cff00"/><stop offset="0.3106" stop-color="#3bff00"/><stop offset="0.3219" stop-color="#3bff00"/><stop offset="0.3226" stop-color="#49ff00"/><stop offset="0.3278" stop-color="#49ff00"/><stop offset="0.3286" stop-color="#3bff00"/><stop offset="0.3308" stop-color="#3bff00"/><stop offset="0.3316" stop-color="#49ff00"/><stop offset="0.3353" stop-color="#49ff00"/><stop offset="0.3368" stop-color="#67ff00"/><stop offset="0.3376" stop-color="#67ff00"/><stop offset="0.3383" stop-color="#75ff00"/><stop offset="0.3436" stop-color="#75ff00"/><stop offset="0.3443" stop-color="#84ff00"/><stop offset="0.3451" stop-color="#75ff00"/><stop offset="0.3473" stop-color="#75ff00"/><stop offset="0.3481" stop-color="#67ff00"/><stop offset="0.3503" stop-color="#67ff00"/><stop offset="0.351" stop-color="#75ff00"/><stop offset="0.3533" stop-color="#75ff00"/><stop offset="0.354" stop-color="#67ff00"/><stop offset="0.3645" stop-color="#67ff00"/><stop offset="0.3653" stop-color="#75ff00"/><stop offset="0.372" stop-color="#75ff00"/><stop offset="0.3757" stop-color="#a1ff00"/><stop offset="0.3892" stop-color="#a1ff00"/><stop offset="0.39" stop-color="#ccf900"/><stop offset="0.3907" stop-color="#e4f100"/><stop offset="0.393" stop-color="#ffc100"/><stop offset="0.3937" stop-color="#ffc100"/><stop offset="0.3952" stop-color="#f3e500"/><stop offset="0.396" stop-color="#e4f100"/><stop offset="0.3975" stop-color="#b0ff00"/><stop offset="0.4004" stop-color="#b0ff00"/><stop offset="0.4012" stop-color="#a1ff00"/><stop offset="0.4034" stop-color="#a1ff00"/><stop offset="0.4042" stop-color="#93ff00"/><stop offset="0.4094" stop-color="#93ff00"/><stop offset="0.4102" stop-color="#a1ff00"/><stop offset="0.4124" stop-color="#a1ff00"/><stop offset="0.4132" stop-color="#b0ff00"/><stop offset="0.4192" stop-color="#b0ff00"/><stop offset="0.4199" stop-color="#c4fc00"/><stop offset="0.4229" stop-color="#efed00"/><stop offset="0.4259" stop-color="#c0fd00"/><stop offset="0.4266" stop-color="#a1ff00"/><stop offset="0.4274" stop-color="#a1ff00"/><stop offset="0.4281" stop-color="#93ff00"/><stop offset="0.4394" stop-color="#93ff00"/><stop offset="0.4401" stop-color="#a1ff00"/><stop offset="0.4484" stop-color="#a1ff00"/><stop offset="0.4491" stop-color="#b0ff00"/><stop offset="0.4566" stop-color="#b0ff00"/><stop offset="0.4603" stop-color="#84ff00"/><stop offset="0.4656" stop-color="#84ff00"/><stop offset="0.4663" stop-color="#93ff00"/><stop offset="0.4753" stop-color="#93ff00"/><stop offset="0.476" stop-color="#a1ff00"/><stop offset="0.485" stop-color="#a1ff00"/><stop offset="0.4858" stop-color="#93ff00"/><stop offset="0.4873" stop-color="#93ff00"/><stop offset="0.488" stop-color="#84ff00"/><stop offset="0.494" stop-color="#84ff00"/><stop offset="0.4978" stop-color="#b0ff00"/><stop offset="0.5172" stop-color="#b0ff00"/><stop offset="0.518" stop-color="#a1ff00"/><stop offset="0.5217" stop-color="#93ff00"/><stop offset="0.5225" stop-color="#84ff00"/><stop offset="0.5232" stop-color="#84ff00"/><stop offset="0.5247" stop-color="#67ff00"/><stop offset="0.5254" stop-color="#67ff00"/><stop offset="0.5262" stop-color="#58ff00"/><stop offset="0.5277" stop-color="#58ff00"/><stop offset="0.5284" stop-color="#49ff00"/><stop offset="0.5299" stop-color="#49ff00"/><stop offset="0.5307" stop-color="#3bff00"/><stop offset="0.5329" stop-color="#3bff00"/><stop offset="0.5337" stop-color="#49ff00"/><stop offset="0.5359" stop-color="#49ff00"/><stop offset="0.5367" stop-color="#3bff00"/><stop offset="0.5404" stop-color="#2cff00"/><stop offset="0.5427" stop-color="#0fff00"/><stop offset="0.5442" stop-color="#0fff00"/><stop offset="0.5449" stop-color="#00ff00"/><stop offset="0.5509" stop-color="#00ff00"/><stop offset="0.5516" stop-color="#0fff00"/><stop offset="0.5531" stop-color="#0fff00"/><stop offset="0.5539" stop-color="#1dff00"/><stop offset="0.5561" stop-color="#1dff00"/><stop offset="0.5569" stop-color="#0fff00"/><stop offset="0.5666" stop-color="#0fff00"/><stop offset="0.5674" stop-color="#00ff00"/><stop offset="0.6108" stop-color="#00da00"/><stop offset="0.646" stop-color="#009a00"/><stop offset="0.6512" stop-color="#009e28"/><stop offset="0.6527" stop-color="#009e28"/><stop offset="0.6579" stop-color="#00a353"/><stop offset="0.6639" stop-color="#00a668"/><stop offset="0.6647" stop-color="#00a773"/><stop offset="0.6662" stop-color="#00a773"/><stop offset="0.6692" stop-color="#00aa88"/><stop offset="0.6976" stop-color="#00aaab"/><stop offset="0.7066" stop-color="#00a3bf"/><stop offset="0.732" stop-color="#0098dd"/><stop offset="0.7418" stop-color="#0098dd"/><stop offset="0.7425" stop-color="#00a4bb"/><stop offset="0.744" stop-color="#00aa88"/><stop offset="0.7448" stop-color="#009e28"/><stop offset="0.7455" stop-color="#00a700"/><stop offset="0.747" stop-color="#00a700"/><stop offset="0.7478" stop-color="#009f33"/><stop offset="0.7485" stop-color="#00aa90"/><stop offset="0.7493" stop-color="#00aaab"/><stop offset="0.75" stop-color="#009cd3"/><stop offset="0.7507" stop-color="#0085dd"/><stop offset="0.7575" stop-color="#0085dd"/><stop offset="0.7597" stop-color="#0095dd"/><stop offset="0.7612" stop-color="#009cd3"/><stop offset="0.768" stop-color="#009cd3"/><stop offset="0.7717" stop-color="#00aa9d"/><stop offset="0.7799" stop-color="#00aa9d"/><stop offset="0.7807" stop-color="#00aa90"/><stop offset="0.7814" stop-color="#00a773"/><stop offset="0.7822" stop-color="#009f33"/><stop offset="0.7829" stop-color="#009a00"/><stop offset="0.7837" stop-color="#00a700"/><stop offset="0.7859" stop-color="#00a700"/><stop offset="0.7867" stop-color="#009f33"/><stop offset="0.7874" stop-color="#00aa90"/><stop offset="0.7882" stop-color="#00aaab"/><stop offset="0.7889" stop-color="#009cd3"/><stop offset="0.7897" stop-color="#0085dd"/><stop offset="0.7972" stop-color="#0085dd"/><stop offset="0.7979" stop-color="#009bd7"/><stop offset="0.7994" stop-color="#00aa98"/><stop offset="0.8001" stop-color="#00a668"/><stop offset="0.8009" stop-color="#009a00"/><stop offset="0.8039" stop-color="#009a00"/><stop offset="0.8046" stop-color="#00a353"/><stop offset="0.8054" stop-color="#00aa90"/><stop offset="0.8061" stop-color="#00aaa3"/><stop offset="0.8076" stop-color="#0098dd"/><stop offset="0.8084" stop-color="#0098dd"/><stop offset="0.8099" stop-color="#007ddd"/><stop offset="0.8106" stop-color="#005ddd"/><stop offset="0.8114" stop-color="#0025dd"/><stop offset="0.8121" stop-color="#0000d9"/><stop offset="0.8249" stop-color="#0000d1"/><stop offset="0.8518" stop-color="#0300aa"/><stop offset="0.8525" stop-color="#0d00a8"/><stop offset="0.854" stop-color="#0d00a8"/><stop offset="0.8548" stop-color="#1800a7"/><stop offset="0.8563" stop-color="#1800a7"/><stop offset="0.857" stop-color="#2300a6"/><stop offset="0.8585" stop-color="#2300a6"/><stop offset="0.8593" stop-color="#2d00a4"/><stop offset="0.8608" stop-color="#2d00a4"/><stop offset="0.8638" stop-color="#4300a2"/><stop offset="0.872" stop-color="#63009e"/><stop offset="0.8743" stop-color="#78009b"/><stop offset="0.8787" stop-color="#870098"/><stop offset="0.9139" stop-color="#770088"/><stop offset="0.9162" stop-color="#670075"/><stop offset="0.9244" stop-color="#4b0055"/><stop offset="0.9251" stop-color="#41004b"/><stop offset="0.9266" stop-color="#41004b"/><stop offset="0.9296" stop-color="#2f0035"/><stop offset="0.9326" stop-color="#2f0035"/><stop offset="0.9334" stop-color="#25002b"/><stop offset="0.9356" stop-color="#25002b"/><stop offset="0.9364" stop-color="#1c0020"/><stop offset="0.9401" stop-color="#1c0020"/><stop offset="0.9409" stop-color="#130015"/><stop offset="0.9476" stop-color="#130015"/><stop offset="0.9484" stop-color="#09000b"/><stop offset="0.9648" stop-color="#09000b"/><stop offset="0.9656" stop-color="#000000"/><stop offset="1" stop-color="#000000"/></linearGradient>
<linearGradient id="g1_0" x1="0" x2="1" y1="0" y2="0"><stop offset="0" stop-color="#850096"/><stop offset="0.005988" stop-color="#850096"/><stop offset="0.008982" stop-color="#770088"/><stop offset="0.01048" stop-color="#4b0055"/><stop offset="0.01123" stop-color="#41004b"/><stop offset="0.01347" stop-color="#41004b"/><stop offset="0.01722" stop-color="#5d006b"/><stop offset="0.01871" stop-color="#540060"/><stop offset="0.02545" stop-color="#540060"/><stop offset="0.02844" stop-color="#41004b"/><stop offset="0.03892" stop-color="#41004b"/><stop offset="0.04341" stop-color="#670075"/><stop offset="0.04641" stop-color="#670075"/><stop offset="0.0494" stop-color="#770088"/><stop offset="0.06138" stop-color="#700080"/><stop offset="0.06213" stop-color="#770088"/><stop offset="0.06512" stop-color="#79008a"/><stop offset="0.1108" stop-color="#770088"/><stop offset="0.1115" stop-color="#700080"/><stop offset="0.1145" stop-color="#700080"/><stop offset="0.122" stop-color="#41004b"/><stop offset="0.1265" stop-color="#41004b"/><stop offset="0.1272" stop-color="#4b0055"/><stop offset="0.1332" stop-color="#4b0055"/><stop offset="0.134" stop-color="#41004b"/><stop offset="0.1504" stop-color="#41004b"/><stop offset="0.1512" stop-color="#4b0055"/><stop offset="0.1557" stop-color="#4b0055"/><stop offset="0.1564" stop-color="#41004b"/><stop offset="0.1617" stop-color="#41004b"/><stop offset="0.1624" stop-color="#4b0055"/><stop offset="0.1677" stop-color="#4b0055"/><stop offset="0.1707" stop-color="#5d006b"/><stop offset="0.1729" stop-color="#770088"/><stop offset="0.1946" stop-color="#860097"/><stop offset="0.1954" stop-color="#83009a"/><stop offset="0.1976" stop-color="#2300a6"/><stop offset="0.1991" stop-color="#0000ad"/><stop offset="0.2036" stop-color="#0000d9"/><stop offset="0.2043" stop-color="#0009dd"/><stop offset="0.2073" stop-color="#0070dd"/><stop offset="0.2081" stop-color="#007ddd"/><stop offset="0.2126" stop-color="#0098dd"/><stop offset="0.2208" stop-color="#00aaa5"/><stop offset="0.2275" stop-color="#00aa88"/><stop offset="0.2365" stop-color="#009a00"/><stop offset="0.2448" stop-color="#00b700"/><stop offset="0.2575" stop-color="#00d400"/><stop offset="0.2927" stop-color="#00f400"/><stop offset="0.3031" stop-color="#00f200"/><stop offset="0.3174" stop-color="#00ff00"/><stop offset="0.3181" stop-color="#00ff00"/><stop offset="0.3196" stop-color="#1dff00"/><stop offset="0.3241" stop-color="#1dff00"/><stop offset="0.3249" stop-color="#2cff00"/><stop offset="0.3256" stop-color="#2cff00"/><stop offset="0.3263" stop-color="#1dff00"/><stop offset="0.3278" stop-color="#1dff00"/><stop offset="0.3286" stop-color="#0fff00"/><stop offset="0.3346" stop-color="#0fff00"/><stop offset="0.3361" stop-color="#2cff00"/><stop offset="0.3368" stop-color="#2cff00"/><stop offset="0.3376" stop-color="#3bff00"/><stop offset="0.3406" stop-color="#3bff00"/><stop offset="0.3413" stop-color="#49ff00"/><stop offset="0.3451" stop-color="#49ff00"/><stop offset="0.3458" stop-color="#3bff00"/><stop offset="0.3555" stop-color="#3bff00"/><stop offset="0.3563" stop-color="#2cff00"/><stop offset="0.3615" stop-color="#2cff00"/><stop offset="0.3623" stop-color="#3bff00"/><stop offset="0.3645" stop-color="#3bff00"/><stop offset="0.3668" stop-color="#58ff00"/><stop offset="0.3728" stop-color="#58ff00"/><stop offset="0.375" stop-color="#3bff00"/><stop offset="0.3825" stop-color="#3bff00"/><stop offset="0.3832" stop-color="#49ff00"/><stop offset="0.4019" stop-color="#49ff00"/><stop offset="0.4027" stop-color="#58ff00"/><stop offset="0.4102" stop-color="#58ff00"/><stop offset="0.4109" stop-color="#67ff00"/><stop offset="0.4124" stop-color="#67ff00"/><stop offset="0.4132" stop-color="#75ff00"/><stop offset="0.4214" stop-color="#75ff00"/><stop offset="0.4222" stop-color="#67ff00"/><stop offset="0.4289" stop-color="#67ff00"/><stop offset="0.4296" stop-color="#58ff00"/><stop offset="0.4311" stop-color="#58ff00"/><stop offset="0.4319" stop-color="#49ff00"/><stop offset="0.4386" stop-color="#49ff00"/><stop offset="0.4394" stop-color="#58ff00"/><stop offset="0.4476" stop-color="#58ff00"/><stop offset="0.4484" stop-color="#67ff00"/><stop offset="0.4573" stop-color="#67ff00"/><stop offset="0.4581" stop-color="#58ff00"/><stop offset="0.4843" stop-color="#58ff00"/><stop offset="0.485" stop-color="#67ff00"/><stop offset="0.4873" stop-color="#67ff00"/><stop offset="0.488" stop-color="#75ff00"/><stop offset="0.494" stop-color="#75ff00"/><stop offset="0.4948" stop-color="#67ff00"/><stop offset="0.4963" stop-color="#67ff00"/><stop offset="0.497" stop-color="#58ff00"/><stop offset="0.503" stop-color="#58ff00"/><stop offset="0.5037" stop-color="#67ff00"/><stop offset="0.5045" stop-color="#67ff00"/><stop offset="0.506" stop-color="#84ff00"/><stop offset="0.5097" stop-color="#84ff00"/><stop offset="0.5105" stop-color="#93ff00"/><stop offset="0.5127" stop-color="#93ff00"/><stop offset="0.5165" stop-color="#67ff00"/><stop offset="0.5187" stop-color="#67ff00"/><stop offset="0.521" stop-color="#49ff00"/><stop offset="0.5254" stop-color="#49ff00"/><stop offset="0.5262" stop-color="#3bff00"/><stop offset="0.5277" stop-color="#3bff00"/><stop offset="0.5284" stop-color="#2cff00"/><stop offset="0.5299" stop-color="#2cff00"/><stop offset="0.5322" stop-color="#0fff00"/><stop offset="0.5352" stop-color="#0fff00"/><stop offset="0.5359" stop-color="#00ff00"/><stop offset="0.5442" stop-color="#00f200"/><stop offset="0.5584" stop-color="#00f700"/><stop offset="0.6153" stop-color="#00d200"/><stop offset="0.646" stop-color="#009a00"/><stop offset="0.6512" stop-color="#009e28"/><stop offset="0.6527" stop-color="#009e28"/><stop offset="0.6579" stop-color="#00a353"/><stop offset="0.6639" stop-color="#00a668"/><stop offset="0.6647" stop-color="#00a773"/><stop offset="0.6662" stop-color="#00a773"/><stop offset="0.6692" stop-color="#00aa88"/><stop offset="0.6976" stop-color="#00aaab"/><stop offset="0.7066" stop-color="#00a3bf"/><stop offset="0.732" stop-color="#0098dd"/><stop offset="0.741" stop-color="#0098dd"/><stop offset="0.7425" stop-color="#00aa9d"/><stop offset="0.7433" stop-color="#00aa88"/><stop offset="0.744" stop-color="#009e28"/><stop offset="0.7448" stop-color="#00a700"/><stop offset="0.747" stop-color="#00a700"/><stop offset="0.7478" stop-color="#009e28"/><stop offset="0.7485" stop-color="#00aa88"/><stop offset="0.7493" stop-color="#00aa9d"/><stop offset="0.7507" stop-color="#0098dd"/><stop offset="0.756" stop-color="#0098dd"/><stop offset="0.7597" stop-color="#00aaa3"/><stop offset="0.7814" stop-color="#00aaa3"/><stop offset="0.7829" stop-color="#00a97d"/><stop offset="0.7844" stop-color="#009a08"/><stop offset="0.7852" stop-color="#00a700"/><stop offset="0.7874" stop-color="#00a700"/><stop offset="0.7882" stop-color="#009b13"/><stop offset="0.7897" stop-color="#00aa8d"/><stop offset="0.7912" stop-color="#00a7b3"/><stop offset="0.7964" stop-color="#00a7b3"/><stop offset="0.7979" stop-color="#00aa90"/><stop offset="0.7987" stop-color="#00a668"/><stop offset="0.7994" stop-color="#009e28"/><stop offset="0.8001" stop-color="#009f00"/><stop offset="0.8024" stop-color="#009f00"/><stop offset="0.8031" stop-color="#00a13d"/><stop offset="0.8039" stop-color="#00aa8b"/><stop offset="0.8046" stop-color="#00aaa0"/><stop offset="0.8061" stop-color="#0098dd"/><stop offset="0.8234" stop-color="#0098dd"/><stop offset="0.8249" stop-color="#007ddd"/><stop offset="0.8256" stop-color="#005ddd"/><stop offset="0.8271" stop-color="#0000dd"/><stop offset="0.875" stop-color="#0000c9"/><stop offset="0.887" stop-color="#0300aa"/><stop offset="0.8952" stop-color="#78009b"/><stop offset="0.8982" stop-color="#870098"/><stop offset="0.9259" stop-color="#770088"/><stop offset="0.9349" stop-color="#380040"/><stop offset="0.9431" stop-color="#25002b"/><stop offset="0.9439" stop-color="#1c0020"/><stop offset="0.9476" stop-color="#1c0020"/><stop offset="0.9484" stop-color="#130015"/><stop offset="0.9551" stop-color="#130015"/><stop offset="0.9558" stop-color="#09000b"/><stop offset="0.9708" stop-color="#09000b"/><stop offset="0.9716" stop-color="#000000"/><stop offset="1" stop-color="#000000"/></linearGradient>
<linearGradient id="g1_1" x1="0" x2="1" y1="0" y2="0"><stop offset="0" stop-color="#850096"/><stop offset="0.005988" stop-color="#850096"/><stop offset="0.008982" stop-color="#770088"/><stop offset="0.01048" stop-color="#4b0055"/><stop offset="0.01123" stop-color="#41004b"/><stop offset="0.01347" stop-color="#41004b"/><stop offset="0.01722" stop-color="#5d006b"/><stop offset="0.01871" stop-color="#540060"/><stop offset="0.02545" stop-color="#540060"/><stop offset="0.02844" stop-color="#41004b"/><stop offset="0.03892" stop-color="#41004b"/><stop offset="0.04341" stop-color="#670075"/><stop offset="0.04641" stop-color="#670075"/><stop offset="0.0494" stop-color="#770088"/><stop offset="0.06138" stop-color="#700080"/><stop offset="0.06213" stop-color="#770088"/><stop offset="0.06512" stop-color="#79008a"/><stop offset="0.1108" stop-color="#770088"/><stop offset="0.1115" stop-color="#700080"/><stop offset="0.1145" stop-color="#700080"/><stop offset="0.122" stop-color="#41004b"/><stop offset="0.1265" stop-color="#41004b"/><stop offset="0.1272" stop-color="#4b0055"/><stop offset="0.1332" stop-color="#4b0055"/><stop offset="0.134" stop-color="#41004b"/><stop offset="0.1504" stop-color="#41004b"/><stop offset="0.1512" stop-color="#4b0055"/><stop offset="0.1557" stop-color="#4b0055"/><stop offset="0.1564" stop-color="#41004b"/><stop offset="0.1617" stop-color="#41004b"/><stop offset="0.1624" stop-color="#4b0055"/><stop offset="0.1677" stop-color="#4b0055"/><stop offset="0.1707" stop-color="#5d006b"/><stop offset="0.1729" stop-color="#770088"/><stop offset="0.1946" stop-color="#860097"/><stop offset="0.1954" stop-color="#83009a"/><stop offset="0.1976" stop-color="#2300a6"/><stop offset="0.1991" stop-color="#0000ad"/><stop offset="0.2036" stop-color="#0000d9"/><stop offset="0.2043" stop-color="#0009dd"/><stop offset="0.2073" stop-color="#0070dd"/><stop offset="0.2081" stop-color="#007ddd"/><stop offset="0.2126" stop-color="#0098dd"/><stop offset="0.2208" stop-color="#00aaa5"/><stop offset="0.2275" stop-color="#00aa88"/><stop offset="0.2365" stop-color="#009a00"/><stop offset="0.2448" stop-color="#00b700"/><stop offset="0.2575" stop-color="#00d400"/><stop offset="0.2927" stop-color="#00f400"/><stop offset="0.3031" stop-color="#00f200"/><stop offset="0.3174" stop-color="#00ff00"/><stop offset="0.3181" stop-color="#00ff00"/><stop offset="0.3196" stop-color="#1dff00"/><stop offset="0.3241" stop-color="#1dff00"/><stop offset="0.3249" stop-color="#2cff00"/><stop offset="0.3256" stop-color="#2cff00"/><stop offset="0.3263" stop-color="#1dff00"/><stop offset="0.3278" stop-color="#1dff00"/><stop offset="0.3286" stop-color="#0fff00"/><stop offset="0.3346" stop-color="#0fff00"/><stop offset="0.3361" stop-color="#2cff00"/><stop offset="0.3368" stop-color="#2cff00"/><stop offset="0.3376" stop-color="#3bff00"/><stop offset="0.3406" stop-color="#3bff00"/><stop offset="0.3413" stop-color="#49ff00"/><stop offset="0.3451" stop-color="#49ff00"/><stop offset="0.3458" stop-color="#3bff00"/><stop offset="0.3555" stop-color="#3bff00"/><stop offset="0.3563" stop-color="#2cff00"/><stop offset="0.3615" stop-color="#2cff00"/><stop offset="0.3623" stop-color="#3bff00"/><stop offset="0.3645" stop-color="#3bff00"/><stop offset="0.3668" stop-color="#58ff00"/><stop offset="0.3728" stop-color="#58ff00"/><stop offset="0.375" stop-color="#3bff00"/><stop offset="0.3765" stop-color="#3bff00"/><stop offset="0.378" stop-color="#b0ff00"/><stop offset="0.3787" stop-color="#c8fb00"/><stop offset="0.3802" stop-color="#e4f100"/><stop offset="0.3817" stop-color="#c8fb00"/><stop offset="0.3825" stop-color="#b0ff00"/><stop offset="0.3832" stop-color="#75ff00"/><stop offset="0.384" stop-color="#49ff00"/><stop offset="0.4019" stop-color="#49ff00"/><stop offset="0.4027" stop-color="#58ff00"/><stop offset="0.4102" stop-color="#58ff00"/><stop offset="0.4109" stop-color="#67ff00"/><stop offset="0.4124" stop-color="#67ff00"/><stop offset="0.4132" stop-color="#75ff00"/><stop offset="0.4214" stop-color="#75ff00"/><stop offset="0.4222" stop-color="#67ff00"/><stop offset="0.4289" stop-color="#67ff00"/><stop offset="0.4296" stop-color="#58ff00"/><stop offset="0.4311" stop-color="#58ff00"/><stop offset="0.4319" stop-color="#49ff00"/><stop offset="0.4386" stop-color="#49ff00"/><stop offset="0.4394" stop-color="#58ff00"/><stop offset="0.4476" stop-color="#58ff00"/><stop offset="0.4484" stop-color="#67ff00"/><stop offset="0.4573" stop-color="#67ff00"/><stop offset="0.4581" stop-color="#58ff00"/><stop offset="0.4843" stop-color="#58ff00"/><stop offset="0.485" stop-color="#67ff00"/><stop offset="0.4873" stop-color="#67ff00"/><stop offset="0.488" stop-color="#75ff00"/><stop offset="0.494" stop-color="#75ff00"/><stop offset="0.4948" stop-color="#67ff00"/><stop offset="0.4963" stop-color="#67ff00"/><stop offset="0.497" stop-color="#58ff00"/><stop offset="0.503" stop-color="#58ff00"/><stop offset="0.5037" stop-color="#67ff00"/><stop offset="0.5045" stop-color="#67ff00"/><stop offset="0.506" stop-color="#84ff00"/><stop offset="0.5097" stop-color="#84ff00"/><stop offset="0.5105" stop-color="#93ff00"/><stop offset="0.5127" stop-color="#93ff00"/><stop offset="0.5165" stop-color="#67ff00"/><stop offset="0.5187" stop-color="#67ff00"/><stop offset="0.521" stop-color="#49ff00"/><stop offset="0.5254" stop-color="#49ff00"/><stop offset="0.5262" stop-color="#3bff00"/><stop offset="0.5277" stop-color="#3bff00"/><stop offset="0.5284" stop-color="#2cff00"/><stop offset="0.5299" stop-color="#2cff00"/><stop offset="0.5322" stop-color="#0fff00"/><stop offset="0.5352" stop-color="#0fff00"/><stop offset="0.5359" stop-color="#00ff00"/><stop offset="0.5442" stop-color="#00f200"/><stop offset="0.5584" stop-color="#00f700"/><stop offset="0.6153" stop-color="#00d200"/><stop offset="0.646" stop-color="#009a00"/><stop offset="0.6512" stop-color="#009e28"/><stop offset="0.6527" stop-color="#009e28"/><stop offset="0.6579" stop-color="#00a353"/><stop offset="0.6639" stop-color="#00a668"/><stop offset="0.6647" stop-color="#00a773"/><stop offset="0.6662" stop-color="#00a773"/><stop offset="0.6692" stop-color="#00aa88"/><stop offset="0.6976" stop-color="#00aaab"/><stop offset="0.7066" stop-color="#00a3bf"/><stop offset="0.732" stop-color="#0098dd"/><stop offset="0.741" stop-color="#0098dd"/><stop offset="0.7425" stop-color="#00aa9d"/><stop offset="0.7433" stop-color="#00aa88"/><stop offset="0.744" stop-color="#009e28"/><stop offset="0.7448" stop-color="#00a700"/><stop offset="0.747" stop-color="#00a700"/><stop offset="0.7478" stop-color="#009e28"/><stop offset="0.7485" stop-color="#00aa88"/><stop offset="0.7493" stop-color="#00aa9d"/><stop offset="0.7507" stop-color="#0098dd"/><stop offset="0.756" stop-color="#0098dd"/><stop offset="0.7597" stop-color="#00aaa3"/><stop offset="0.7814" stop-color="#00aaa3"/><stop offset="0.7829" stop-color="#00a97d"/><stop offset="0.7844" stop-color="#009a08"/><stop offset="0.7852" stop-color="#00a700"/><stop offset="0.7874" stop-color="#00a700"/><stop offset="0.7882" stop-color="#009b13"/><stop offset="0.7897" stop-color="#00aa8d"/><stop offset="0.7912" stop-color="#00a7b3"/><stop offset="0.7964" stop-color="#00a7b3"/><stop offset="0.7979" stop-color="#00aa90"/><stop offset="0.7987" stop-color="#00a668"/><stop offset="0.7994" stop-color="#009e28"/><stop offset="0.8001" stop-color="#009f00"/><stop offset="0.8024" stop-color="#009f00"/><stop offset="0.8031" stop-color="#00a13d"/><stop offset="0.8039" stop-color="#00aa8b"/><stop offset="0.8046" stop-color="#00aaa0"/><stop offset="0.8061" stop-color="#0098dd"/><stop offset="0.8234" stop-color="#0098dd"/><stop offset="0.8249" stop-color="#007ddd"/><stop offset="0.8256" stop-color="#005ddd"/><stop offset="0.8271" stop-color="#0000dd"/><stop offset="0.875" stop-color="#0000c9"/><stop offset="0.887" stop-color="#0300aa"/><stop offset="0.8952" stop-color="#78009b"/><stop offset="0.8982" stop-color="#870098"/><stop offset="0.9259" stop-color="#770088"/><stop offset="0.9349" stop-color="#380040"/><stop offset="0.9431" stop-color="#25002b"/><stop offset="0.9439" stop-color="#1c0020"/><stop offset="0.9476" stop-color="#1c0020"/><stop offset="0.9484" stop-color="#130015"/><stop offset="0.9551" stop-color="#130015"/><stop offset="0.9558" stop-color="#09000b"/><stop offset="0.9708" stop-color="#09000b"/><stop offset="0.9716" stop-color="#000000"/><stop offset="1" stop-color="#000000"/></linearGradient>
<linearGradient id="g1_2" x1="0" x2="1" y1="0" y2="0"><stop offset="0" stop-color="#41004b"/><stop offset="0.01497" stop-color="#41004b"/><stop offset="0.01647" stop-color="#540060"/><stop offset="0.01871" stop-color="#540060"/><stop offset="0.01946" stop-color="#4b0055"/><stop offset="0.02695" stop-color="#4b0055"/><stop offset="0.02769" stop-color="#41004b"/><stop offset="0.04042" stop-color="#41004b"/><stop offset="0.04266" stop-color="#5d006b"/><stop offset="0.04641" stop-color="#5d006b"/><stop offset="0.0494" stop-color="#700080"/><stop offset="0.05314" stop-color="#700080"/><stop offset="0.05389" stop-color="#670075"/><stop offset="0.05464" stop-color="#700080"/><stop offset="0.06287" stop-color="#670075"/><stop offset="0.06362" stop-color="#700080"/><stop offset="0.06662" stop-color="#700080"/><stop offset="0.06737" stop-color="#770088"/><stop offset="0.06811" stop-color="#700080"/><stop offset="0.0771" stop-color="#700080"/><stop offset="0.07784" stop-color="#770088"/><stop offset="0.08683" stop-color="#700080"/><stop offset="0.08757" stop-color="#770088"/><stop offset="0.09207" stop-color="#770088"/><stop offset="0.09281" stop-color="#700080"/><stop offset="0.11" stop-color="#700080"/><stop offset="0.1108" stop-color="#670075"/><stop offset="0.1145" stop-color="#670075"/><stop offset="0.1205" stop-color="#41004b"/><stop offset="0.1647" stop-color="#41004b"/><stop offset="0.1654" stop-color="#4b0055"/><stop offset="0.1744" stop-color="#4b0055"/><stop offset="0.1751" stop-color="#41004b"/><stop offset="0.1976" stop-color="#41004b"/><stop offset="0.1984" stop-color="#380040"/><stop offset="0.2522" stop-color="#380040"/><stop offset="0.253" stop-color="#2f0035"/><stop offset="0.5217" stop-color="#2f0035"/><stop offset="0.5254" stop-color="#670075"/><stop offset="0.5277" stop-color="#670075"/><stop offset="0.5314" stop-color="#2f0035"/><stop offset="0.5853" stop-color="#2f0035"/><stop offset="0.5876" stop-color="#5d006b"/><stop offset="0.5891" stop-color="#700080"/><stop offset="0.5913" stop-color="#700080"/><stop offset="0.5951" stop-color="#380040"/><stop offset="0.6587" stop-color="#380040"/><stop offset="0.6594" stop-color="#41004b"/><stop offset="0.6714" stop-color="#41004b"/><stop offset="0.6751" stop-color="#700080"/><stop offset="0.6826" stop-color="#700080"/><stop offset="0.6864" stop-color="#41004b"/><stop offset="0.7043" stop-color="#41004b"/><stop offset="0.7051" stop-color="#4b0055"/><stop offset="0.7088" stop-color="#4b0055"/><stop offset="0.7096" stop-color="#540060"/><stop offset="0.7178" stop-color="#5d006b"/><stop offset="0.7186" stop-color="#670075"/><stop offset="0.7223" stop-color="#670075"/><stop offset="0.7231" stop-color="#700080"/><stop offset="0.732" stop-color="#700080"/><stop offset="0.7328" stop-color="#670075"/><stop offset="0.7395" stop-color="#670075"/><stop offset="0.7403" stop-color="#5d006b"/><stop offset="0.7478" stop-color="#5d006b"/><stop offset="0.7485" stop-color="#540060"/><stop offset="0.7552" stop-color="#540060"/><stop offset="0.756" stop-color="#4b0055"/><stop offset="0.7665" stop-color="#4b0055"/><stop offset="0.7672" stop-color="#41004b"/><stop offset="0.7784" stop-color="#41004b"/><stop offset="0.7792" stop-color="#380040"/><stop offset="0.8039" stop-color="#380040"/><stop offset="0.8046" stop-color="#2f0035"/><stop offset="0.851" stop-color="#2f0035"/><stop offset="0.8518" stop-color="#25002b"/><stop offset="0.8975" stop-color="#25002b"/><stop offset="0.8982" stop-color="#1c0020"/><stop offset="0.9237" stop-color="#1c0020"/><stop offset="0.9244" stop-color="#130015"/><stop offset="0.9454" stop-color="#130015"/><stop offset="0.9461" stop-color="#09000b"/><stop offset="0.9708" stop-color="#09000b"/><stop offset="0.9716" stop-color="#000000"/><stop offset="1" stop-color="#000000"/></linearGradient>
<linearGradient id="g1_3" x1="0" x2="1" y1="0" y2="0"><stop offset="0" stop-color="#850096"/><stop offset="0.005988" stop-color="#850096"/><stop offset="0.008234" stop-color="#7b008c"/><stop offset="0.008982" stop-color="#700080"/><stop offset="0.01048" stop-color="#380040"/><stop offset="0.01123" stop-color="#2f0035"/><stop offset="0.01572" stop-color="#2f0035"/><stop offset="0.01647" stop-color="#380040"/><stop offset="0.01871" stop-color="#380040"/><stop offset="0.01946" stop-color="#2f0035"/><stop offset="0.04117" stop-color="#2f0035"/><stop offset="0.04416" stop-color="#41004b"/><stop offset="0.04865" stop-color="#41004b"/><stop offset="0.0494" stop-color="#4b0055"/><stop offset="0.05838" stop-color="#4b0055"/><stop offset="0.05913" stop-color="#41004b"/><stop offset="0.06063" stop-color="#41004b"/><stop offset="0.06138" stop-color="#4b0055"/><stop offset="0.1115" stop-color="#4b0055"/><stop offset="0.1123" stop-color="#41004b"/><stop offset="0.1153" stop-color="#41004b"/><stop offset="0.116" stop-color="#380040"/><stop offset="0.1183" stop-color="#380040"/><stop offset="0.119" stop-color="#2f0035"/><stop offset="0.1781" stop-color="#2f0035"/><stop offset="0.1789" stop-color="#25002b"/><stop offset="0.1826" stop-color="#25002b"/><stop offset="0.1834" stop-color="#2f0035"/><stop offset="0.1864" stop-color="#2f0035"/><stop offset="0.1871" stop-color="#380040"/><stop offset="0.1886" stop-color="#380040"/><stop offset="0.1976" stop-color="#770088"/><stop offset="0.2073" stop-color="#830094"/><stop offset="0.2268" stop-color="#870098"/><stop offset="0.2283" stop-color="#6d009c"/><stop offset="0.232" stop-color="#0d00a8"/><stop offset="0.2335" stop-color="#0000b1"/><stop offset="0.238" stop-color="#0000c9"/><stop offset="0.2485" stop-color="#0000dd"/><stop offset="0.256" stop-color="#002fdd"/><stop offset="0.2612" stop-color="#0070dd"/><stop offset="0.2627" stop-color="#0078dd"/><stop offset="0.274" stop-color="#0090dd"/><stop offset="0.2882" stop-color="#0098dd"/><stop offset="0.3353" stop-color="#00aaa8"/><stop offset="0.3825" stop-color="#00aa8b"/><stop offset="0.384" stop-color="#00aa88"/><stop offset="0.3847" stop-color="#00a97d"/><stop offset="0.3877" stop-color="#00a97d"/><stop offset="0.3885" stop-color="#00a773"/><stop offset="0.3915" stop-color="#00a773"/><stop offset="0.3922" stop-color="#00a668"/><stop offset="0.3997" stop-color="#00a55d"/><stop offset="0.4004" stop-color="#00a353"/><stop offset="0.4042" stop-color="#00a353"/><stop offset="0.4049" stop-color="#00a248"/><stop offset="0.4109" stop-color="#00a353"/><stop offset="0.4117" stop-color="#00a248"/><stop offset="0.4139" stop-color="#00a248"/><stop offset="0.4147" stop-color="#00a13d"/><stop offset="0.4169" stop-color="#00a13d"/><stop offset="0.4177" stop-color="#009f33"/><stop offset="0.4207" stop-color="#009f33"/><stop offset="0.4214" stop-color="#009e28"/><stop offset="0.4237" stop-color="#009e28"/><stop offset="0.4244" stop-color="#009d1d"/><stop offset="0.4266" stop-color="#009d1d"/><stop offset="0.4274" stop-color="#009b13"/><stop offset="0.4304" stop-color="#009b13"/><stop offset="0.4334" stop-color="#009a00"/><stop offset="0.4723" stop-color="#00aa00"/><stop offset="0.5472" stop-color="#00a400"/><stop offset="0.5584" stop-color="#009a00"/><stop offset="0.5659" stop-color="#009f33"/><stop offset="0.5681" stop-color="#00a353"/><stop offset="0.5689" stop-color="#00a353"/><stop offset="0.5719" stop-color="#00a773"/><stop offset="0.5734" stop-color="#00a773"/><stop offset="0.5741" stop-color="#00a97d"/><stop offset="0.5778" stop-color="#00a97d"/><stop offset="0.5786" stop-color="#00aa88"/><stop offset="0.6265" stop-color="#00aaab"/><stop offset="0.6497" stop-color="#009cd3"/><stop offset="0.6639" stop-color="#0095dd"/><stop offset="0.6841" stop-color="#0078dd"/><stop offset="0.6894" stop-color="#004bdd"/><stop offset="0.7028" stop-color="#0000dd"/><stop offset="0.7335" stop-color="#0000c9"/><stop offset="0.7395" stop-color="#0000c9"/><stop offset="0.741" stop-color="#0000d1"/><stop offset="0.7418" stop-color="#0067dd"/><stop offset="0.7425" stop-color="#0098dd"/><stop offset="0.7433" stop-color="#00aaa8"/><stop offset="0.744" stop-color="#00a773"/><stop offset="0.7448" stop-color="#009f00"/><stop offset="0.747" stop-color="#009f00"/><stop offset="0.7478" stop-color="#00a13d"/><stop offset="0.7485" stop-color="#00aa8b"/><stop offset="0.7493" stop-color="#00aaa0"/><stop offset="0.7507" stop-color="#0098dd"/><stop offset="0.756" stop-color="#0098dd"/><stop offset="0.7597" stop-color="#00aaa3"/><stop offset="0.7814" stop-color="#00aaa3"/><stop offset="0.7829" stop-color="#00aa88"/><stop offset="0.7844" stop-color="#009d1d"/><stop offset="0.7852" stop-color="#009f00"/><stop offset="0.7874" stop-color="#009f00"/><stop offset="0.7882" stop-color="#009e28"/><stop offset="0.7889" stop-color="#00a773"/><stop offset="0.7897" stop-color="#00aa95"/><stop offset="0.7912" stop-color="#00a3bf"/><stop offset="0.7964" stop-color="#00a3bf"/><stop offset="0.7987" stop-color="#00aa88"/><stop offset="0.7994" stop-color="#00a13d"/><stop offset="0.8001" stop-color="#009a00"/><stop offset="0.8024" stop-color="#009a00"/><stop offset="0.8031" stop-color="#00a353"/><stop offset="0.8039" stop-color="#00aa90"/><stop offset="0.8046" stop-color="#00aaa3"/><stop offset="0.8061" stop-color="#0098dd"/><stop offset="0.8241" stop-color="#0098dd"/><stop offset="0.8263" stop-color="#0078dd"/><stop offset="0.8271" stop-color="#002fdd"/><stop offset="0.8278" stop-color="#0000c9"/><stop offset="0.8286" stop-color="#0d00a8"/><stop offset="0.8293" stop-color="#4d00a0"/><stop offset="0.8301" stop-color="#78009b"/><stop offset="0.8308" stop-color="#870098"/><stop offset="0.8952" stop-color="#830094"/><stop offset="0.9139" stop-color="#770088"/><stop offset="0.9162" stop-color="#670075"/><stop offset="0.9244" stop-color="#4b0055"/><stop offset="0.9251" stop-color="#41004b"/><stop offset="0.9266" stop-color="#41004b"/><stop offset="0.9296" stop-color="#2f0035"/><stop offset="0.9326" stop-color="#2f0035"/><stop offset="0.9334" stop-color="#25002b"/><stop offset="0.9356" stop-color="#25002b"/><stop offset="0.9364" stop-color="#1c0020"/><stop offset="0.9401" stop-color="#1c0020"/><stop offset="0.9409" stop-color="#130015"/><stop offset="0.9476" stop-color="#130015"/><stop offset="0.9484" stop-color="#09000b"/><stop offset="0.9648" stop-color="#09000b"/><stop offset="0.9656" stop-color="#000000"/><stop offset="1" stop-color="#000000"/></linearGradient>
<linearGradient id="g1_4" x1="0" x2="1" y1="0" y2="0"><stop offset="0" stop-color="#850096"/><stop offset="0.005988" stop-color="#850096"/><stop offset="0.008234" stop-color="#7b008c"/><stop offset="0.008982" stop-color="#700080"/><stop offset="0.01048" stop-color="#380040"/><stop offset="0.01123" stop-color="#2f0035"/><stop offset="0.01647" stop-color="#2f0035"/><stop offset="0.01722" stop-color="#25002b"/><stop offset="0.03069" stop-color="#25002b"/><stop offset="0.03144" stop-color="#1c0020"/><stop offset="0.1781" stop-color="#1c0020"/><stop offset="0.1789" stop-color="#25002b"/><stop offset="0.1826" stop-color="#25002b"/><stop offset="0.1834" stop-color="#2f0035"/><stop offset="0.1864" stop-color="#2f0035"/><stop offset="0.1871" stop-color="#380040"/><stop offset="0.1886" stop-color="#380040"/><stop offset="0.1976" stop-color="#770088"/><stop offset="0.2073" stop-color="#830094"/><stop offset="0.2268" stop-color="#870098"/><stop offset="0.2283" stop-color="#6d009c"/><stop offset="0.232" stop-color="#0d00a8"/><stop offset="0.2335" stop-color="#0000b1"/><stop offset="0.238" stop-color="#0000c9"/><stop offset="0.2485" stop-color="#0000dd"/><stop offset="0.256" stop-color="#002fdd"/><stop offset="0.2612" stop-color="#0070dd"/><stop offset="0.2627" stop-color="#0078dd"/><stop offset="0.274" stop-color="#0090dd"/><stop offset="0.2882" stop-color="#0098dd"/><stop offset="0.3353" stop-color="#00aaa8"/><stop offset="0.384" stop-color="#00aa88"/><stop offset="0.3847" stop-color="#00a97d"/><stop offset="0.3877" stop-color="#00a97d"/><stop offset="0.3885" stop-color="#00a773"/><stop offset="0.3922" stop-color="#00a773"/><stop offset="0.393" stop-color="#00a668"/><stop offset="0.3937" stop-color="#00a773"/><stop offset="0.3997" stop-color="#00a773"/><stop offset="0.4004" stop-color="#00a668"/><stop offset="0.4034" stop-color="#00a668"/><stop offset="0.4042" stop-color="#00a55d"/><stop offset="0.4072" stop-color="#00a55d"/><stop offset="0.4079" stop-color="#00a353"/><stop offset="0.4109" stop-color="#00a353"/><stop offset="0.4117" stop-color="#00a248"/><stop offset="0.4139" stop-color="#00a248"/><stop offset="0.4147" stop-color="#00a13d"/><stop offset="0.4177" stop-color="#00a13d"/><stop offset="0.4214" stop-color="#009d1d"/><stop offset="0.4296" stop-color="#009a00"/><stop offset="0.4835" stop-color="#00a700"/><stop offset="0.5494" stop-color="#00a400"/><stop offset="0.5584" stop-color="#009a00"/><stop offset="0.5629" stop-color="#009d1d"/><stop offset="0.5644" stop-color="#009f33"/><stop offset="0.5666" stop-color="#00a13d"/><stop offset="0.5689" stop-color="#00a55d"/><stop offset="0.5719" stop-color="#00a773"/><stop offset="0.5734" stop-color="#00a773"/><stop offset="0.5741" stop-color="#00a97d"/><stop offset="0.5771" stop-color="#00a97d"/><stop offset="0.5778" stop-color="#00aa88"/><stop offset="0.6145" stop-color="#00aa9d"/><stop offset="0.6557" stop-color="#009adb"/><stop offset="0.6639" stop-color="#0095dd"/><stop offset="0.6841" stop-color="#0078dd"/><stop offset="0.6894" stop-color="#004bdd"/><stop offset="0.7028" stop-color="#0000dd"/><stop offset="0.7335" stop-color="#0000c9"/><stop offset="0.7395" stop-color="#0000c9"/><stop offset="0.741" stop-color="#0000d1"/><stop offset="0.7418" stop-color="#0067dd"/><stop offset="0.7425" stop-color="#0098dd"/><stop offset="0.7433" stop-color="#00aaa8"/><stop offset="0.744" stop-color="#00a773"/><stop offset="0.7448" stop-color="#009f00"/><stop offset="0.747" stop-color="#009f00"/><stop offset="0.7478" stop-color="#00a13d"/><stop offset="0.7485" stop-color="#00aa8b"/><stop offset="0.7493" stop-color="#00aaa0"/><stop offset="0.7507" stop-color="#0098dd"/><stop offset="0.756" stop-color="#0098dd"/><stop offset="0.7597" stop-color="#00aaa3"/><stop offset="0.7814" stop-color="#00aaa3"/><stop offset="0.7829" stop-color="#00aa88"/><stop offset="0.7844" stop-color="#009d1d"/><stop offset="0.7852" stop-color="#009f00"/><stop offset="0.7874" stop-color="#009f00"/><stop offset="0.7882" stop-color="#009e28"/><stop offset="0.7889" stop-color="#00a773"/><stop offset="0.7897" stop-color="#00aa95"/><stop offset="0.7912" stop-color="#00a3bf"/><stop offset="0.7964" stop-color="#00a3bf"/><stop offset="0.7987" stop-color="#00aa88"/><stop offset="0.7994" stop-color="#00a13d"/><stop offset="0.8001" stop-color="#009a00"/><stop offset="0.8024" stop-color="#009a00"/><stop offset="0.8031" stop-color="#00a353"/><stop offset="0.8039" stop-color="#00aa90"/><stop offset="0.8046" stop-color="#00aaa3"/><stop offset="0.8061" stop-color="#0098dd"/><stop offset="0.8241" stop-color="#0098dd"/><stop offset="0.8263" stop-color="#0078dd"/><stop offset="0.8271" stop-color="#002fdd"/><stop offset="0.8278" stop-color="#0000c9"/><stop offset="0.8286" stop-color="#0d00a8"/><stop offset="0.8293" stop-color="#4d00a0"/><stop offset="0.8301" stop-color="#78009b"/><stop offset="0.8308" stop-color="#870098"/><stop offset="0.8952" stop-color="#830094"/><stop offset="0.9139" stop-color="#770088"/><stop offset="0.9162" stop-color="#670075"/><stop offset="0.9244" stop-color="#4b0055"/><stop offset="0.9251" stop-color="#41004b"/><stop offset="0.9266" stop-color="#41004b"/><stop offset="0.9296" stop-color="#2f0035"/><stop offset="0.9326" stop-color="#2f0035"/><stop offset="0.9334" stop-color="#25002b"/><stop offset="0.9356" stop-color="#25002b"/><stop offset="0.9364" stop-color="#1c0020"/><stop offset="0.9401" stop-color="#1c0020"/><stop offset="0.9409" stop-color="#130015"/><stop offset="0.9476" stop-color="#130015"/><stop offset="0.9484" stop-color="#09000b"/><stop offset="0.9648" stop-color="#09000b"/><stop offset="0.9656" stop-color="#000000"/><stop offset="1" stop-color="#000000"/></linearGradient>
<linearGradient id="g1_5" x1="0" x2="1" y1="0" y2="0"><stop offset="0" stop-color="#850096"/><stop offset="0.005988" stop-color="#850096"/><stop offset="0.008234" stop-color="#7b008c"/><stop offset="0.008982" stop-color="#700080"/><stop offset="0.01048" stop-color="#380040"/><stop offset="0.01123" stop-color="#2f0035"/><stop offset="0.01647" stop-color="#2f0035"/><stop offset="0.01722" stop-color="#25002b"/><stop offset="0.03069" stop-color="#25002b"/><stop offset="0.03144" stop-color="#1c0020"/><stop offset="0.1781" stop-color="#1c0020"/><stop offset="0.1789" stop-color="#25002b"/><stop offset="0.1826" stop-color="#25002b"/><stop offset="0.1834" stop-color="#2f0035"/><stop offset="0.1864" stop-color="#2f0035"/><stop offset="0.1871" stop-color="#380040"/><stop offset="0.1886" stop-color="#380040"/><stop offset="0.1976" stop-color="#770088"/><stop offset="0.2073" stop-color="#830094"/><stop offset="0.2268" stop-color="#870098"/><stop offset="0.2283" stop-color="#6d009c"/><stop offset="0.232" stop-color="#0d00a8"/><stop offset="0.2335" stop-color="#0000b1"/><stop offset="0.2388" stop-color="#0000c9"/><stop offset="0.2507" stop-color="#0000dd"/><stop offset="0.2515" stop-color="#0009dd"/><stop offset="0.2575" stop-color="#001cdd"/><stop offset="0.259" stop-color="#002fdd"/><stop offset="0.2597" stop-color="#002fdd"/><stop offset="0.265" stop-color="#0070dd"/><stop offset="0.2665" stop-color="#0078dd"/><stop offset="0.2777" stop-color="#0090dd"/><stop offset="0.2919" stop-color="#0098dd"/><stop offset="0.3391" stop-color="#00aaa8"/><stop offset="0.393" stop-color="#00aa88"/><stop offset="0.396" stop-color="#00a773"/><stop offset="0.399" stop-color="#00a773"/><stop offset="0.3997" stop-color="#00a668"/><stop offset="0.4064" stop-color="#00a55d"/><stop offset="0.4087" stop-color="#00a248"/><stop offset="0.4154" stop-color="#00a13d"/><stop offset="0.4162" stop-color="#009f33"/><stop offset="0.4237" stop-color="#009f33"/><stop offset="0.4244" stop-color="#009e28"/><stop offset="0.4266" stop-color="#009e28"/><stop offset="0.4274" stop-color="#009d1d"/><stop offset="0.4296" stop-color="#009d1d"/><stop offset="0.4326" stop-color="#009a08"/><stop offset="0.4356" stop-color="#009a08"/><stop offset="0.4364" stop-color="#009a00"/><stop offset="0.4963" stop-color="#00a700"/><stop offset="0.5516" stop-color="#00a200"/><stop offset="0.5569" stop-color="#009a00"/><stop offset="0.5584" stop-color="#009b13"/><stop offset="0.5734" stop-color="#00a97d"/><stop offset="0.5763" stop-color="#00a97d"/><stop offset="0.5771" stop-color="#00aa88"/><stop offset="0.6243" stop-color="#00aaa8"/><stop offset="0.6467" stop-color="#009ecf"/><stop offset="0.6639" stop-color="#0095dd"/><stop offset="0.6841" stop-color="#0078dd"/><stop offset="0.6894" stop-color="#004bdd"/><stop offset="0.7028" stop-color="#0000dd"/><stop offset="0.7335" stop-color="#0000c9"/><stop offset="0.7395" stop-color="#0000c9"/><stop offset="0.741" stop-color="#0000d1"/><stop offset="0.7418" stop-color="#0067dd"/><stop offset="0.7425" stop-color="#0098dd"/><stop offset="0.7433" stop-color="#00aaa8"/><stop offset="0.744" stop-color="#00a773"/><stop offset="0.7448" stop-color="#009f00"/><stop offset="0.747" stop-color="#009f00"/><stop offset="0.7478" stop-color="#00a13d"/><stop offset="0.7485" stop-color="#00aa8b"/><stop offset="0.7493" stop-color="#00aaa0"/><stop offset="0.7507" stop-color="#0098dd"/><stop offset="0.756" stop-color="#0098dd"/><stop offset="0.7597" stop-color="#00aaa3"/><stop offset="0.7814" stop-color="#00aaa3"/><stop offset="0.7829" stop-color="#00aa88"/><stop offset="0.7844" stop-color="#009d1d"/><stop offset="0.7852" stop-color="#009f00"/><stop offset="0.7874" stop-color="#009f00"/><stop offset="0.7882" stop-color="#009e28"/><stop offset="0.7889" stop-color="#00a773"/><stop offset="0.7897" stop-color="#00aa95"/><stop offset="0.7912" stop-color="#00a3bf"/><stop offset="0.7964" stop-color="#00a3bf"/><stop offset="0.7987" stop-color="#00aa88"/><stop offset="0.7994" stop-color="#00a13d"/><stop offset="0.8001" stop-color="#009a00"/><stop offset="0.8024" stop-color="#009a00"/><stop offset="0.8031" stop-color="#00a353"/><stop offset="0.8039" stop-color="#00aa90"/><stop offset="0.8046" stop-color="#00aaa3"/><stop offset="0.8061" stop-color="#0098dd"/><stop offset="0.8241" stop-color="#0098dd"/><stop offset="0.8263" stop-color="#0078dd"/><stop offset="0.8271" stop-color="#002fdd"/><stop offset="0.8278" stop-color="#0000c9"/><stop offset="0.8286" stop-color="#0d00a8"/><stop offset="0.8293" stop-color="#4d00a0"/><stop offset="0.8301" stop-color="#78009b"/><stop offset="0.8308" stop-color="#870098"/><stop offset="0.8952" stop-color="#830094"/><stop offset="0.9139" stop-color="#770088"/><stop offset="0.9162" stop-color="#670075"/><stop offset="0.9244" stop-color="#4b0055"/><stop offset="0.9251" stop-color="#41004b"/><stop offset="0.9266" stop-color="#41004b"/><stop offset="0.9296" stop-color="#2f0035"/><stop offset="0.9326" stop-color="#2f0035"/><stop offset="0.9334" stop-color="#25002b"/><stop offset="0.9356" stop-color="#25002b"/><stop offset="0.9364" stop-color="#1c0020"/><stop offset="0.9401" stop-color="#1c0020"/><stop offset="0.9409" stop-color="#130015"/><stop offset="0.9476" stop-color="#130015"/><stop offset="0.9484" stop-color="#09000b"/><stop offset="0.9648" stop-color="#09000b"/><stop offset="0.9656" stop-color="#000000"/><stop offset="1" stop-color="#000000"/></linearGradient>
<linearGradient id="g1_6" x1="0" x2="1" y1="0" y2="0"><stop offset="0" stop-color="#850096"/><stop offset="0.005988" stop-color="#850096"/><stop offset="0.008234" stop-color="#7b008c"/><stop offset="0.008982" stop-color="#700080"/><stop offset="0.01048" stop-color="#380040"/><stop offset="0.01123" stop-color="#2f0035"/><stop offset="0.01647" stop-color="#2f0035"/><stop offset="0.01722" stop-color="#25002b"/><stop offset="0.03069" stop-color="#25002b"/><stop offset="0.03144" stop-color="#1c0020"/><stop offset="0.1781" stop-color="#1c0020"/><stop offset="0.1789" stop-color="#25002b"/><stop offset="0.1826" stop-color="#25002b"/><stop offset="0.1834" stop-color="#2f0035"/><stop offset="0.1864" stop-color="#2f0035"/><stop offset="0.1871" stop-color="#380040"/><stop offset="0.1886" stop-color="#380040"/><stop offset="0.1976" stop-color="#770088"/><stop offset="0.2073" stop-color="#830094"/><stop offset="0.2268" stop-color="#870098"/><stop offset="0.2283" stop-color="#6d009c"/><stop offset="0.232" stop-color="#0d00a8"/><stop offset="0.2335" stop-color="#0000b1"/><stop offset="0.238" stop-color="#0000c9"/><stop offset="0.2485" stop-color="#0000dd"/><stop offset="0.256" stop-color="#002fdd"/><stop offset="0.2612" stop-color="#0070dd"/><stop offset="0.2627" stop-color="#0078dd"/><stop offset="0.274" stop-color="#0090dd"/><stop offset="0.2882" stop-color="#0098dd"/><stop offset="0.3353" stop-color="#00aaa8"/><stop offset="0.384" stop-color="#00aa88"/><stop offset="0.3847" stop-color="#00a97d"/><stop offset="0.3877" stop-color="#00a97d"/><stop offset="0.3892" stop-color="#00a773"/><stop offset="0.3907" stop-color="#009b13"/><stop offset="0.3915" stop-color="#00a200"/><stop offset="0.393" stop-color="#00bc00"/><stop offset="0.3937" stop-color="#00bc00"/><stop offset="0.396" stop-color="#009a08"/><stop offset="0.3975" stop-color="#00a668"/><stop offset="0.399" stop-color="#00a55d"/><stop offset="0.4027" stop-color="#00a55d"/><stop offset="0.4034" stop-color="#00a353"/><stop offset="0.4109" stop-color="#00a248"/><stop offset="0.4117" stop-color="#00a13d"/><stop offset="0.4147" stop-color="#00a13d"/><stop offset="0.4154" stop-color="#009f33"/><stop offset="0.4177" stop-color="#009f33"/><stop offset="0.4207" stop-color="#009d1d"/><stop offset="0.4222" stop-color="#009d1d"/><stop offset="0.4229" stop-color="#009b13"/><stop offset="0.4259" stop-color="#009b13"/><stop offset="0.4266" stop-color="#009a08"/><stop offset="0.4296" stop-color="#009a00"/><stop offset="0.5082" stop-color="#00aa00"/><stop offset="0.5539" stop-color="#00a200"/><stop offset="0.5569" stop-color="#009a00"/><stop offset="0.5726" stop-color="#00a773"/><stop offset="0.5786" stop-color="#00a97d"/><stop offset="0.5793" stop-color="#00aa88"/><stop offset="0.613" stop-color="#00aa9d"/><stop offset="0.6295" stop-color="#00a8af"/><stop offset="0.6557" stop-color="#009adb"/><stop offset="0.6639" stop-color="#0095dd"/><stop offset="0.6841" stop-color="#0078dd"/><stop offset="0.6894" stop-color="#004bdd"/><stop offset="0.7028" stop-color="#0000dd"/><stop offset="0.7335" stop-color="#0000c9"/><stop offset="0.7395" stop-color="#0000c9"/><stop offset="0.741" stop-color="#0000d1"/><stop offset="0.7418" stop-color="#0067dd"/><stop offset="0.7425" stop-color="#0098dd"/><stop offset="0.7433" stop-color="#00aaa8"/><stop offset="0.744" stop-color="#00a773"/><stop offset="0.7448" stop-color="#009f00"/><stop offset="0.747" stop-color="#009f00"/><stop offset="0.7478" stop-color="#00a13d"/><stop offset="0.7485" stop-color="#00aa8b"/><stop offset="0.7493" stop-color="#00aaa0"/><stop offset="0.7507" stop-color="#0098dd"/><stop offset="0.756" stop-color="#0098dd"/><stop offset="0.7597" stop-color="#00aaa3"/><stop offset="0.7814" stop-color="#00aaa3"/><stop offset="0.7829" stop-color="#00aa88"/><stop offset="0.7844" stop-color="#009d1d"/><stop offset="0.7852" stop-color="#009f00"/><stop offset="0.7874" stop-color="#009f00"/><stop offset="0.7882" stop-color="#009e28"/><stop offset="0.7889" stop-color="#00a773"/><stop offset="0.7897" stop-color="#00aa95"/><stop offset="0.7912" stop-color="#00a3bf"/><stop offset="0.7964" stop-color="#00a3bf"/><stop offset="0.7987" stop-color="#00aa88"/><stop offset="0.7994" stop-color="#00a13d"/><stop offset="0.8001" stop-color="#009a00"/><stop offset="0.8024" stop-color="#009a00"/><stop offset="0.8031" stop-color="#00a353"/><stop offset="0.8039" stop-color="#00aa90"/><stop offset="0.8046" stop-color="#00aaa3"/><stop offset="0.8061" stop-color="#0098dd"/><stop offset="0.8241" stop-color="#0098dd"/><stop offset="0.8263" stop-color="#0078dd"/><stop offset="0.8271" stop-color="#002fdd"/><stop offset="0.8278" stop-color="#0000c9"/><stop offset="0.8286" stop-color="#0d00a8"/><stop offset="0.8293" stop-color="#4d00a0"/><stop offset="0.8301" stop-color="#78009b"/><stop offset="0.8308" stop-color="#870098"/><stop offset="0.8952" stop-color="#830094"/><stop offset="0.9139" stop-color="#770088"/><stop offset="0.9162" stop-color="#670075"/><stop offset="0.9244" stop-color="#4b0055"/><stop offset="0.9251" stop-color="#41004b"/><stop offset="0.9266" stop-color="#41004b"/><stop offset="0.9296" stop-color="#2f0035"/><stop offset="0.9326" stop-color="#2f0035"/><stop offset="0.9334" stop-color="#25002b"/><stop offset="0.9356" stop-color="#25002b"/><stop offset="0.9364" stop-color="#1c0020"/><stop offset="0.9401" stop-color="#1c0020"/><stop offset="0.9409" stop-color="#130015"/><stop offset="0.9476" stop-color="#130015"/><stop offset="0.9484" stop-color="#09000b"/><stop offset="0.9648" stop-color="#09000b"/><stop offset="0.9656" stop-color="#000000"/><stop offset="1" stop-color="#000000"/></linearGradient>
<linearGradient id="g1_7" x1="0" x2="1" y1="0" y2="0"><stop offset="0" stop-color="#850096"/><stop offset="0.005988" stop-color="#850096"/><stop offset="0.008234" stop-color="#7b008c"/><stop offset="0.008982" stop-color="#700080"/><stop offset="0.01048" stop-color="#380040"/><stop offset="0.01123" stop-color="#2f0035"/><stop offset="0.01647" stop-color="#2f0035"/><stop offset="0.01722" stop-color="#25002b"/><stop offset="0.03069" stop-color="#25002b"/><stop offset="0.03144" stop-color="#1c0020"/><stop offset="0.1781" stop-color="#1c0020"/><stop offset="0.1789" stop-color="#25002b"/><stop offset="0.1826" stop-color="#25002b"/><stop offset="0.1834" stop-color="#2f0035"/><stop offset="0.1864" stop-color="#2f0035"/><stop offset="0.1871" stop-color="#380040"/><stop offset="0.1886" stop-color="#380040"/><stop offset="0.1976" stop-color="#770088"/><stop offset="0.2073" stop-color="#830094"/><stop offset="0.2268" stop-color="#870098"/><stop offset="0.2283" stop-color="#6d009c"/><stop offset="0.232" stop-color="#0d00a8"/><stop offset="0.2335" stop-color="#0000b1"/><stop offset="0.2388" stop-color="#0000c9"/><stop offset="0.2507" stop-color="#0000dd"/><stop offset="0.2515" stop-color="#0009dd"/><stop offset="0.2575" stop-color="#001cdd"/><stop offset="0.259" stop-color="#002fdd"/><stop offset="0.2597" stop-color="#002fdd"/><stop offset="0.265" stop-color="#0070dd"/><stop offset="0.2665" stop-color="#0078dd"/><stop offset="0.2777" stop-color="#0090dd"/><stop offset="0.2919" stop-color="#0098dd"/><stop offset="0.3391" stop-color="#00aaa8"/><stop offset="0.39" stop-color="#00aa88"/><stop offset="0.3907" stop-color="#00a97d"/><stop offset="0.3937" stop-color="#00a97d"/><stop offset="0.3967" stop-color="#00a668"/><stop offset="0.4004" stop-color="#00a668"/><stop offset="0.4012" stop-color="#00a55d"/><stop offset="0.4042" stop-color="#00a55d"/><stop offset="0.4049" stop-color="#00a353"/><stop offset="0.4079" stop-color="#00a353"/><stop offset="0.4087" stop-color="#00a248"/><stop offset="0.4124" stop-color="#00a248"/><stop offset="0.4132" stop-color="#00a13d"/><stop offset="0.4162" stop-color="#00a13d"/><stop offset="0.4169" stop-color="#009f33"/><stop offset="0.4237" stop-color="#009e28"/><stop offset="0.4244" stop-color="#009d1d"/><stop offset="0.4296" stop-color="#009b13"/><stop offset="0.4326" stop-color="#009a00"/><stop offset="0.5187" stop-color="#00a700"/><stop offset="0.5561" stop-color="#009a00"/><stop offset="0.5704" stop-color="#00a668"/><stop offset="0.5741" stop-color="#00a773"/><stop offset="0.5749" stop-color="#00a97d"/><stop offset="0.5778" stop-color="#00a97d"/><stop offset="0.5786" stop-color="#00aa88"/><stop offset="0.6205" stop-color="#00aaa3"/><stop offset="0.6467" stop-color="#009ecf"/><stop offset="0.6639" stop-color="#0095dd"/><stop offset="0.6841" stop-color="#0078dd"/><stop offset="0.6894" stop-color="#004bdd"/><stop offset="0.7028" stop-color="#0000dd"/><stop offset="0.7335" stop-color="#0000c9"/><stop offset="0.7395" stop-color="#0000c9"/><stop offset="0.741" stop-color="#0000d1"/><stop offset="0.7418" stop-color="#0067dd"/><stop offset="0.7425" stop-color="#0098dd"/><stop offset="0.7433" stop-color="#00aaa8"/><stop offset="0.744" stop-color="#00a773"/><stop offset="0.7448" stop-color="#009f00"/><stop offset="0.747" stop-color="#009f00"/><stop offset="0.7478" stop-color="#00a13d"/><stop offset="0.7485" stop-color="#00aa8b"/><stop offset="0.7493" stop-color="#00aaa0"/><stop offset="0.7507" stop-color="#0098dd"/><stop offset="0.756" stop-color="#0098dd"/><stop offset="0.7597" stop-color="#00aaa3"/><stop offset="0.7814" stop-color="#00aaa3"/><stop offset="0.7829" stop-color="#00aa88"/><stop offset="0.7844" stop-color="#009d1d"/><stop offset="0.7852" stop-color="#009f00"/><stop offset="0.7874" stop-color="#009f00"/><stop offset="0.7882" stop-color="#009e28"/><stop offset="0.7889" stop-color="#00a773"/><stop offset="0.7897" stop-color="#00aa95"/><stop offset="0.7912" stop-color="#00a3bf"/><stop offset="0.7964" stop-color="#00a3bf"/><stop offset="0.7987" stop-color="#00aa88"/><stop offset="0.7994" stop-color="#00a13d"/><stop offset="0.8001" stop-color="#009a00"/><stop offset="0.8024" stop-color="#009a00"/><stop offset="0.8031" stop-color="#00a353"/><stop offset="0.8039" stop-color="#00aa90"/><stop offset="0.8046" stop-color="#00aaa3"/><stop offset="0.8061" stop-color="#0098dd"/><stop offset="0.8241" stop-color="#0098dd"/><stop offset="0.8263" stop-color="#0078dd"/><stop offset="0.8271" stop-color="#002fdd"/><stop offset="0.8278" stop-color="#0000c9"/><stop offset="0.8286" stop-color="#0d00a8"/><stop offset="0.8293" stop-color="#4d00a0"/><stop offset="0.8301" stop-color="#78009b"/><stop offset="0.8308" stop-color="#870098"/><stop offset="0.8952" stop-color="#830094"/><stop offset="0.9139" stop-color="#770088"/><stop offset="0.9162" stop-color="#670075"/><stop offset="0.9244" stop-color="#4b0055"/><stop offset="0.9251" stop-color="#41004b"/><stop offset="0.9266" stop-color="#41004b"/><stop offset="0.9296" stop-color="#2f0035"/><stop offset="0.9326" stop-color="#2f0035"/><stop offset="0.9334" stop-color="#25002b"/><stop offset="0.9356" stop-color="#25002b"/><stop offset="0.9364" stop-color="#1c0020"/><stop offset="0.9401" stop-color="#1c0020"/><stop offset="0.9409" stop-color="#130015"/><stop offset="0.9476" stop-color="#130015"/><stop offset="0.9484" stop-color="#09000b"/><stop offset="0.9648" stop-color="#09000b"/><stop offset="0.9656" stop-color="#000000"/><stop offset="1" stop-color="#000000"/></linearGradient>
<linearGradient id="g1_8" x1="0" x2="1" y1="0" y2="0"><stop offset="0" stop-color="#850096"/><stop offset="0.005988" stop-color="#850096"/><stop offset="0.008234" stop-color="#7b008c"/><stop offset="0.008982" stop-color="#700080"/><stop offset="0.01048" stop-color="#380040"/><stop offset="0.01123" stop-color="#2f0035"/><stop offset="0.01647" stop-color="#2f0035"/><stop offset="0.01722" stop-color="#25002b"/><stop offset="0.03069" stop-color="#25002b"/><stop offset="0.03144" stop-color="#1c0020"/><stop offset="0.1781" stop-color="#1c0020"/><stop offset="0.1789" stop-color="#25002b"/><stop offset="0.1826" stop-color="#25002b"/><stop offset="0.1834" stop-color="#2f0035"/><stop offset="0.1864" stop-color="#2f0035"/><stop offset="0.1871" stop-color="#380040"/><stop offset="0.1886" stop-color="#380040"/><stop offset="0.1976" stop-color="#770088"/><stop offset="0.2073" stop-color="#830094"/><stop offset="0.2268" stop-color="#870098"/><stop offset="0.2283" stop-color="#6d009c"/><stop offset="0.232" stop-color="#0d00a8"/><stop offset="0.2335" stop-color="#0000b1"/><stop offset="0.2388" stop-color="#0000c9"/><stop offset="0.2507" stop-color="#0000dd"/><stop offset="0.2515" stop-color="#0009dd"/><stop offset="0.2575" stop-color="#001cdd"/><stop offset="0.259" stop-color="#002fdd"/><stop offset="0.2597" stop-color="#002fdd"/><stop offset="0.265" stop-color="#0070dd"/><stop offset="0.2665" stop-color="#0078dd"/><stop offset="0.2777" stop-color="#0090dd"/><stop offset="0.2919" stop-color="#0098dd"/><stop offset="0.3391" stop-color="#00aaa8"/><stop offset="0.39" stop-color="#00aa88"/><stop offset="0.3907" stop-color="#00a97d"/><stop offset="0.3945" stop-color="#00a97d"/><stop offset="0.3952" stop-color="#00a773"/><stop offset="0.399" stop-color="#00a773"/><stop offset="0.3997" stop-color="#00a668"/><stop offset="0.4034" stop-color="#00a668"/><stop offset="0.4042" stop-color="#00a55d"/><stop offset="0.4079" stop-color="#00a55d"/><stop offset="0.4087" stop-color="#00a353"/><stop offset="0.4154" stop-color="#00a248"/><stop offset="0.4162" stop-color="#00a13d"/><stop offset="0.4184" stop-color="#00a13d"/><stop offset="0.4214" stop-color="#009e28"/><stop offset="0.4237" stop-color="#009e28"/><stop offset="0.4244" stop-color="#009d1d"/><stop offset="0.4266" stop-color="#009d1d"/><stop offset="0.4274" stop-color="#009b13"/><stop offset="0.4296" stop-color="#009b13"/><stop offset="0.4304" stop-color="#009a08"/><stop offset="0.4334" stop-color="#009a00"/><stop offset="0.4723" stop-color="#00a400"/><stop offset="0.5419" stop-color="#00a400"/><stop offset="0.5569" stop-color="#009a00"/><stop offset="0.5726" stop-color="#00a773"/><stop offset="0.5749" stop-color="#00a773"/><stop offset="0.5756" stop-color="#00a97d"/><stop offset="0.6265" stop-color="#00aaab"/><stop offset="0.6497" stop-color="#009cd3"/><stop offset="0.6639" stop-color="#0095dd"/><stop offset="0.6841" stop-color="#0078dd"/><stop offset="0.6894" stop-color="#004bdd"/><stop offset="0.7028" stop-color="#0000dd"/><stop offset="0.7335" stop-color="#0000c9"/><stop offset="0.7395" stop-color="#0000c9"/><stop offset="0.741" stop-color="#0000d1"/><stop offset="0.7418" stop-color="#0067dd"/><stop offset="0.7425" stop-color="#0098dd"/><stop offset="0.7433" stop-color="#00aaa8"/><stop offset="0.744" stop-color="#00a773"/><stop offset="0.7448" stop-color="#009f00"/><stop offset="0.747" stop-color="#009f00"/><stop offset="0.7478" stop-color="#00a13d"/><stop offset="0.7485" stop-color="#00aa8b"/><stop offset="0.7493" stop-color="#00aaa0"/><stop offset="0.7507" stop-color="#0098dd"/><stop offset="0.756" stop-color="#0098dd"/><stop offset="0.7597" stop-color="#00aaa3"/><stop offset="0.7814" stop-color="#00aaa3"/><stop offset="0.7829" stop-color="#00aa88"/><stop offset="0.7844" stop-color="#009d1d"/><stop offset="0.7852" stop-color="#009f00"/><stop offset="0.7874" stop-color="#009f00"/><stop offset="0.7882" stop-color="#009e28"/><stop offset="0.7889" stop-color="#00a773"/><stop offset="0.7897" stop-color="#00aa95"/><stop offset="0.7912" stop-color="#00a3bf"/><stop offset="0.7964" stop-color="#00a3bf"/><stop offset="0.7987" stop-color="#00aa88"/><stop offset="0.7994" stop-color="#00a13d"/><stop offset="0.8001" stop-color="#009a00"/><stop offset="0.8024" stop-color="#009a00"/><stop offset="0.8031" stop-color="#00a353"/><stop offset="0.8039" stop-color="#00aa90"/><stop offset="0.8046" stop-color="#00aaa3"/><stop offset="0.8061" stop-color="#0098dd"/><stop offset="0.8241" stop-color="#0098dd"/><stop offset="0.8263" stop-color="#0078dd"/><stop offset="0.8271" stop-color="#002fdd"/><stop offset="0.8278" stop-color="#0000c9"/><stop offset="0.8286" stop-color="#0d00a8"/><stop offset="0.8293" stop-color="#4d00a0"/><stop offset="0.8301" stop-color="#78009b"/><stop offset="0.8308" stop-color="#870098"/><stop offset="0.8952" stop-color="#830094"/><stop offset="0.9139" stop-color="#770088"/><stop offset="0.9162" stop-color="#670075"/><stop offset="0.9244" stop-color="#4b0055"/><stop offset="0.9251" stop-color="#41004b"/><stop offset="0.9266" stop-color="#41004b"/><stop offset="0.9296" stop-color="#2f0035"/><stop offset="0.9326" stop-color="#2f0035"/><stop offset="0.9334" stop-color="#25002b"/><stop offset="0.9356" stop-color="#25002b"/><stop offset="0.9364" stop-color="#1c0020"/><stop offset="0.9401" stop-color="#1c0020"/><stop offset="0.9409" stop-color="#130015"/><stop offset="0.9476" stop-color="#130015"/><stop offset="0.9484" stop-color="#09000b"/><stop offset="0.9648" stop-color="#09000b"/><stop offset="0.9656" stop-color="#000000"/><stop offset="1" stop-color="#000000"/></linearGradient>
<linearGradient id="g1_9" x1="0" x2="1" y1="0" y2="0"><stop offset="0" stop-color="#850096"/><stop offset="0.005988" stop-color="#850096"/><stop offset="0.008234" stop-color="#7b008c"/><stop offset="0.008982" stop-color="#700080"/><stop offset="0.01048" stop-color="#380040"/><stop offset="0.01123" stop-color="#2f0035"/><stop offset="0.01647" stop-color="#2f0035"/><stop offset="0.01722" stop-color="#25002b"/><stop offset="0.03069" stop-color="#25002b"/><stop offset="0.03144" stop-color="#1c0020"/><stop offset="0.1781" stop-color="#1c0020"/><stop offset="0.1789" stop-color="#25002b"/><stop offset="0.1826" stop-color="#25002b"/><stop offset="0.1834" stop-color="#2f0035"/><stop offset="0.1864" stop-color="#2f0035"/><stop offset="0.1871" stop-color="#380040"/><stop offset="0.1886" stop-color="#380040"/><stop offset="0.1976" stop-color="#770088"/><stop offset="0.2073" stop-color="#830094"/><stop offset="0.2268" stop-color="#870098"/><stop offset="0.2283" stop-color="#6d009c"/><stop offset="0.232" stop-color="#0d00a8"/><stop offset="0.2335" stop-color="#0000b1"/><stop offset="0.2388" stop-color="#0000c9"/><stop offset="0.2507" stop-color="#0000dd"/><stop offset="0.2515" stop-color="#0009dd"/><stop offset="0.2575" stop-color="#001cdd"/><stop offset="0.259" stop-color="#002fdd"/><stop offset="0.2597" stop-color="#002fdd"/><stop offset="0.265" stop-color="#0070dd"/><stop offset="0.2665" stop-color="#0078dd"/><stop offset="0.2777" stop-color="#0090dd"/><stop offset="0.2919" stop-color="#0098dd"/><stop offset="0.3391" stop-color="#00aaa8"/><stop offset="0.39" stop-color="#00aa88"/><stop offset="0.3907" stop-color="#00a97d"/><stop offset="0.3937" stop-color="#00a97d"/><stop offset="0.3945" stop-color="#00a773"/><stop offset="0.3975" stop-color="#00a773"/><stop offset="0.3982" stop-color="#00a668"/><stop offset="0.4012" stop-color="#00a668"/><stop offset="0.4019" stop-color="#00a55d"/><stop offset="0.4057" stop-color="#00a55d"/><stop offset="0.4087" stop-color="#00a248"/><stop offset="0.4154" stop-color="#00a13d"/><stop offset="0.4162" stop-color="#009f33"/><stop offset="0.4184" stop-color="#009f33"/><stop offset="0.4192" stop-color="#009e28"/><stop offset="0.4214" stop-color="#009e28"/><stop offset="0.4222" stop-color="#009d1d"/><stop offset="0.4244" stop-color="#009d1d"/><stop offset="0.4251" stop-color="#009b13"/><stop offset="0.4274" stop-color="#009b13"/><stop offset="0.4281" stop-color="#009a08"/><stop offset="0.4379" stop-color="#009a08"/><stop offset="0.4386" stop-color="#009a00"/><stop offset="0.4469" stop-color="#00a200"/><stop offset="0.5157" stop-color="#00a400"/><stop offset="0.5584" stop-color="#009a00"/><stop offset="0.5659" stop-color="#009f33"/><stop offset="0.5689" stop-color="#00a55d"/><stop offset="0.5734" stop-color="#00a97d"/><stop offset="0.5763" stop-color="#00a97d"/><stop offset="0.5771" stop-color="#00aa88"/><stop offset="0.6115" stop-color="#00aa9b"/><stop offset="0.6557" stop-color="#009adb"/><stop offset="0.6639" stop-color="#0095dd"/><stop offset="0.6841" stop-color="#0078dd"/><stop offset="0.6894" stop-color="#004bdd"/><stop offset="0.7028" stop-color="#0000dd"/><stop offset="0.7335" stop-color="#0000c9"/><stop offset="0.7395" stop-color="#0000c9"/><stop offset="0.741" stop-color="#0000d1"/><stop offset="0.7418" stop-color="#0067dd"/><stop offset="0.7425" stop-color="#0098dd"/><stop offset="0.7433" stop-color="#00aaa8"/><stop offset="0.744" stop-color="#00a773"/><stop offset="0.7448" stop-color="#009f00"/><stop offset="0.747" stop-color="#009f00"/><stop offset="0.7478" stop-color="#00a13d"/><stop offset="0.7485" stop-color="#00aa8b"/><stop offset="0.7493" stop-color="#00aaa0"/><stop offset="0.7507" stop-color="#0098dd"/><stop offset="0.756" stop-color="#0098dd"/><stop offset="0.7597" stop-color="#00aaa3"/><stop offset="0.7814" stop-color="#00aaa3"/><stop offset="0.7829" stop-color="#00aa88"/><stop offset="0.7844" stop-color="#009d1d"/><stop offset="0.7852" stop-color="#009f00"/><stop offset="0.7874" stop-color="#009f00"/><stop offset="0.7882" stop-color="#009e28"/><stop offset="0.7889" stop-color="#00a773"/><stop offset="0.7897" stop-color="#00aa95"/><stop offset="0.7912" stop-color="#00a3bf"/><stop offset="0.7964" stop-color="#00a3bf"/><stop offset="0.7987" stop-color="#00aa88"/><stop offset="0.7994" stop-color="#00a13d"/><stop offset="0.8001" stop-color="#009a00"/><stop offset="0.8024" stop-color="#009a00"/><stop offset="0.8031" stop-color="#00a353"/><stop offset="0.8039" stop-color="#00aa90"/><stop offset="0.8046" stop-color="#00aaa3"/><stop offset="0.8061" stop-color="#0098dd"/><stop offset="0.8241" stop-color="#0098dd"/><stop offset="0.8263" stop-color="#0078dd"/><stop offset="0.8271" stop-color="#002fdd"/><stop offset="0.8278" stop-color="#0000c9"/><stop offset="0.8286" stop-color="#0d00a8"/><stop offset="0.8293" stop-color="#4d00a0"/><stop offset="0.8301" stop-color="#78009b"/><stop offset="0.8308" stop-color="#870098"/><stop offset="0.8952" stop-color="#830094"/><stop offset="0.9139" stop-color="#770088"/><stop offset="0.9162" stop-color="#670075"/><stop offset="0.9244" stop-color="#4b0055"/><stop offset="0.9251" stop-color="#41004b"/><stop offset="0.9266" stop-color="#41004b"/><stop offset="0.9296" stop-color="#2f0035"/><stop offset="0.9326" stop-color="#2f0035"/><stop offset="0.9334" stop-color="#25002b"/><stop offset="0.9356" stop-color="#25002b"/><stop offset="0.9364" stop-color="#1c0020"/><stop offset="0.9401" stop-color="#1c0020"/><stop offset="0.9409" stop-color="#130015"/><stop offset="0.9476" stop-color="#130015"/><stop offset="0.9484" stop-color="#09000b"/><stop offset="0.9648" stop-color="#09000b"/><stop offset="0.9656" stop-color="#000000"/><stop offset="1" stop-color="#000000"/></linearGradient>
<linearGradient id="g1_10" x1="0" x2="1" y1="0" y2="0"><stop offset="0" stop-color="#850096"/><stop offset="0.005988" stop-color="#850096"/><stop offset="0.008982" stop-color="#770088"/><stop offset="0.01048" stop-color="#41004b"/><stop offset="0.01422" stop-color="#41004b"/><stop offset="0.01722" stop-color="#540060"/><stop offset="0.01871" stop-color="#540060"/><stop offset="0.01946" stop-color="#4b0055"/><stop offset="0.0262" stop-color="#4b0055"/><stop offset="0.02919" stop-color="#380040"/><stop offset="0.03069" stop-color="#41004b"/><stop offset="0.03967" stop-color="#41004b"/><stop offset="0.04341" stop-color="#5d006b"/><stop offset="0.04566" stop-color="#5d006b"/><stop offset="0.04641" stop-color="#670075"/><stop offset="0.04865" stop-color="#670075"/><stop offset="0.0494" stop-color="#700080"/><stop offset="0.05838" stop-color="#700080"/><stop offset="0.05913" stop-color="#670075"/><stop offset="0.06063" stop-color="#670075"/><stop offset="0.06138" stop-color="#700080"/><stop offset="0.06437" stop-color="#700080"/><stop offset="0.06512" stop-color="#770088"/><stop offset="0.06662" stop-color="#700080"/><stop offset="0.07784" stop-color="#700080"/><stop offset="0.07859" stop-color="#770088"/><stop offset="0.08234" stop-color="#770088"/><stop offset="0.08308" stop-color="#700080"/><stop offset="0.09281" stop-color="#770088"/><stop offset="0.09356" stop-color="#700080"/><stop offset="0.09581" stop-color="#700080"/><stop offset="0.09656" stop-color="#770088"/><stop offset="0.1003" stop-color="#770088"/><stop offset="0.101" stop-color="#700080"/><stop offset="0.1115" stop-color="#700080"/><stop offset="0.1123" stop-color="#670075"/><stop offset="0.1145" stop-color="#670075"/><stop offset="0.1168" stop-color="#540060"/><stop offset="0.1183" stop-color="#540060"/><stop offset="0.1205" stop-color="#41004b"/><stop offset="0.1392" stop-color="#41004b"/><stop offset="0.14" stop-color="#380040"/><stop offset="0.1415" stop-color="#380040"/><stop offset="0.1422" stop-color="#41004b"/><stop offset="0.1654" stop-color="#41004b"/><stop offset="0.1662" stop-color="#4b0055"/><stop offset="0.1759" stop-color="#4b0055"/><stop offset="0.1766" stop-color="#41004b"/><stop offset="0.1781" stop-color="#41004b"/><stop offset="0.1811" stop-color="#25002b"/><stop offset="0.1826" stop-color="#25002b"/><stop offset="0.1834" stop-color="#2f0035"/><stop offset="0.1864" stop-color="#2f0035"/><stop offset="0.1871" stop-color="#380040"/><stop offset="0.1886" stop-color="#380040"/><stop offset="0.1976" stop-color="#770088"/><stop offset="0.2073" stop-color="#830094"/><stop offset="0.2268" stop-color="#870098"/><stop offset="0.2283" stop-color="#6d009c"/><stop offset="0.232" stop-color="#0d00a8"/><stop offset="0.2335" stop-color="#0000b1"/><stop offset="0.2373" stop-color="#0000c5"/><stop offset="0.2537" stop-color="#0000d9"/><stop offset="0.2642" stop-color="#0000dd"/><stop offset="0.265" stop-color="#0009dd"/><stop offset="0.2747" stop-color="#0013dd"/><stop offset="0.2754" stop-color="#001cdd"/><stop offset="0.2792" stop-color="#001cdd"/><stop offset="0.2822" stop-color="#002fdd"/><stop offset="0.2874" stop-color="#0070dd"/><stop offset="0.2897" stop-color="#007add"/><stop offset="0.3001" stop-color="#0090dd"/><stop offset="0.3144" stop-color="#0098dd"/><stop offset="0.3615" stop-color="#00aaa8"/><stop offset="0.4139" stop-color="#00aa88"/><stop offset="0.4147" stop-color="#00a97d"/><stop offset="0.4169" stop-color="#00a97d"/><stop offset="0.4199" stop-color="#00a668"/><stop offset="0.4214" stop-color="#00a668"/><stop offset="0.4222" stop-color="#00a55d"/><stop offset="0.4251" stop-color="#00a55d"/><stop offset="0.4259" stop-color="#00a353"/><stop offset="0.4319" stop-color="#00a248"/><stop offset="0.4349" stop-color="#009f33"/><stop offset="0.4364" stop-color="#009f33"/><stop offset="0.4371" stop-color="#009e28"/><stop offset="0.4394" stop-color="#009e28"/><stop offset="0.4401" stop-color="#009d1d"/><stop offset="0.4476" stop-color="#009a00"/><stop offset="0.4708" stop-color="#009a00"/><stop offset="0.4716" stop-color="#009a08"/><stop offset="0.479" stop-color="#009a08"/><stop offset="0.4798" stop-color="#009b13"/><stop offset="0.4805" stop-color="#009a08"/><stop offset="0.4873" stop-color="#009a08"/><stop offset="0.488" stop-color="#009b13"/><stop offset="0.4933" stop-color="#009b13"/><stop offset="0.494" stop-color="#009d1d"/><stop offset="0.4963" stop-color="#009d1d"/><stop offset="0.497" stop-color="#009b13"/><stop offset="0.5045" stop-color="#009b13"/><stop offset="0.5052" stop-color="#009a08"/><stop offset="0.5284" stop-color="#009b13"/><stop offset="0.5292" stop-color="#009d1d"/><stop offset="0.5299" stop-color="#009b13"/><stop offset="0.5427" stop-color="#009b13"/><stop offset="0.5442" stop-color="#009a00"/><stop offset="0.5449" stop-color="#009a00"/><stop offset="0.5457" stop-color="#009a08"/><stop offset="0.5487" stop-color="#00a55d"/><stop offset="0.5501" stop-color="#00a773"/><stop offset="0.5524" stop-color="#00a773"/><stop offset="0.5531" stop-color="#00a97d"/><stop offset="0.5576" stop-color="#00a97d"/><stop offset="0.5584" stop-color="#00aa88"/><stop offset="0.5928" stop-color="#00aaa8"/><stop offset="0.6257" stop-color="#009adb"/><stop offset="0.6445" stop-color="#0088dd"/><stop offset="0.6542" stop-color="#0078dd"/><stop offset="0.6624" stop-color="#0038dd"/><stop offset="0.6699" stop-color="#0025dd"/><stop offset="0.6707" stop-color="#001cdd"/><stop offset="0.6737" stop-color="#001cdd"/><stop offset="0.6744" stop-color="#0013dd"/><stop offset="0.6796" stop-color="#0009dd"/><stop offset="0.6804" stop-color="#0000dd"/><stop offset="0.7305" stop-color="#0000c9"/><stop offset="0.7395" stop-color="#0000c9"/><stop offset="0.741" stop-color="#0000d1"/><stop offset="0.7418" stop-color="#0067dd"/><stop offset="0.7425" stop-color="#0098dd"/><stop offset="0.7433" stop-color="#00aaa8"/><stop offset="0.744" stop-color="#00a773"/><stop offset="0.7448" stop-color="#009f00"/><stop offset="0.747" stop-color="#009f00"/><stop offset="0.7478" stop-color="#00a13d"/><stop offset="0.7485" stop-color="#00aa8b"/><stop offset="0.7493" stop-color="#00aaa0"/><stop offset="0.7507" stop-color="#0098dd"/><stop offset="0.756" stop-color="#0098dd"/><stop offset="0.7597" stop-color="#00aaa3"/><stop offset="0.7814" stop-color="#00aaa3"/><stop offset="0.7829" stop-color="#00aa88"/><stop offset="0.7844" stop-color="#009d1d"/><stop offset="0.7852" stop-color="#009f00"/><stop offset="0.7874" stop-color="#009f00"/><stop offset="0.7882" stop-color="#009e28"/><stop offset="0.7889" stop-color="#00a773"/><stop offset="0.7897" stop-color="#00aa95"/><stop offset="0.7912" stop-color="#00a3bf"/><stop offset="0.7964" stop-color="#00a3bf"/><stop offset="0.7987" stop-color="#00aa88"/><stop offset="0.7994" stop-color="#00a13d"/><stop offset="0.8001" stop-color="#009a00"/><stop offset="0.8024" stop-color="#009a00"/><stop offset="0.8031" stop-color="#00a353"/><stop offset="0.8039" stop-color="#00aa90"/><stop offset="0.8046" stop-color="#00aaa3"/><stop offset="0.8061" stop-color="#0098dd"/><stop offset="0.8241" stop-color="#0098dd"/><stop offset="0.8263" stop-color="#0078dd"/><stop offset="0.8271" stop-color="#002fdd"/><stop offset="0.8278" stop-color="#0000c9"/><stop offset="0.8286" stop-color="#0d00a8"/><stop offset="0.8293" stop-color="#4d00a0"/><stop offset="0.8301" stop-color="#78009b"/><stop offset="0.8308" stop-color="#870098"/><stop offset="0.8952" stop-color="#830094"/><stop offset="0.9139" stop-color="#770088"/><stop offset="0.9162" stop-color="#670075"/><stop offset="0.9244" stop-color="#4b0055"/><stop offset="0.9251" stop-color="#41004b"/><stop offset="0.9266" stop-color="#41004b"/><stop offset="0.9296" stop-color="#2f0035"/><stop offset="0.9326" stop-color="#2f0035"/><stop offset="0.9334" stop-color="#25002b"/><stop offset="0.9356" stop-color="#25002b"/><stop offset="0.9364" stop-color="#1c0020"/><stop offset="0.9401" stop-color="#1c0020"/><stop offset="0.9409" stop-color="#130015"/><stop offset="0.9476" stop-color="#130015"/><stop offset="0.9484" stop-color="#09000b"/><stop offset="0.9648" stop-color="#09000b"/><stop offset="0.9656" stop-color="#000000"/><stop offset="1" stop-color="#000000"/></linearGradient>
<linearGradient id="g1_11" x1="0" x2="1" y1="0" y2="0"><stop offset="0" stop-color="#41004b"/><stop offset="0.01572" stop-color="#41004b"/><stop offset="0.01647" stop-color="#4b0055"/><stop offset="0.01871" stop-color="#4b0055"/><stop offset="0.01946" stop-color="#41004b"/><stop offset="0.02695" stop-color="#41004b"/><stop offset="0.02769" stop-color="#380040"/><stop offset="0.03967" stop-color="#380040"/><stop offset="0.04266" stop-color="#540060"/><stop offset="0.04566" stop-color="#540060"/><stop offset="0.04641" stop-color="#5d006b"/><stop offset="0.04865" stop-color="#5d006b"/><stop offset="0.0494" stop-color="#670075"/><stop offset="0.05314" stop-color="#670075"/><stop offset="0.05389" stop-color="#5d006b"/><stop offset="0.05539" stop-color="#5d006b"/><stop offset="0.05614" stop-color="#670075"/><stop offset="0.05763" stop-color="#670075"/><stop offset="0.05838" stop-color="#5d006b"/><stop offset="0.06287" stop-color="#5d006b"/><stop offset="0.06362" stop-color="#670075"/><stop offset="0.0726" stop-color="#5d006b"/><stop offset="0.07335" stop-color="#670075"/><stop offset="0.0771" stop-color="#670075"/><stop offset="0.07784" stop-color="#700080"/><stop offset="0.08234" stop-color="#700080"/><stop offset="0.08308" stop-color="#670075"/><stop offset="0.1018" stop-color="#670075"/><stop offset="0.1025" stop-color="#5d006b"/><stop offset="0.11" stop-color="#670075"/><stop offset="0.1108" stop-color="#5d006b"/><stop offset="0.1145" stop-color="#5d006b"/><stop offset="0.1168" stop-color="#4b0055"/><stop offset="0.1183" stop-color="#4b0055"/><stop offset="0.1213" stop-color="#380040"/><stop offset="0.1467" stop-color="#380040"/><stop offset="0.1475" stop-color="#41004b"/><stop offset="0.2852" stop-color="#41004b"/><stop offset="0.2867" stop-color="#540060"/><stop offset="0.2882" stop-color="#79008a"/><stop offset="0.2912" stop-color="#810092"/><stop offset="0.387" stop-color="#860097"/><stop offset="0.3877" stop-color="#6d009c"/><stop offset="0.3892" stop-color="#1800a7"/><stop offset="0.39" stop-color="#0000ad"/><stop offset="0.3937" stop-color="#0000b1"/><stop offset="0.3945" stop-color="#0300aa"/><stop offset="0.3952" stop-color="#1800a7"/><stop offset="0.3967" stop-color="#63009e"/><stop offset="0.3982" stop-color="#83009a"/><stop offset="0.4064" stop-color="#6d009c"/><stop offset="0.4072" stop-color="#4300a2"/><stop offset="0.4124" stop-color="#4300a2"/><stop offset="0.4132" stop-color="#3800a3"/><stop offset="0.4139" stop-color="#4300a2"/><stop offset="0.4192" stop-color="#4300a2"/><stop offset="0.4199" stop-color="#2d00a4"/><stop offset="0.4237" stop-color="#2d00a4"/><stop offset="0.4244" stop-color="#2300a6"/><stop offset="0.4259" stop-color="#2300a6"/><stop offset="0.4266" stop-color="#4d00a0"/><stop offset="0.4319" stop-color="#4d00a0"/><stop offset="0.4326" stop-color="#4300a2"/><stop offset="0.4371" stop-color="#4300a2"/><stop offset="0.4386" stop-color="#3800a3"/><stop offset="0.4394" stop-color="#2300a6"/><stop offset="0.4409" stop-color="#2300a6"/><stop offset="0.4416" stop-color="#1800a7"/><stop offset="0.4446" stop-color="#1800a7"/><stop offset="0.4454" stop-color="#2300a6"/><stop offset="0.4513" stop-color="#2300a6"/><stop offset="0.4521" stop-color="#2d00a4"/><stop offset="0.4573" stop-color="#2d00a4"/><stop offset="0.4581" stop-color="#1800a7"/><stop offset="0.4626" stop-color="#1800a7"/><stop offset="0.4641" stop-color="#0d00a8"/><stop offset="0.4648" stop-color="#2d00a4"/><stop offset="0.4678" stop-color="#2d00a4"/><stop offset="0.4686" stop-color="#2300a6"/><stop offset="0.4701" stop-color="#2300a6"/><stop offset="0.4708" stop-color="#0000ad"/><stop offset="0.4768" stop-color="#0000b1"/><stop offset="0.4775" stop-color="#1800a7"/><stop offset="0.4783" stop-color="#0d00a8"/><stop offset="0.4828" stop-color="#0d00a8"/><stop offset="0.4835" stop-color="#0000ad"/><stop offset="0.4955" stop-color="#0000b1"/><stop offset="0.5022" stop-color="#0300aa"/><stop offset="0.503" stop-color="#0000b5"/><stop offset="0.5082" stop-color="#0000b5"/><stop offset="0.509" stop-color="#0d00a8"/><stop offset="0.5142" stop-color="#0d00a8"/><stop offset="0.515" stop-color="#1800a7"/><stop offset="0.5157" stop-color="#0000b1"/><stop offset="0.521" stop-color="#0000ad"/><stop offset="0.5217" stop-color="#0d00a8"/><stop offset="0.5254" stop-color="#0d00a8"/><stop offset="0.5262" stop-color="#1800a7"/><stop offset="0.5277" stop-color="#1800a7"/><stop offset="0.5284" stop-color="#2d00a4"/><stop offset="0.5314" stop-color="#2d00a4"/><stop offset="0.5322" stop-color="#3800a3"/><stop offset="0.5337" stop-color="#3800a3"/><stop offset="0.5344" stop-color="#58009f"/><stop offset="0.5374" stop-color="#58009f"/><stop offset="0.5382" stop-color="#63009e"/><stop offset="0.5442" stop-color="#63009e"/><stop offset="0.5449" stop-color="#6d009c"/><stop offset="0.5464" stop-color="#6d009c"/><stop offset="0.5472" stop-color="#3800a3"/><stop offset="0.5494" stop-color="#3800a3"/><stop offset="0.5501" stop-color="#4300a2"/><stop offset="0.5531" stop-color="#4300a2"/><stop offset="0.5539" stop-color="#63009e"/><stop offset="0.5591" stop-color="#63009e"/><stop offset="0.5599" stop-color="#83009a"/><stop offset="0.5651" stop-color="#870098"/><stop offset="0.5659" stop-color="#870098"/><stop offset="0.5666" stop-color="#78009b"/><stop offset="0.5674" stop-color="#83009a"/><stop offset="0.5786" stop-color="#870098"/><stop offset="0.5793" stop-color="#63009e"/><stop offset="0.5801" stop-color="#6d009c"/><stop offset="0.5891" stop-color="#78009b"/><stop offset="0.5898" stop-color="#83009a"/><stop offset="0.6033" stop-color="#810092"/><stop offset="0.6108" stop-color="#860097"/><stop offset="0.8219" stop-color="#7f0090"/><stop offset="0.8249" stop-color="#79008a"/><stop offset="0.8286" stop-color="#41004b"/><stop offset="0.8473" stop-color="#41004b"/><stop offset="0.8481" stop-color="#380040"/><stop offset="0.878" stop-color="#380040"/><stop offset="0.8787" stop-color="#2f0035"/><stop offset="0.9064" stop-color="#2f0035"/><stop offset="0.9072" stop-color="#25002b"/><stop offset="0.9162" stop-color="#25002b"/><stop offset="0.9169" stop-color="#1c0020"/><stop offset="0.9259" stop-color="#1c0020"/><stop offset="0.9266" stop-color="#130015"/><stop offset="0.9356" stop-color="#130015"/><stop offset="0.9364" stop-color="#09000b"/><stop offset="0.9558" stop-color="#09000b"/><stop offset="0.9566" stop-color="#000000"/><stop offset="1" stop-color="#000000"/></linearGradient>
<linearGradient id="g1_12" x1="0" x2="1" y1="0" y2="0"><stop offset="0" stop-color="#850096"/><stop offset="0.005988" stop-color="#850096"/><stop offset="0.008982" stop-color="#770088"/><stop offset="0.01048" stop-color="#41004b"/><stop offset="0.01422" stop-color="#41004b"/><stop offset="0.01722" stop-color="#540060"/><stop offset="0.01871" stop-color="#540060"/><stop offset="0.01946" stop-color="#4b0055"/><stop offset="0.0262" stop-color="#4b0055"/><stop offset="0.02919" stop-color="#380040"/><stop offset="0.03069" stop-color="#41004b"/><stop offset="0.03967" stop-color="#41004b"/><stop offset="0.04341" stop-color="#5d006b"/><stop offset="0.04566" stop-color="#5d006b"/><stop offset="0.04641" stop-color="#670075"/><stop offset="0.04865" stop-color="#670075"/><stop offset="0.0494" stop-color="#700080"/><stop offset="0.05838" stop-color="#700080"/><stop offset="0.05913" stop-color="#670075"/><stop offset="0.06063" stop-color="#670075"/><stop offset="0.06138" stop-color="#700080"/><stop offset="0.06437" stop-color="#700080"/><stop offset="0.06512" stop-color="#770088"/><stop offset="0.06662" stop-color="#700080"/><stop offset="0.07784" stop-color="#700080"/><stop offset="0.07859" stop-color="#770088"/><stop offset="0.08234" stop-color="#770088"/><stop offset="0.08308" stop-color="#700080"/><stop offset="0.09281" stop-color="#770088"/><stop offset="0.09356" stop-color="#700080"/><stop offset="0.09581" stop-color="#700080"/><stop offset="0.09656" stop-color="#770088"/><stop offset="0.1003" stop-color="#770088"/><stop offset="0.101" stop-color="#700080"/><stop offset="0.1115" stop-color="#700080"/><stop offset="0.1123" stop-color="#670075"/><stop offset="0.1145" stop-color="#670075"/><stop offset="0.1168" stop-color="#540060"/><stop offset="0.1183" stop-color="#540060"/><stop offset="0.1205" stop-color="#41004b"/><stop offset="0.1392" stop-color="#41004b"/><stop offset="0.14" stop-color="#380040"/><stop offset="0.1415" stop-color="#380040"/><stop offset="0.1422" stop-color="#41004b"/><stop offset="0.1654" stop-color="#41004b"/><stop offset="0.1662" stop-color="#4b0055"/><stop offset="0.1759" stop-color="#4b0055"/><stop offset="0.1766" stop-color="#41004b"/><stop offset="0.1781" stop-color="#41004b"/><stop offset="0.1811" stop-color="#25002b"/><stop offset="0.1826" stop-color="#25002b"/><stop offset="0.1834" stop-color="#2f0035"/><stop offset="0.1864" stop-color="#2f0035"/><stop offset="0.1871" stop-color="#380040"/><stop offset="0.1886" stop-color="#380040"/><stop offset="0.1976" stop-color="#770088"/><stop offset="0.2073" stop-color="#830094"/><stop offset="0.2268" stop-color="#870098"/><stop offset="0.2283" stop-color="#6d009c"/><stop offset="0.232" stop-color="#0d00a8"/><stop offset="0.2335" stop-color="#0000b1"/><stop offset="0.2365" stop-color="#0000c5"/><stop offset="0.2463" stop-color="#0000dd"/><stop offset="0.2522" stop-color="#002fdd"/><stop offset="0.2575" stop-color="#0070dd"/><stop offset="0.2597" stop-color="#007add"/><stop offset="0.2702" stop-color="#0090dd"/><stop offset="0.2844" stop-color="#0098dd"/><stop offset="0.3316" stop-color="#00aaa8"/><stop offset="0.3832" stop-color="#00aa88"/><stop offset="0.384" stop-color="#00a97d"/><stop offset="0.3922" stop-color="#00a773"/><stop offset="0.393" stop-color="#00a668"/><stop offset="0.3952" stop-color="#00a668"/><stop offset="0.396" stop-color="#00a55d"/><stop offset="0.399" stop-color="#00a55d"/><stop offset="0.3997" stop-color="#00a353"/><stop offset="0.4027" stop-color="#00a353"/><stop offset="0.4034" stop-color="#00a248"/><stop offset="0.4079" stop-color="#00a248"/><stop offset="0.4087" stop-color="#00a13d"/><stop offset="0.4154" stop-color="#009f33"/><stop offset="0.4162" stop-color="#009e28"/><stop offset="0.4214" stop-color="#009e28"/><stop offset="0.4222" stop-color="#009d1d"/><stop offset="0.4281" stop-color="#009b13"/><stop offset="0.4289" stop-color="#009a08"/><stop offset="0.4319" stop-color="#009a00"/><stop offset="0.5082" stop-color="#00aa00"/><stop offset="0.5561" stop-color="#009a00"/><stop offset="0.5734" stop-color="#00a97d"/><stop offset="0.5763" stop-color="#00a97d"/><stop offset="0.5771" stop-color="#00aa88"/><stop offset="0.6018" stop-color="#00aa93"/><stop offset="0.6265" stop-color="#00aaab"/><stop offset="0.6497" stop-color="#009cd3"/><stop offset="0.6639" stop-color="#0095dd"/><stop offset="0.6841" stop-color="#0078dd"/><stop offset="0.6894" stop-color="#004bdd"/><stop offset="0.7028" stop-color="#0000dd"/><stop offset="0.7335" stop-color="#0000c9"/><stop offset="0.7395" stop-color="#0000c9"/><stop offset="0.741" stop-color="#0000d1"/><stop offset="0.7418" stop-color="#0067dd"/><stop offset="0.7425" stop-color="#0098dd"/><stop offset="0.7433" stop-color="#00aaa8"/><stop offset="0.744" stop-color="#00a773"/><stop offset="0.7448" stop-color="#009f00"/><stop offset="0.747" stop-color="#009f00"/><stop offset="0.7478" stop-color="#00a13d"/><stop offset="0.7485" stop-color="#00aa8b"/><stop offset="0.7493" stop-color="#00aaa0"/><stop offset="0.7507" stop-color="#0098dd"/><stop offset="0.756" stop-color="#0098dd"/><stop offset="0.7597" stop-color="#00aaa3"/><stop offset="0.7814" stop-color="#00aaa3"/><stop offset="0.7829" stop-color="#00aa88"/><stop offset="0.7844" stop-color="#009d1d"/><stop offset="0.7852" stop-color="#009f00"/><stop offset="0.7874" stop-color="#009f00"/><stop offset="0.7882" stop-color="#009e28"/><stop offset="0.7889" stop-color="#00a773"/><stop offset="0.7897" stop-color="#00aa95"/><stop offset="0.7912" stop-color="#00a3bf"/><stop offset="0.7964" stop-color="#00a3bf"/><stop offset="0.7987" stop-color="#00aa88"/><stop offset="0.7994" stop-color="#00a13d"/><stop offset="0.8001" stop-color="#009a00"/><stop offset="0.8024" stop-color="#009a00"/><stop offset="0.8031" stop-color="#00a353"/><stop offset="0.8039" stop-color="#00aa90"/><stop offset="0.8046" stop-color="#00aaa3"/><stop offset="0.8061" stop-color="#0098dd"/><stop offset="0.8241" stop-color="#0098dd"/><stop offset="0.8263" stop-color="#0078dd"/><stop offset="0.8271" stop-color="#002fdd"/><stop offset="0.8278" stop-color="#0000c9"/><stop offset="0.8286" stop-color="#0d00a8"/><stop offset="0.8293" stop-color="#4d00a0"/><stop offset="0.8301" stop-color="#78009b"/><stop offset="0.8308" stop-color="#870098"/><stop offset="0.8952" stop-color="#830094"/><stop offset="0.9139" stop-color="#770088"/><stop offset="0.9162" stop-color="#670075"/><stop offset="0.9244" stop-color="#4b0055"/><stop offset="0.9251" stop-color="#41004b"/><stop offset="0.9266" stop-color="#41004b"/><stop offset="0.9296" stop-color="#2f0035"/><stop offset="0.9326" stop-color="#2f0035"/><stop offset="0.9334" stop-color="#25002b"/><stop offset="0.9356" stop-color="#25002b"/><stop offset="0.9364" stop-color="#1c0020"/><stop offset="0.9401" stop-color="#1c0020"/><stop offset="0.9409" stop-color="#130015"/><stop offset="0.9476" stop-color="#130015"/><stop offset="0.9484" stop-color="#09000b"/><stop offset="0.9648" stop-color="#09000b"/><stop offset="0.9656" stop-color="#000000"/><stop offset="1" stop-color="#000000"/></linearGradient>
<linearGradient id="g1_13" x1="0" x2="1" y1="0" y2="0"><stop offset="0" stop-color="#850096"/><stop offset="0.005988" stop-color="#850096"/><stop offset="0.008982" stop-color="#770088"/><stop offset="0.01048" stop-color="#41004b"/><stop offset="0.01422" stop-color="#41004b"/><stop offset="0.01722" stop-color="#540060"/><stop offset="0.01871" stop-color="#540060"/><stop offset="0.01946" stop-color="#4b0055"/><stop offset="0.0262" stop-color="#4b0055"/><stop offset="0.02919" stop-color="#380040"/><stop offset="0.03069" stop-color="#41004b"/><stop offset="0.03967" stop-color="#41004b"/><stop offset="0.04341" stop-color="#5d006b"/><stop offset="0.04566" stop-color="#5d006b"/><stop offset="0.04641" stop-color="#670075"/><stop offset="0.04865" stop-color="#670075"/><stop offset="0.0494" stop-color="#700080"/><stop offset="0.05838" stop-color="#700080"/><stop offset="0.05913" stop-color="#670075"/><stop offset="0.06063" stop-color="#670075"/><stop offset="0.06138" stop-color="#700080"/><stop offset="0.06437" stop-color="#700080"/><stop offset="0.06512" stop-color="#770088"/><stop offset="0.06662" stop-color="#700080"/><stop offset="0.07784" stop-color="#700080"/><stop offset="0.07859" stop-color="#770088"/><stop offset="0.08234" stop-color="#770088"/><stop offset="0.08308" stop-color="#700080"/><stop offset="0.09281" stop-color="#770088"/><stop offset="0.09356" stop-color="#700080"/><stop offset="0.09581" stop-color="#700080"/><stop offset="0.09656" stop-color="#770088"/><stop offset="0.1003" stop-color="#770088"/><stop offset="0.101" stop-color="#700080"/><stop offset="0.1115" stop-color="#700080"/><stop offset="0.1123" stop-color="#670075"/><stop offset="0.1145" stop-color="#670075"/><stop offset="0.1168" stop-color="#540060"/><stop offset="0.1183" stop-color="#540060"/><stop offset="0.1205" stop-color="#41004b"/><stop offset="0.1392" stop-color="#41004b"/><stop offset="0.14" stop-color="#380040"/><stop offset="0.1415" stop-color="#380040"/><stop offset="0.1422" stop-color="#41004b"/><stop offset="0.1654" stop-color="#41004b"/><stop offset="0.1662" stop-color="#4b0055"/><stop offset="0.1759" stop-color="#4b0055"/><stop offset="0.1766" stop-color="#41004b"/><stop offset="0.1781" stop-color="#41004b"/><stop offset="0.1811" stop-color="#25002b"/><stop offset="0.1826" stop-color="#25002b"/><stop offset="0.1834" stop-color="#2f0035"/><stop offset="0.1864" stop-color="#2f0035"/><stop offset="0.1871" stop-color="#380040"/><stop offset="0.1886" stop-color="#380040"/><stop offset="0.1976" stop-color="#770088"/><stop offset="0.2073" stop-color="#830094"/><stop offset="0.2268" stop-color="#870098"/><stop offset="0.2283" stop-color="#6d009c"/><stop offset="0.232" stop-color="#0d00a8"/><stop offset="0.2335" stop-color="#0000b1"/><stop offset="0.238" stop-color="#0000c9"/><stop offset="0.2485" stop-color="#0000dd"/><stop offset="0.256" stop-color="#002fdd"/><stop offset="0.2612" stop-color="#0070dd"/><stop offset="0.2627" stop-color="#0078dd"/><stop offset="0.274" stop-color="#0090dd"/><stop offset="0.2882" stop-color="#0098dd"/><stop offset="0.3323" stop-color="#00aaab"/><stop offset="0.3787" stop-color="#00aa8d"/><stop offset="0.3892" stop-color="#00a97d"/><stop offset="0.39" stop-color="#00a773"/><stop offset="0.3997" stop-color="#00a773"/><stop offset="0.4004" stop-color="#00a668"/><stop offset="0.4042" stop-color="#00a668"/><stop offset="0.4049" stop-color="#00a55d"/><stop offset="0.4064" stop-color="#00a55d"/><stop offset="0.4094" stop-color="#00a248"/><stop offset="0.4117" stop-color="#00a248"/><stop offset="0.4124" stop-color="#00a13d"/><stop offset="0.4147" stop-color="#00a13d"/><stop offset="0.4154" stop-color="#009f33"/><stop offset="0.4237" stop-color="#009e28"/><stop offset="0.4244" stop-color="#009d1d"/><stop offset="0.4266" stop-color="#009d1d"/><stop offset="0.4274" stop-color="#009b13"/><stop offset="0.4304" stop-color="#009b13"/><stop offset="0.4311" stop-color="#009a08"/><stop offset="0.4379" stop-color="#009a08"/><stop offset="0.4386" stop-color="#009a00"/><stop offset="0.4948" stop-color="#00aa00"/><stop offset="0.5442" stop-color="#00a700"/><stop offset="0.5584" stop-color="#009a00"/><stop offset="0.5599" stop-color="#009b13"/><stop offset="0.5666" stop-color="#00a13d"/><stop offset="0.5689" stop-color="#00a55d"/><stop offset="0.5734" stop-color="#00a97d"/><stop offset="0.5763" stop-color="#00a97d"/><stop offset="0.5771" stop-color="#00aa88"/><stop offset="0.6213" stop-color="#00aaa5"/><stop offset="0.6557" stop-color="#009adb"/><stop offset="0.6639" stop-color="#0095dd"/><stop offset="0.6841" stop-color="#0078dd"/><stop offset="0.6894" stop-color="#004bdd"/><stop offset="0.7028" stop-color="#0000dd"/><stop offset="0.7335" stop-color="#0000c9"/><stop offset="0.7395" stop-color="#0000c9"/><stop offset="0.741" stop-color="#0000d1"/><stop offset="0.7418" stop-color="#0067dd"/><stop offset="0.7425" stop-color="#0098dd"/><stop offset="0.7433" stop-color="#00aaa8"/><stop offset="0.744" stop-color="#00a773"/><stop offset="0.7448" stop-color="#009f00"/><stop offset="0.747" stop-color="#009f00"/><stop offset="0.7478" stop-color="#00a13d"/><stop offset="0.7485" stop-color="#00aa8b"/><stop offset="0.7493" stop-color="#00aaa0"/><stop offset="0.7507" stop-color="#0098dd"/><stop offset="0.756" stop-color="#0098dd"/><stop offset="0.7597" stop-color="#00aaa3"/><stop offset="0.7814" stop-color="#00aaa3"/><stop offset="0.7829" stop-color="#00aa88"/><stop offset="0.7844" stop-color="#009d1d"/><stop offset="0.7852" stop-color="#009f00"/><stop offset="0.7874" stop-color="#009f00"/><stop offset="0.7882" stop-color="#009e28"/><stop offset="0.7889" stop-color="#00a773"/><stop offset="0.7897" stop-color="#00aa95"/><stop offset="0.7912" stop-color="#00a3bf"/><stop offset="0.7964" stop-color="#00a3bf"/><stop offset="0.7987" stop-color="#00aa88"/><stop offset="0.7994" stop-color="#00a13d"/><stop offset="0.8001" stop-color="#009a00"/><stop offset="0.8024" stop-color="#009a00"/><stop offset="0.8031" stop-color="#00a353"/><stop offset="0.8039" stop-color="#00aa90"/><stop offset="0.8046" stop-color="#00aaa3"/><stop offset="0.8061" stop-color="#0098dd"/><stop offset="0.8241" stop-color="#0098dd"/><stop offset="0.8263" stop-color="#0078dd"/><stop offset="0.8271" stop-color="#002fdd"/><stop offset="0.8278" stop-color="#0000c9"/><stop offset="0.8286" stop-color="#0d00a8"/><stop offset="0.8293" stop-color="#4d00a0"/><stop offset="0.8301" stop-color="#78009b"/><stop offset="0.8308" stop-color="#870098"/><stop offset="0.8952" stop-color="#830094"/><stop offset="0.9139" stop-color="#770088"/><stop offset="0.9162" stop-color="#670075"/><stop offset="0.9244" stop-color="#4b0055"/><stop offset="0.9251" stop-color="#41004b"/><stop offset="0.9266" stop-color="#41004b"/><stop offset="0.9296" stop-color="#2f0035"/><stop offset="0.9326" stop-color="#2f0035"/><stop offset="0.9334" stop-color="#25002b"/><stop offset="0.9356" stop-color="#25002b"/><stop offset="0.9364" stop-color="#1c0020"/><stop offset="0.9401" stop-color="#1c0020"/><stop offset="0.9409" stop-color="#130015"/><stop offset="0.9476" stop-color="#130015"/><stop offset="0.9484" stop-color="#09000b"/><stop offset="0.9648" stop-color="#09000b"/><stop offset="0.9656" stop-color="#000000"/><stop offset="1" stop-color="#000000"/></linearGradient>
<linearGradient id="g1_14" x1="0" x2="1" y1="0" y2="0"><stop offset="0" stop-color="#850096"/><stop offset="0.005988" stop-color="#850096"/><stop offset="0.008234" stop-color="#7b008c"/><stop offset="0.008982" stop-color="#700080"/><stop offset="0.01048" stop-color="#380040"/><stop offset="0.01123" stop-color="#2f0035"/><stop offset="0.01647" stop-color="#2f0035"/><stop offset="0.01722" stop-color="#25002b"/><stop offset="0.03069" stop-color="#25002b"/><stop offset="0.03144" stop-color="#1c0020"/><stop offset="0.1781" stop-color="#1c0020"/><stop offset="0.1789" stop-color="#25002b"/><stop offset="0.1826" stop-color="#25002b"/><stop offset="0.1834" stop-color="#2f0035"/><stop offset="0.1864" stop-color="#2f0035"/><stop offset="0.1871" stop-color="#380040"/><stop offset="0.1886" stop-color="#380040"/><stop offset="0.1976" stop-color="#770088"/><stop offset="0.2073" stop-color="#830094"/><stop offset="0.2268" stop-color="#870098"/><stop offset="0.2283" stop-color="#6d009c"/><stop offset="0.232" stop-color="#0d00a8"/><stop offset="0.2335" stop-color="#0000b1"/><stop offset="0.238" stop-color="#0000c9"/><stop offset="0.2485" stop-color="#0000dd"/><stop offset="0.256" stop-color="#002fdd"/><stop offset="0.2612" stop-color="#0070dd"/><stop offset="0.2627" stop-color="#0078dd"/><stop offset="0.274" stop-color="#0090dd"/><stop offset="0.2882" stop-color="#0098dd"/><stop offset="0.3353" stop-color="#00aaa8"/><stop offset="0.3892" stop-color="#00aa88"/><stop offset="0.39" stop-color="#00a97d"/><stop offset="0.3937" stop-color="#00a97d"/><stop offset="0.3945" stop-color="#00a773"/><stop offset="0.399" stop-color="#00a773"/><stop offset="0.3997" stop-color="#00a668"/><stop offset="0.4064" stop-color="#00a55d"/><stop offset="0.4094" stop-color="#00a248"/><stop offset="0.4124" stop-color="#00a248"/><stop offset="0.4132" stop-color="#00a13d"/><stop offset="0.4154" stop-color="#00a13d"/><stop offset="0.4162" stop-color="#009f33"/><stop offset="0.4222" stop-color="#009e28"/><stop offset="0.4229" stop-color="#009d1d"/><stop offset="0.4251" stop-color="#009d1d"/><stop offset="0.4259" stop-color="#009b13"/><stop offset="0.4281" stop-color="#009b13"/><stop offset="0.4289" stop-color="#009a08"/><stop offset="0.4319" stop-color="#009a08"/><stop offset="0.4326" stop-color="#009a00"/><stop offset="0.4828" stop-color="#00ac00"/><stop offset="0.5464" stop-color="#00aa00"/><stop offset="0.5531" stop-color="#009a00"/><stop offset="0.5584" stop-color="#00a248"/><stop offset="0.5591" stop-color="#00a248"/><stop offset="0.5629" stop-color="#00a773"/><stop offset="0.5644" stop-color="#00a773"/><stop offset="0.5651" stop-color="#00a97d"/><stop offset="0.5689" stop-color="#00a97d"/><stop offset="0.5696" stop-color="#00aa88"/><stop offset="0.6153" stop-color="#00aaa8"/><stop offset="0.622" stop-color="#00a4bb"/><stop offset="0.6445" stop-color="#009adb"/><stop offset="0.6632" stop-color="#0088dd"/><stop offset="0.6729" stop-color="#0078dd"/><stop offset="0.6826" stop-color="#002fdd"/><stop offset="0.6886" stop-color="#001cdd"/><stop offset="0.6894" stop-color="#0013dd"/><stop offset="0.6916" stop-color="#0013dd"/><stop offset="0.6946" stop-color="#0000dd"/><stop offset="0.732" stop-color="#0000c9"/><stop offset="0.7395" stop-color="#0000c9"/><stop offset="0.741" stop-color="#0000d1"/><stop offset="0.7418" stop-color="#0067dd"/><stop offset="0.7425" stop-color="#0098dd"/><stop offset="0.7433" stop-color="#00aaa8"/><stop offset="0.744" stop-color="#00a773"/><stop offset="0.7448" stop-color="#009f00"/><stop offset="0.747" stop-color="#009f00"/><stop offset="0.7478" stop-color="#00a13d"/><stop offset="0.7485" stop-color="#00aa8b"/><stop offset="0.7493" stop-color="#00aaa0"/><stop offset="0.7507" stop-color="#0098dd"/><stop offset="0.756" stop-color="#0098dd"/><stop offset="0.7597" stop-color="#00aaa3"/><stop offset="0.7814" stop-color="#00aaa3"/><stop offset="0.7829" stop-color="#00aa88"/><stop offset="0.7844" stop-color="#009d1d"/><stop offset="0.7852" stop-color="#009f00"/><stop offset="0.7874" stop-color="#009f00"/><stop offset="0.7882" stop-color="#009e28"/><stop offset="0.7889" stop-color="#00a773"/><stop offset="0.7897" stop-color="#00aa95"/><stop offset="0.7912" stop-color="#00a3bf"/><stop offset="0.7964" stop-color="#00a3bf"/><stop offset="0.7987" stop-color="#00aa88"/><stop offset="0.7994" stop-color="#00a13d"/><stop offset="0.8001" stop-color="#009a00"/><stop offset="0.8024" stop-color="#009a00"/><stop offset="0.8031" stop-color="#00a353"/><stop offset="0.8039" stop-color="#00aa90"/><stop offset="0.8046" stop-color="#00aaa3"/><stop offset="0.8061" stop-color="#0098dd"/><stop offset="0.8241" stop-color="#0098dd"/><stop offset="0.8263" stop-color="#0078dd"/><stop offset="0.8271" stop-color="#002fdd"/><stop offset="0.8278" stop-color="#0000c9"/><stop offset="0.8286" stop-color="#0d00a8"/><stop offset="0.8293" stop-color="#4d00a0"/><stop offset="0.8301" stop-color="#78009b"/><stop offset="0.8308" stop-color="#870098"/><stop offset="0.8952" stop-color="#830094"/><stop offset="0.9139" stop-color="#770088"/><stop offset="0.9162" stop-color="#670075"/><stop offset="0.9244" stop-color="#4b0055"/><stop offset="0.9251" stop-color="#41004b"/><stop offset="0.9266" stop-color="#41004b"/><stop offset="0.9296" stop-color="#2f0035"/><stop offset="0.9326" stop-color="#2f0035"/><stop offset="0.9334" stop-color="#25002b"/><stop offset="0.9356" stop-color="#25002b"/><stop offset="0.9364" stop-color="#1c0020"/><stop offset="0.9401" stop-color="#1c0020"/><stop offset="0.9409" stop-color="#130015"/><stop offset="0.9476" stop-color="#130015"/><stop offset="0.9484" stop-color="#09000b"/><stop offset="0.9648" stop-color="#09000b"/><stop offset="0.9656" stop-color="#000000"/><stop offset="1" stop-color="#000000"/></linearGradient>
<linearGradient id="g1_15" x1="0" x2="1" y1="0" y2="0"><stop offset="0" stop-color="#850096"/><stop offset="0.005988" stop-color="#850096"/><stop offset="0.008234" stop-color="#7b008c"/><stop offset="0.008982" stop-color="#700080"/><stop offset="0.01048" stop-color="#380040"/><stop offset="0.01123" stop-color="#2f0035"/><stop offset="0.01647" stop-color="#2f0035"/><stop offset="0.01722" stop-color="#25002b"/><stop offset="0.03069" stop-color="#25002b"/><stop offset="0.03144" stop-color="#1c0020"/><stop offset="0.1781" stop-color="#1c0020"/><stop offset="0.1789" stop-color="#25002b"/><stop offset="0.1826" stop-color="#25002b"/><stop offset="0.1834" stop-color="#2f0035"/><stop offset="0.1864" stop-color="#2f0035"/><stop offset="0.1871" stop-color="#380040"/><stop offset="0.1886" stop-color="#380040"/><stop offset="0.1976" stop-color="#770088"/><stop offset="0.2073" stop-color="#830094"/><stop offset="0.2268" stop-color="#870098"/><stop offset="0.2283" stop-color="#6d009c"/><stop offset="0.232" stop-color="#0d00a8"/><stop offset="0.2335" stop-color="#0000b1"/><stop offset="0.2388" stop-color="#0000c9"/><stop offset="0.253" stop-color="#0000dd"/><stop offset="0.2537" stop-color="#0009dd"/><stop offset="0.2612" stop-color="#001cdd"/><stop offset="0.2627" stop-color="#002fdd"/><stop offset="0.2635" stop-color="#002fdd"/><stop offset="0.2687" stop-color="#0070dd"/><stop offset="0.271" stop-color="#007add"/><stop offset="0.2814" stop-color="#0090dd"/><stop offset="0.2957" stop-color="#0098dd"/><stop offset="0.3428" stop-color="#00aaa8"/><stop offset="0.3937" stop-color="#00aa88"/><stop offset="0.396" stop-color="#00a773"/><stop offset="0.399" stop-color="#00a773"/><stop offset="0.3997" stop-color="#00a668"/><stop offset="0.4027" stop-color="#00a668"/><stop offset="0.4034" stop-color="#00a55d"/><stop offset="0.4087" stop-color="#00a55d"/><stop offset="0.4094" stop-color="#00a668"/><stop offset="0.4102" stop-color="#00a55d"/><stop offset="0.4132" stop-color="#00a55d"/><stop offset="0.4139" stop-color="#00a353"/><stop offset="0.4169" stop-color="#00a353"/><stop offset="0.4192" stop-color="#00a13d"/><stop offset="0.4199" stop-color="#009a08"/><stop offset="0.4229" stop-color="#00ca00"/><stop offset="0.4259" stop-color="#009c00"/><stop offset="0.4266" stop-color="#009d1d"/><stop offset="0.4281" stop-color="#009b13"/><stop offset="0.4364" stop-color="#009b13"/><stop offset="0.4371" stop-color="#009a08"/><stop offset="0.4416" stop-color="#009a08"/><stop offset="0.4424" stop-color="#009a00"/><stop offset="0.4993" stop-color="#00a400"/><stop offset="0.5487" stop-color="#00a200"/><stop offset="0.5509" stop-color="#009a00"/><stop offset="0.5576" stop-color="#00a55d"/><stop offset="0.5584" stop-color="#00a55d"/><stop offset="0.5614" stop-color="#00a97d"/><stop offset="0.5636" stop-color="#00a97d"/><stop offset="0.5644" stop-color="#00aa88"/><stop offset="0.6138" stop-color="#00aaab"/><stop offset="0.619" stop-color="#00a4bb"/><stop offset="0.6437" stop-color="#0098dd"/><stop offset="0.6692" stop-color="#0078dd"/><stop offset="0.6789" stop-color="#002fdd"/><stop offset="0.6811" stop-color="#002fdd"/><stop offset="0.6864" stop-color="#0013dd"/><stop offset="0.6909" stop-color="#0009dd"/><stop offset="0.6916" stop-color="#0000dd"/><stop offset="0.732" stop-color="#0000c9"/><stop offset="0.7395" stop-color="#0000c9"/><stop offset="0.741" stop-color="#0000d1"/><stop offset="0.7418" stop-color="#0067dd"/><stop offset="0.7425" stop-color="#0098dd"/><stop offset="0.7433" stop-color="#00aaa8"/><stop offset="0.744" stop-color="#00a773"/><stop offset="0.7448" stop-color="#009f00"/><stop offset="0.747" stop-color="#009f00"/><stop offset="0.7478" stop-color="#00a13d"/><stop offset="0.7485" stop-color="#00aa8b"/><stop offset="0.7493" stop-color="#00aaa0"/><stop offset="0.7507" stop-color="#0098dd"/><stop offset="0.756" stop-color="#0098dd"/><stop offset="0.7597" stop-color="#00aaa3"/><stop offset="0.7814" stop-color="#00aaa3"/><stop offset="0.7829" stop-color="#00aa88"/><stop offset="0.7844" stop-color="#009d1d"/><stop offset="0.7852" stop-color="#009f00"/><stop offset="0.7874" stop-color="#009f00"/><stop offset="0.7882" stop-color="#009e28"/><stop offset="0.7889" stop-color="#00a773"/><stop offset="0.7897" stop-color="#00aa95"/><stop offset="0.7912" stop-color="#00a3bf"/><stop offset="0.7964" stop-color="#00a3bf"/><stop offset="0.7987" stop-color="#00aa88"/><stop offset="0.7994" stop-color="#00a13d"/><stop offset="0.8001" stop-color="#009a00"/><stop offset="0.8024" stop-color="#009a00"/><stop offset="0.8031" stop-color="#00a353"/><stop offset="0.8039" stop-color="#00aa90"/><stop offset="0.8046" stop-color="#00aaa3"/><stop offset="0.8061" stop-color="#0098dd"/><stop offset="0.8241" stop-color="#0098dd"/><stop offset="0.8263" stop-color="#0078dd"/><stop offset="0.8271" stop-color="#002fdd"/><stop offset="0.8278" stop-color="#0000c9"/><stop offset="0.8286" stop-color="#0d00a8"/><stop offset="0.8293" stop-color="#4d00a0"/><stop offset="0.8301" stop-color="#78009b"/><stop offset="0.8308" stop-color="#870098"/><stop offset="0.8952" stop-color="#830094"/><stop offset="0.9139" stop-color="#770088"/><stop offset="0.9162" stop-color="#670075"/><stop offset="0.9244" stop-color="#4b0055"/><stop offset="0.9251" stop-color="#41004b"/><stop offset="0.9266" stop-color="#41004b"/><stop offset="0.9296" stop-color="#2f0035"/><stop offset="0.9326" stop-color="#2f0035"/><stop offset="0.9334" stop-color="#25002b"/><stop offset="0.9356" stop-color="#25002b"/><stop offset="0.9364" stop-color="#1c0020"/><stop offset="0.9401" stop-color="#1c0020"/><stop offset="0.9409" stop-color="#130015"/><stop offset="0.9476" stop-color="#130015"/><stop offset="0.9484" stop-color="#09000b"/><stop offset="0.9648" stop-color="#09000b"/><stop offset="0.9656" stop-color="#000000"/><stop offset="1" stop-color="#000000"/></linearGradient>
<linearGradient id="g1_16" x1="0" x2="1" y1="0" y2="0"><stop offset="0" stop-color="#850096"/><stop offset="0.005988" stop-color="#850096"/><stop offset="0.008234" stop-color="#7b008c"/><stop offset="0.008982" stop-color="#700080"/><stop offset="0.01048" stop-color="#380040"/><stop offset="0.01123" stop-color="#2f0035"/><stop offset="0.01647" stop-color="#2f0035"/><stop offset="0.01722" stop-color="#25002b"/><stop offset="0.03069" stop-color="#25002b"/><stop offset="0.03144" stop-color="#1c0020"/><stop offset="0.1781" stop-color="#1c0020"/><stop offset="0.1789" stop-color="#25002b"/><stop offset="0.1826" stop-color="#25002b"/><stop offset="0.1834" stop-color="#2f0035"/><stop offset="0.1864" stop-color="#2f0035"/><stop offset="0.1871" stop-color="#380040"/><stop offset="0.1886" stop-color="#380040"/><stop offset="0.1976" stop-color="#770088"/><stop offset="0.2073" stop-color="#830094"/><stop offset="0.2268" stop-color="#870098"/><stop offset="0.2283" stop-color="#6d009c"/><stop offset="0.232" stop-color="#0d00a8"/><stop offset="0.2335" stop-color="#0000b1"/><stop offset="0.2388" stop-color="#0000c9"/><stop offset="0.253" stop-color="#0000dd"/><stop offset="0.2537" stop-color="#0009dd"/><stop offset="0.2612" stop-color="#001cdd"/><stop offset="0.2627" stop-color="#002fdd"/><stop offset="0.2635" stop-color="#002fdd"/><stop offset="0.2687" stop-color="#0070dd"/><stop offset="0.271" stop-color="#007add"/><stop offset="0.2814" stop-color="#0090dd"/><stop offset="0.2957" stop-color="#0098dd"/><stop offset="0.3398" stop-color="#00aaab"/><stop offset="0.3975" stop-color="#00a97d"/><stop offset="0.3982" stop-color="#00a773"/><stop offset="0.4012" stop-color="#00a773"/><stop offset="0.4019" stop-color="#00a668"/><stop offset="0.4117" stop-color="#00a55d"/><stop offset="0.4124" stop-color="#00a353"/><stop offset="0.4184" stop-color="#00a248"/><stop offset="0.4192" stop-color="#00a13d"/><stop offset="0.4199" stop-color="#009a00"/><stop offset="0.4229" stop-color="#00dc00"/><stop offset="0.4259" stop-color="#00a200"/><stop offset="0.4266" stop-color="#009d1d"/><stop offset="0.4281" stop-color="#009b13"/><stop offset="0.4311" stop-color="#009b13"/><stop offset="0.4319" stop-color="#009a08"/><stop offset="0.4356" stop-color="#009a08"/><stop offset="0.4364" stop-color="#009a00"/><stop offset="0.5067" stop-color="#00a700"/><stop offset="0.5509" stop-color="#00a200"/><stop offset="0.5546" stop-color="#009a00"/><stop offset="0.5576" stop-color="#009e28"/><stop offset="0.5599" stop-color="#009f33"/><stop offset="0.5614" stop-color="#00a248"/><stop offset="0.5636" stop-color="#00a353"/><stop offset="0.5651" stop-color="#00a668"/><stop offset="0.5666" stop-color="#00a668"/><stop offset="0.5674" stop-color="#00a773"/><stop offset="0.5704" stop-color="#00a773"/><stop offset="0.5711" stop-color="#00a97d"/><stop offset="0.5741" stop-color="#00a97d"/><stop offset="0.5749" stop-color="#00aa88"/><stop offset="0.613" stop-color="#00aaa3"/><stop offset="0.6512" stop-color="#0098dd"/><stop offset="0.6766" stop-color="#0078dd"/><stop offset="0.6864" stop-color="#002fdd"/><stop offset="0.6924" stop-color="#001cdd"/><stop offset="0.6969" stop-color="#0000dd"/><stop offset="0.7328" stop-color="#0000c9"/><stop offset="0.7395" stop-color="#0000c9"/><stop offset="0.741" stop-color="#0000d1"/><stop offset="0.7418" stop-color="#0067dd"/><stop offset="0.7425" stop-color="#0098dd"/><stop offset="0.7433" stop-color="#00aaa8"/><stop offset="0.744" stop-color="#00a773"/><stop offset="0.7448" stop-color="#009f00"/><stop offset="0.747" stop-color="#009f00"/><stop offset="0.7478" stop-color="#00a13d"/><stop offset="0.7485" stop-color="#00aa8b"/><stop offset="0.7493" stop-color="#00aaa0"/><stop offset="0.7507" stop-color="#0098dd"/><stop offset="0.756" stop-color="#0098dd"/><stop offset="0.7597" stop-color="#00aaa3"/><stop offset="0.7814" stop-color="#00aaa3"/><stop offset="0.7829" stop-color="#00aa88"/><stop offset="0.7844" stop-color="#009d1d"/><stop offset="0.7852" stop-color="#009f00"/><stop offset="0.7874" stop-color="#009f00"/><stop offset="0.7882" stop-color="#009e28"/><stop offset="0.7889" stop-color="#00a773"/><stop offset="0.7897" stop-color="#00aa95"/><stop offset="0.7912" stop-color="#00a3bf"/><stop offset="0.7964" stop-color="#00a3bf"/><stop offset="0.7987" stop-color="#00aa88"/><stop offset="0.7994" stop-color="#00a13d"/><stop offset="0.8001" stop-color="#009a00"/><stop offset="0.8024" stop-color="#009a00"/><stop offset="0.8031" stop-color="#00a353"/><stop offset="0.8039" stop-color="#00aa90"/><stop offset="0.8046" stop-color="#00aaa3"/><stop offset="0.8061" stop-color="#0098dd"/><stop offset="0.8241" stop-color="#0098dd"/><stop offset="0.8263" stop-color="#0078dd"/><stop offset="0.8271" stop-color="#002fdd"/><stop offset="0.8278" stop-color="#0000c9"/><stop offset="0.8286" stop-color="#0d00a8"/><stop offset="0.8293" stop-color="#4d00a0"/><stop offset="0.8301" stop-color="#78009b"/><stop offset="0.8308" stop-color="#870098"/><stop offset="0.8952" stop-color="#830094"/><stop offset="0.9139" stop-color="#770088"/><stop offset="0.9162" stop-color="#670075"/><stop offset="0.9244" stop-color="#4b0055"/><stop offset="0.9251" stop-color="#41004b"/><stop offset="0.9266" stop-color="#41004b"/><stop offset="0.9296" stop-color="#2f0035"/><stop offset="0.9326" stop-color="#2f0035"/><stop offset="0.9334" stop-color="#25002b"/><stop offset="0.9356" stop-color="#25002b"/><stop offset="0.9364" stop-color="#1c0020"/><stop offset="0.9401" stop-color="#1c0020"/><stop offset="0.9409" stop-color="#130015"/><stop offset="0.9476" stop-color="#130015"/><stop offset="0.9484" stop-color="#09000b"/><stop offset="0.9648" stop-color="#09000b"/><stop offset="0.9656" stop-color="#000000"/><stop offset="1" stop-color="#000000"/></linearGradient>
<linearGradient id="g1_17" x1="0" x2="1" y1="0" y2="0"><stop offset="0" stop-color="#850096"/><stop offset="0.005988" stop-color="#850096"/><stop offset="0.008234" stop-color="#7b008c"/><stop offset="0.008982" stop-color="#700080"/><stop offset="0.01048" stop-color="#380040"/><stop offset="0.01123" stop-color="#2f0035"/><stop offset="0.01647" stop-color="#2f0035"/><stop offset="0.01722" stop-color="#25002b"/><stop offset="0.03069" stop-color="#25002b"/><stop offset="0.03144" stop-color="#1c0020"/><stop offset="0.1781" stop-color="#1c0020"/><stop offset="0.1789" stop-color="#25002b"/><stop offset="0.1826" stop-color="#25002b"/><stop offset="0.1834" stop-color="#2f0035"/><stop offset="0.1864" stop-color="#2f0035"/><stop offset="0.1871" stop-color="#380040"/><stop offset="0.1886" stop-color="#380040"/><stop offset="0.1976" stop-color="#770088"/><stop offset="0.2073" stop-color="#830094"/><stop offset="0.2268" stop-color="#870098"/><stop offset="0.2283" stop-color="#6d009c"/><stop offset="0.232" stop-color="#0d00a8"/><stop offset="0.2335" stop-color="#0000b1"/><stop offset="0.2388" stop-color="#0000c9"/><stop offset="0.253" stop-color="#0000dd"/><stop offset="0.2537" stop-color="#0009dd"/><stop offset="0.2612" stop-color="#001cdd"/><stop offset="0.2627" stop-color="#002fdd"/><stop offset="0.2635" stop-color="#002fdd"/><stop offset="0.2687" stop-color="#0070dd"/><stop offset="0.271" stop-color="#007add"/><stop offset="0.2814" stop-color="#0090dd"/><stop offset="0.2957" stop-color="#0098dd"/><stop offset="0.3428" stop-color="#00aaa8"/><stop offset="0.3967" stop-color="#00aa88"/><stop offset="0.3975" stop-color="#00a97d"/><stop offset="0.4004" stop-color="#00a97d"/><stop offset="0.4012" stop-color="#00a773"/><stop offset="0.4072" stop-color="#00a668"/><stop offset="0.4079" stop-color="#00a55d"/><stop offset="0.4109" stop-color="#00a55d"/><stop offset="0.4117" stop-color="#00a353"/><stop offset="0.4177" stop-color="#00a248"/><stop offset="0.4184" stop-color="#00a13d"/><stop offset="0.4192" stop-color="#009f00"/><stop offset="0.4222" stop-color="#00f200"/><stop offset="0.4237" stop-color="#00f200"/><stop offset="0.4266" stop-color="#00a400"/><stop offset="0.4274" stop-color="#009d1d"/><stop offset="0.4371" stop-color="#009a00"/><stop offset="0.494" stop-color="#00a400"/><stop offset="0.5367" stop-color="#00a400"/><stop offset="0.5554" stop-color="#009a00"/><stop offset="0.5614" stop-color="#009e28"/><stop offset="0.5629" stop-color="#00a13d"/><stop offset="0.5651" stop-color="#00a248"/><stop offset="0.5689" stop-color="#00a773"/><stop offset="0.5704" stop-color="#00a97d"/><stop offset="0.5734" stop-color="#00a97d"/><stop offset="0.5741" stop-color="#00aa88"/><stop offset="0.5951" stop-color="#00aa90"/><stop offset="0.6235" stop-color="#00aaab"/><stop offset="0.6549" stop-color="#0098dd"/><stop offset="0.6804" stop-color="#0078dd"/><stop offset="0.6901" stop-color="#002fdd"/><stop offset="0.6916" stop-color="#002fdd"/><stop offset="0.6999" stop-color="#0000dd"/><stop offset="0.7328" stop-color="#0000c9"/><stop offset="0.7395" stop-color="#0000c9"/><stop offset="0.741" stop-color="#0000d1"/><stop offset="0.7418" stop-color="#0067dd"/><stop offset="0.7425" stop-color="#0098dd"/><stop offset="0.7433" stop-color="#00aaa8"/><stop offset="0.744" stop-color="#00a773"/><stop offset="0.7448" stop-color="#009f00"/><stop offset="0.747" stop-color="#009f00"/><stop offset="0.7478" stop-color="#00a13d"/><stop offset="0.7485" stop-color="#00aa8b"/><stop offset="0.7493" stop-color="#00aaa0"/><stop offset="0.7507" stop-color="#0098dd"/><stop offset="0.756" stop-color="#0098dd"/><stop offset="0.7597" stop-color="#00aaa3"/><stop offset="0.7814" stop-color="#00aaa3"/><stop offset="0.7829" stop-color="#00aa88"/><stop offset="0.7844" stop-color="#009d1d"/><stop offset="0.7852" stop-color="#009f00"/><stop offset="0.7874" stop-color="#009f00"/><stop offset="0.7882" stop-color="#009e28"/><stop offset="0.7889" stop-color="#00a773"/><stop offset="0.7897" stop-color="#00aa95"/><stop offset="0.7912" stop-color="#00a3bf"/><stop offset="0.7964" stop-color="#00a3bf"/><stop offset="0.7987" stop-color="#00aa88"/><stop offset="0.7994" stop-color="#00a13d"/><stop offset="0.8001" stop-color="#009a00"/><stop offset="0.8024" stop-color="#009a00"/><stop offset="0.8031" stop-color="#00a353"/><stop offset="0.8039" stop-color="#00aa90"/><stop offset="0.8046" stop-color="#00aaa3"/><stop offset="0.8061" stop-color="#0098dd"/><stop offset="0.8241" stop-color="#0098dd"/><stop offset="0.8263" stop-color="#0078dd"/><stop offset="0.8271" stop-color="#002fdd"/><stop offset="0.8278" stop-color="#0000c9"/><stop offset="0.8286" stop-color="#0d00a8"/><stop offset="0.8293" stop-color="#4d00a0"/><stop offset="0.8301" stop-color="#78009b"/><stop offset="0.8308" stop-color="#870098"/><stop offset="0.8952" stop-color="#830094"/><stop offset="0.9139" stop-color="#770088"/><stop offset="0.9162" stop-color="#670075"/><stop offset="0.9244" stop-color="#4b0055"/><stop offset="0.9251" stop-color="#41004b"/><stop offset="0.9266" stop-color="#41004b"/><stop offset="0.9296" stop-color="#2f0035"/><stop offset="0.9326" stop-color="#2f0035"/><stop offset="0.9334" stop-color="#25002b"/><stop offset="0.9356" stop-color="#25002b"/><stop offset="0.9364" stop-color="#1c0020"/><stop offset="0.9401" stop-color="#1c0020"/><stop offset="0.9409" stop-color="#130015"/><stop offset="0.9476" stop-color="#130015"/><stop offset="0.9484" stop-color="#09000b"/><stop offset="0.9648" stop-color="#09000b"/><stop offset="0.9656" stop-color="#000000"/><stop offset="1" stop-color="#000000"/></linearGradient>
<linearGradient id="g1_18" x1="0" x2="1" y1="0" y2="0"><stop offset="0" stop-color="#850096"/><stop offset="0.005988" stop-color="#850096"/><stop offset="0.008234" stop-color="#7b008c"/><stop offset="0.008982" stop-color="#700080"/><stop offset="0.01048" stop-color="#380040"/><stop offset="0.01123" stop-color="#2f0035"/><stop offset="0.01647" stop-color="#2f0035"/><stop offset="0.01722" stop-color="#25002b"/><stop offset="0.03069" stop-color="#25002b"/><stop offset="0.03144" stop-color="#1c0020"/><stop offset="0.1781" stop-color="#1c0020"/><stop offset="0.1789" stop-color="#25002b"/><stop offset="0.1826" stop-color="#25002b"/><stop offset="0.1834" stop-color="#2f0035"/><stop offset="0.1864" stop-color="#2f0035"/><stop offset="0.1871" stop-color="#380040"/><stop offset="0.1886" stop-color="#380040"/><stop offset="0.1976" stop-color="#770088"/><stop offset="0.2073" stop-color="#830094"/><stop offset="0.2268" stop-color="#870098"/><stop offset="0.2283" stop-color="#6d009c"/><stop offset="0.232" stop-color="#0d00a8"/><stop offset="0.2335" stop-color="#0000b1"/><stop offset="0.2388" stop-color="#0000c9"/><stop offset="0.2507" stop-color="#0000dd"/><stop offset="0.2515" stop-color="#0009dd"/><stop offset="0.2575" stop-color="#001cdd"/><stop offset="0.259" stop-color="#002fdd"/><stop offset="0.2597" stop-color="#002fdd"/><stop offset="0.265" stop-color="#0070dd"/><stop offset="0.2665" stop-color="#0078dd"/><stop offset="0.2777" stop-color="#0090dd"/><stop offset="0.2919" stop-color="#0098dd"/><stop offset="0.3391" stop-color="#00aaa8"/><stop offset="0.3713" stop-color="#00aa93"/><stop offset="0.372" stop-color="#009f33"/><stop offset="0.3728" stop-color="#00ac00"/><stop offset="0.3743" stop-color="#00ec00"/><stop offset="0.375" stop-color="#49ff00"/><stop offset="0.3757" stop-color="#49ff00"/><stop offset="0.3765" stop-color="#00ec00"/><stop offset="0.378" stop-color="#00af00"/><stop offset="0.3787" stop-color="#009e28"/><stop offset="0.3795" stop-color="#00aa8d"/><stop offset="0.3922" stop-color="#00aa88"/><stop offset="0.393" stop-color="#00a97d"/><stop offset="0.3952" stop-color="#00a97d"/><stop offset="0.396" stop-color="#00a773"/><stop offset="0.3982" stop-color="#00a773"/><stop offset="0.399" stop-color="#00a668"/><stop offset="0.4027" stop-color="#00a668"/><stop offset="0.4034" stop-color="#00a55d"/><stop offset="0.4057" stop-color="#00a55d"/><stop offset="0.4064" stop-color="#00a353"/><stop offset="0.4087" stop-color="#00a353"/><stop offset="0.4094" stop-color="#00a248"/><stop offset="0.4132" stop-color="#00a248"/><stop offset="0.4139" stop-color="#00a13d"/><stop offset="0.4184" stop-color="#009f33"/><stop offset="0.4192" stop-color="#00aa00"/><stop offset="0.4214" stop-color="#00ff00"/><stop offset="0.4222" stop-color="#93ff00"/><stop offset="0.4237" stop-color="#93ff00"/><stop offset="0.4244" stop-color="#00ff00"/><stop offset="0.4266" stop-color="#00af00"/><stop offset="0.4274" stop-color="#009b13"/><stop offset="0.4296" stop-color="#009b13"/><stop offset="0.4304" stop-color="#009a08"/><stop offset="0.4334" stop-color="#009a00"/><stop offset="0.4948" stop-color="#00a700"/><stop offset="0.5539" stop-color="#00a200"/><stop offset="0.5576" stop-color="#009a00"/><stop offset="0.5734" stop-color="#00a773"/><stop offset="0.5808" stop-color="#00a97d"/><stop offset="0.5816" stop-color="#00aa88"/><stop offset="0.6033" stop-color="#00aa93"/><stop offset="0.6265" stop-color="#00aaab"/><stop offset="0.6587" stop-color="#0098dd"/><stop offset="0.6841" stop-color="#0078dd"/><stop offset="0.6894" stop-color="#004bdd"/><stop offset="0.7028" stop-color="#0000dd"/><stop offset="0.7335" stop-color="#0000c9"/><stop offset="0.7395" stop-color="#0000c9"/><stop offset="0.741" stop-color="#0000d1"/><stop offset="0.7418" stop-color="#0067dd"/><stop offset="0.7425" stop-color="#0098dd"/><stop offset="0.7433" stop-color="#00aaa8"/><stop offset="0.744" stop-color="#00a773"/><stop offset="0.7448" stop-color="#009f00"/><stop offset="0.747" stop-color="#009f00"/><stop offset="0.7478" stop-color="#00a13d"/><stop offset="0.7485" stop-color="#00aa8b"/><stop offset="0.7493" stop-color="#00aaa0"/><stop offset="0.7507" stop-color="#0098dd"/><stop offset="0.756" stop-color="#0098dd"/><stop offset="0.7597" stop-color="#00aaa3"/><stop offset="0.7814" stop-color="#00aaa3"/><stop offset="0.7829" stop-color="#00aa88"/><stop offset="0.7844" stop-color="#009d1d"/><stop offset="0.7852" stop-color="#009f00"/><stop offset="0.7874" stop-color="#009f00"/><stop offset="0.7882" stop-color="#009e28"/><stop offset="0.7889" stop-color="#00a773"/><stop offset="0.7897" stop-color="#00aa95"/><stop offset="0.7912" stop-color="#00a3bf"/><stop offset="0.7964" stop-color="#00a3bf"/><stop offset="0.7987" stop-color="#00aa88"/><stop offset="0.7994" stop-color="#00a13d"/><stop offset="0.8001" stop-color="#009a00"/><stop offset="0.8024" stop-color="#009a00"/><stop offset="0.8031" stop-color="#00a353"/><stop offset="0.8039" stop-color="#00aa90"/><stop offset="0.8046" stop-color="#00aaa3"/><stop offset="0.8061" stop-color="#0098dd"/><stop offset="0.8241" stop-color="#0098dd"/><stop offset="0.8263" stop-color="#0078dd"/><stop offset="0.8271" stop-color="#002fdd"/><stop offset="0.8278" stop-color="#0000c9"/><stop offset="0.8286" stop-color="#0d00a8"/><stop offset="0.8293" stop-color="#4d00a0"/><stop offset="0.8301" stop-color="#78009b"/><stop offset="0.8308" stop-color="#870098"/><stop offset="0.8952" stop-color="#830094"/><stop offset="0.9139" stop-color="#770088"/><stop offset="0.9162" stop-color="#670075"/><stop offset="0.9244" stop-color="#4b0055"/><stop offset="0.9251" stop-color="#41004b"/><stop offset="0.9266" stop-color="#41004b"/><stop offset="0.9296" stop-color="#2f0035"/><stop offset="0.9326" stop-color="#2f0035"/><stop offset="0.9334" stop-color="#25002b"/><stop offset="0.9356" stop-color="#25002b"/><stop offset="0.9364" stop-color="#1c0020"/><stop offset="0.9401" stop-color="#1c0020"/><stop offset="0.9409" stop-color="#130015"/><stop offset="0.9476" stop-color="#130015"/><stop offset="0.9484" stop-color="#09000b"/><stop offset="0.9648" stop-color="#09000b"/><stop offset="0.9656" stop-color="#000000"/><stop offset="1" stop-color="#000000"/></linearGradient>
<linearGradient id="g1_19" x1="0" x2="1" y1="0" y2="0"><stop offset="0" stop-color="#2f0035"/><stop offset="0.002994" stop-color="#2f0035"/><stop offset="0.003743" stop-color="#25002b"/><stop offset="0.03219" stop-color="#25002b"/><stop offset="0.03293" stop-color="#1c0020"/><stop offset="0.2358" stop-color="#1c0020"/><stop offset="0.2365" stop-color="#25002b"/><stop offset="0.2448" stop-color="#25002b"/><stop offset="0.2455" stop-color="#2f0035"/><stop offset="0.2949" stop-color="#2f0035"/><stop offset="0.2957" stop-color="#380040"/><stop offset="0.3615" stop-color="#380040"/><stop offset="0.3623" stop-color="#41004b"/><stop offset="0.7403" stop-color="#41004b"/><stop offset="0.741" stop-color="#380040"/><stop offset="0.8069" stop-color="#380040"/><stop offset="0.8076" stop-color="#2f0035"/><stop offset="0.8406" stop-color="#2f0035"/><stop offset="0.8413" stop-color="#25002b"/><stop offset="0.8743" stop-color="#25002b"/><stop offset="0.875" stop-color="#1c0020"/><stop offset="0.9079" stop-color="#1c0020"/><stop offset="0.9087" stop-color="#130015"/><stop offset="0.9394" stop-color="#130015"/><stop offset="0.9401" stop-color="#09000b"/><stop offset="1" stop-color="#000000"/></linearGradient>
<linearGradient id="g1_20" x1="0" x2="1" y1="0" y2="0"><stop offset="0" stop-color="#2f0035"/><stop offset="0.002246" stop-color="#2f0035"/><stop offset="0.002994" stop-color="#25002b"/><stop offset="0.02395" stop-color="#25002b"/><stop offset="0.0247" stop-color="#1c0020"/><stop offset="0.3091" stop-color="#1c0020"/><stop offset="0.3099" stop-color="#25002b"/><stop offset="0.9079" stop-color="#1c0020"/><stop offset="0.9087" stop-color="#130015"/><stop offset="0.9394" stop-color="#130015"/><stop offset="0.9401" stop-color="#09000b"/><stop offset="1" stop-color="#000000"/></linearGradient>
<linearGradient id="g1_21" x1="0" x2="1" y1="0" y2="0"><stop offset="0" stop-color="#850096"/><stop offset="0.005988" stop-color="#850096"/><stop offset="0.008982" stop-color="#770088"/><stop offset="0.01048" stop-color="#4b0055"/><stop offset="0.01123" stop-color="#41004b"/><stop offset="0.01347" stop-color="#41004b"/><stop offset="0.01722" stop-color="#5d006b"/><stop offset="0.01871" stop-color="#540060"/><stop offset="0.02545" stop-color="#540060"/><stop offset="0.02844" stop-color="#41004b"/><stop offset="0.03892" stop-color="#41004b"/><stop offset="0.04341" stop-color="#670075"/><stop offset="0.04641" stop-color="#670075"/><stop offset="0.0494" stop-color="#770088"/><stop offset="0.06138" stop-color="#700080"/><stop offset="0.06213" stop-color="#770088"/><stop offset="0.06512" stop-color="#79008a"/><stop offset="0.1108" stop-color="#770088"/><stop offset="0.1115" stop-color="#700080"/><stop offset="0.1145" stop-color="#700080"/><stop offset="0.122" stop-color="#41004b"/><stop offset="0.1265" stop-color="#41004b"/><stop offset="0.1272" stop-color="#4b0055"/><stop offset="0.1332" stop-color="#4b0055"/><stop offset="0.134" stop-color="#41004b"/><stop offset="0.1504" stop-color="#41004b"/><stop offset="0.1512" stop-color="#4b0055"/><stop offset="0.1557" stop-color="#4b0055"/><stop offset="0.1564" stop-color="#41004b"/><stop offset="0.1617" stop-color="#41004b"/><stop offset="0.1624" stop-color="#4b0055"/><stop offset="0.1677" stop-color="#4b0055"/><stop offset="0.1707" stop-color="#5d006b"/><stop offset="0.1729" stop-color="#770088"/><stop offset="0.1946" stop-color="#860097"/><stop offset="0.1954" stop-color="#83009a"/><stop offset="0.1976" stop-color="#2300a6"/><stop offset="0.1991" stop-color="#0000ad"/><stop offset="0.2036" stop-color="#0000d9"/><stop offset="0.2043" stop-color="#0009dd"/><stop offset="0.2073" stop-color="#0070dd"/><stop offset="0.2081" stop-color="#007ddd"/><stop offset="0.2126" stop-color="#0098dd"/><stop offset="0.2208" stop-color="#00aaab"/><stop offset="0.232" stop-color="#00aa88"/><stop offset="0.235" stop-color="#00a55d"/><stop offset="0.2358" stop-color="#00a248"/><stop offset="0.241" stop-color="#009a00"/><stop offset="0.259" stop-color="#00c700"/><stop offset="0.2897" stop-color="#00e400"/><stop offset="0.3054" stop-color="#00ea00"/><stop offset="0.3159" stop-color="#00fa00"/><stop offset="0.3451" stop-color="#00ff00"/><stop offset="0.3458" stop-color="#00ff00"/><stop offset="0.3481" stop-color="#1dff00"/><stop offset="0.3645" stop-color="#1dff00"/><stop offset="0.3653" stop-color="#0fff00"/><stop offset="0.3743" stop-color="#0fff00"/><stop offset="0.375" stop-color="#1dff00"/><stop offset="0.384" stop-color="#1dff00"/><stop offset="0.3847" stop-color="#2cff00"/><stop offset="0.3892" stop-color="#2cff00"/><stop offset="0.39" stop-color="#67ff00"/><stop offset="0.3907" stop-color="#b0ff00"/><stop offset="0.3915" stop-color="#ccf900"/><stop offset="0.393" stop-color="#efed00"/><stop offset="0.3945" stop-color="#c8fb00"/><stop offset="0.3952" stop-color="#a1ff00"/><stop offset="0.396" stop-color="#67ff00"/><stop offset="0.3967" stop-color="#1dff00"/><stop offset="0.4012" stop-color="#1dff00"/><stop offset="0.4019" stop-color="#2cff00"/><stop offset="0.4072" stop-color="#2cff00"/><stop offset="0.4079" stop-color="#3bff00"/><stop offset="0.4109" stop-color="#3bff00"/><stop offset="0.4117" stop-color="#49ff00"/><stop offset="0.4147" stop-color="#49ff00"/><stop offset="0.4154" stop-color="#58ff00"/><stop offset="0.4192" stop-color="#58ff00"/><stop offset="0.4199" stop-color="#93ff00"/><stop offset="0.4207" stop-color="#c0fd00"/><stop offset="0.4229" stop-color="#efed00"/><stop offset="0.4244" stop-color="#ccf900"/><stop offset="0.4251" stop-color="#b0ff00"/><stop offset="0.4259" stop-color="#75ff00"/><stop offset="0.4266" stop-color="#2cff00"/><stop offset="0.4289" stop-color="#2cff00"/><stop offset="0.4311" stop-color="#49ff00"/><stop offset="0.4386" stop-color="#49ff00"/><stop offset="0.4424" stop-color="#1dff00"/><stop offset="0.4469" stop-color="#1dff00"/><stop offset="0.4476" stop-color="#2cff00"/><stop offset="0.4484" stop-color="#2cff00"/><stop offset="0.4499" stop-color="#49ff00"/><stop offset="0.4581" stop-color="#49ff00"/><stop offset="0.4588" stop-color="#3bff00"/><stop offset="0.4686" stop-color="#3bff00"/><stop offset="0.4693" stop-color="#49ff00"/><stop offset="0.4753" stop-color="#49ff00"/><stop offset="0.476" stop-color="#3bff00"/><stop offset="0.4775" stop-color="#3bff00"/><stop offset="0.4783" stop-color="#2cff00"/><stop offset="0.4858" stop-color="#2cff00"/><stop offset="0.4865" stop-color="#1dff00"/><stop offset="0.494" stop-color="#1dff00"/><stop offset="0.4948" stop-color="#2cff00"/><stop offset="0.4955" stop-color="#2cff00"/><stop offset="0.497" stop-color="#49ff00"/><stop offset="0.4985" stop-color="#49ff00"/><stop offset="0.4993" stop-color="#58ff00"/><stop offset="0.5037" stop-color="#58ff00"/><stop offset="0.5045" stop-color="#49ff00"/><stop offset="0.506" stop-color="#49ff00"/><stop offset="0.5067" stop-color="#3bff00"/><stop offset="0.5082" stop-color="#3bff00"/><stop offset="0.509" stop-color="#49ff00"/><stop offset="0.5135" stop-color="#49ff00"/><stop offset="0.5157" stop-color="#67ff00"/><stop offset="0.518" stop-color="#67ff00"/><stop offset="0.5187" stop-color="#58ff00"/><stop offset="0.5195" stop-color="#58ff00"/><stop offset="0.5202" stop-color="#49ff00"/><stop offset="0.5217" stop-color="#49ff00"/><stop offset="0.5225" stop-color="#3bff00"/><stop offset="0.5232" stop-color="#3bff00"/><stop offset="0.5247" stop-color="#1dff00"/><stop offset="0.5254" stop-color="#1dff00"/><stop offset="0.5262" stop-color="#0fff00"/><stop offset="0.5277" stop-color="#0fff00"/><stop offset="0.5284" stop-color="#00ff00"/><stop offset="0.613" stop-color="#00d200"/><stop offset="0.646" stop-color="#009a00"/><stop offset="0.6512" stop-color="#009e28"/><stop offset="0.6527" stop-color="#009e28"/><stop offset="0.6579" stop-color="#00a353"/><stop offset="0.6639" stop-color="#00a668"/><stop offset="0.6647" stop-color="#00a773"/><stop offset="0.6662" stop-color="#00a773"/><stop offset="0.6692" stop-color="#00aa88"/><stop offset="0.6976" stop-color="#00aaab"/><stop offset="0.7066" stop-color="#00a3bf"/><stop offset="0.732" stop-color="#0098dd"/><stop offset="0.741" stop-color="#0098dd"/><stop offset="0.7425" stop-color="#00aa9d"/><stop offset="0.7433" stop-color="#00aa88"/><stop offset="0.744" stop-color="#009e28"/><stop offset="0.7448" stop-color="#00a700"/><stop offset="0.747" stop-color="#00a700"/><stop offset="0.7478" stop-color="#009e28"/><stop offset="0.7485" stop-color="#00aa88"/><stop offset="0.7493" stop-color="#00aa9d"/><stop offset="0.7507" stop-color="#0098dd"/><stop offset="0.756" stop-color="#0098dd"/><stop offset="0.7597" stop-color="#00aaa3"/><stop offset="0.7814" stop-color="#00aaa3"/><stop offset="0.7829" stop-color="#00a97d"/><stop offset="0.7844" stop-color="#009a08"/><stop offset="0.7852" stop-color="#00a700"/><stop offset="0.7874" stop-color="#00a700"/><stop offset="0.7882" stop-color="#009b13"/><stop offset="0.7897" stop-color="#00aa8d"/><stop offset="0.7912" stop-color="#00a7b3"/><stop offset="0.7964" stop-color="#00a7b3"/><stop offset="0.7979" stop-color="#00aa90"/><stop offset="0.7987" stop-color="#00a668"/><stop offset="0.7994" stop-color="#009e28"/><stop offset="0.8001" stop-color="#009f00"/><stop offset="0.8024" stop-color="#009f00"/><stop offset="0.8031" stop-color="#00a13d"/><stop offset="0.8039" stop-color="#00aa8b"/><stop offset="0.8046" stop-color="#00aaa0"/><stop offset="0.8061" stop-color="#0098dd"/><stop offset="0.8234" stop-color="#0098dd"/><stop offset="0.8249" stop-color="#007ddd"/><stop offset="0.8256" stop-color="#005ddd"/><stop offset="0.8271" stop-color="#0000dd"/><stop offset="0.875" stop-color="#0000c9"/><stop offset="0.887" stop-color="#0300aa"/><stop offset="0.8952" stop-color="#78009b"/><stop offset="0.8982" stop-color="#870098"/><stop offset="0.9259" stop-color="#770088"/><stop offset="0.9349" stop-color="#380040"/><stop offset="0.9431" stop-color="#25002b"/><stop offset="0.9439" stop-color="#1c0020"/><stop offset="0.9476" stop-color="#1c0020"/><stop offset="0.9484" stop-color="#130015"/><stop offset="0.9551" stop-color="#130015"/><stop offset="0.9558" stop-color="#09000b"/><stop offset="0.9708" stop-color="#09000b"/><stop offset="0.9716" stop-color="#000000"/><stop offset="1" stop-color="#000000"/></linearGradient>
</defs>
<rect width="640" height="440" fill="#fff"/>

<text transform="translate(181.8,16.6) scale(0.965,1)" font-size="17.2" text-anchor="middle">28.5 (HexS33=1069) X</text>
<text transform="translate(461.8,16.6) scale(0.965,1)" font-size="17.2" text-anchor="middle">28.5 (HexS33=1069) Y</text>
<text transform="translate(2.9,217.8) rotate(-90)" font-size="13.5" text-anchor="middle">Dipole</text>
<g shape-rendering="crispEdges">
<rect x="48.00" y="27.90" width="267.20" height="17.23" fill="url(#g0_0)"/>
<rect x="48.00" y="44.63" width="267.20" height="17.23" fill="url(#g0_1)"/>
<rect x="48.00" y="61.36" width="267.20" height="17.23" fill="url(#g0_2)"/>
<rect x="48.00" y="78.10" width="267.20" height="17.23" fill="url(#g0_3)"/>
<rect x="48.00" y="94.83" width="267.20" height="17.23" fill="url(#g0_4)"/>
<rect x="48.00" y="111.56" width="267.20" height="17.23" fill="url(#g0_5)"/>
<rect x="48.00" y="128.29" width="267.20" height="17.23" fill="url(#g0_6)"/>
<rect x="48.00" y="145.02" width="267.20" height="17.23" fill="url(#g0_7)"/>
<rect x="48.00" y="161.75" width="267.20" height="17.23" fill="url(#g0_8)"/>
<rect x="48.00" y="178.49" width="267.20" height="17.23" fill="url(#g0_9)"/>
<rect x="48.00" y="195.22" width="267.20" height="17.23" fill="url(#g0_10)"/>
<rect x="48.00" y="211.95" width="267.20" height="17.23" fill="url(#g0_11)"/>
<rect x="48.00" y="228.68" width="267.20" height="17.23" fill="url(#g0_12)"/>
<rect x="48.00" y="245.41" width="267.20" height="17.23" fill="url(#g0_13)"/>
<rect x="48.00" y="262.15" width="267.20" height="17.23" fill="url(#g0_14)"/>
<rect x="48.00" y="278.88" width="267.20" height="17.23" fill="url(#g0_15)"/>
<rect x="48.00" y="295.61" width="267.20" height="17.23" fill="url(#g0_16)"/>
<rect x="48.00" y="312.34" width="267.20" height="17.23" fill="url(#g0_17)"/>
<rect x="48.00" y="329.07" width="267.20" height="17.23" fill="url(#g0_18)"/>
<rect x="48.00" y="345.80" width="267.20" height="17.23" fill="url(#g0_19)"/>
<rect x="48.00" y="362.54" width="267.20" height="17.23" fill="url(#g0_20)"/>
<rect x="48.00" y="379.27" width="267.20" height="16.73" fill="url(#g0_21)"/>
<rect x="47.80" y="27.90" width="1.3" height="368.10" fill="#10e010"/>
<rect x="328.00" y="27.90" width="267.20" height="17.23" fill="url(#g1_0)"/>
<rect x="328.00" y="44.63" width="267.20" height="17.23" fill="url(#g1_1)"/>
<rect x="328.00" y="61.36" width="267.20" height="17.23" fill="url(#g1_2)"/>
<rect x="328.00" y="78.10" width="267.20" height="17.23" fill="url(#g1_3)"/>
<rect x="328.00" y="94.83" width="267.20" height="17.23" fill="url(#g1_4)"/>
<rect x="328.00" y="111.56" width="267.20" height="17.23" fill="url(#g1_5)"/>
<rect x="328.00" y="128.29" width="267.20" height="17.23" fill="url(#g1_6)"/>
<rect x="328.00" y="145.02" width="267.20" height="17.23" fill="url(#g1_7)"/>
<rect x="328.00" y="161.75" width="267.20" height="17.23" fill="url(#g1_8)"/>
<rect x="328.00" y="178.49" width="267.20" height="17.23" fill="url(#g1_9)"/>
<rect x="328.00" y="195.22" width="267.20" height="17.23" fill="url(#g1_10)"/>
<rect x="328.00" y="211.95" width="267.20" height="17.23" fill="url(#g1_11)"/>
<rect x="328.00" y="228.68" width="267.20" height="17.23" fill="url(#g1_12)"/>
<rect x="328.00" y="245.41" width="267.20" height="17.23" fill="url(#g1_13)"/>
<rect x="328.00" y="262.15" width="267.20" height="17.23" fill="url(#g1_14)"/>
<rect x="328.00" y="278.88" width="267.20" height="17.23" fill="url(#g1_15)"/>
<rect x="328.00" y="295.61" width="267.20" height="17.23" fill="url(#g1_16)"/>
<rect x="328.00" y="312.34" width="267.20" height="17.23" fill="url(#g1_17)"/>
<rect x="328.00" y="329.07" width="267.20" height="17.23" fill="url(#g1_18)"/>
<rect x="328.00" y="345.80" width="267.20" height="17.23" fill="url(#g1_19)"/>
<rect x="328.00" y="362.54" width="267.20" height="17.23" fill="url(#g1_20)"/>
<rect x="328.00" y="379.27" width="267.20" height="16.73" fill="url(#g1_21)"/>
<rect x="327.80" y="27.90" width="1.3" height="368.10" fill="#10e010"/>
<rect x="327.80" y="362.54" width="1.3" height="16.73" fill="#00b090"/>
<rect x="327.80" y="379.27" width="1.3" height="16.73" fill="#00a0dd"/>
</g>
<line x1="69.8" y1="283.6" x2="74.8" y2="283.6" stroke="#fff" stroke-width="0.9"/>
<text x="79.0" y="289.2" font-size="13.9" fill="#fff">0</text>
<line x1="69.8" y1="235.6" x2="74.8" y2="235.6" stroke="#fff" stroke-width="0.9"/>
<text x="79.0" y="241.2" font-size="13.9" fill="#fff">5</text>
<line x1="69.8" y1="187.6" x2="74.8" y2="187.6" stroke="#fff" stroke-width="0.9"/>
<text x="79.0" y="193.2" font-size="13.9" fill="#fff">10</text>
<line x1="69.8" y1="139.6" x2="74.8" y2="139.6" stroke="#fff" stroke-width="0.9"/>
<text x="79.0" y="145.2" font-size="13.9" fill="#fff">15</text>
<line x1="69.8" y1="91.6" x2="74.8" y2="91.6" stroke="#fff" stroke-width="0.9"/>
<text x="79.0" y="97.2" font-size="13.9" fill="#fff">20</text>
<line x1="69.8" y1="43.6" x2="74.8" y2="43.6" stroke="#fff" stroke-width="0.9"/>
<text x="79.0" y="49.2" font-size="13.9" fill="#fff">25</text>
<line x1="349.8" y1="283.6" x2="354.8" y2="283.6" stroke="#fff" stroke-width="0.9"/>
<text x="359.0" y="289.2" font-size="13.9" fill="#fff">0</text>
<line x1="349.8" y1="235.6" x2="354.8" y2="235.6" stroke="#fff" stroke-width="0.9"/>
<text x="359.0" y="241.2" font-size="13.9" fill="#fff">5</text>
<line x1="349.8" y1="187.6" x2="354.8" y2="187.6" stroke="#fff" stroke-width="0.9"/>
<text x="359.0" y="193.2" font-size="13.9" fill="#fff">10</text>
<line x1="349.8" y1="139.6" x2="354.8" y2="139.6" stroke="#fff" stroke-width="0.9"/>
<text x="359.0" y="145.2" font-size="13.9" fill="#fff">15</text>
<line x1="349.8" y1="91.6" x2="354.8" y2="91.6" stroke="#fff" stroke-width="0.9"/>
<text x="359.0" y="97.2" font-size="13.9" fill="#fff">20</text>
<line x1="349.8" y1="43.6" x2="354.8" y2="43.6" stroke="#fff" stroke-width="0.9"/>
<text x="359.0" y="49.2" font-size="13.9" fill="#fff">25</text>
<text x="318.9" y="289.2" font-size="13.9" fill="#fff" text-anchor="end">0</text>
<text x="318.9" y="241.2" font-size="13.9" fill="#fff" text-anchor="end">5</text>
<text x="318.9" y="193.2" font-size="13.9" fill="#fff" text-anchor="end">10</text>
<text x="318.9" y="145.2" font-size="13.9" fill="#fff" text-anchor="end">15</text>
<text x="318.9" y="97.2" font-size="13.9" fill="#fff" text-anchor="end">20</text>
<text x="318.9" y="49.2" font-size="13.9" fill="#fff" text-anchor="end">25</text>
<g clip-path="url(#cl0)">
<path d="M48.0 300.8 L94.0 300.8 L98.0 298.5 L101.0 294.0 L104.0 289.0 L107.0 281.0 L109.0 273.0 L110.5 265.0 L113.0 253.8 L116.9 241.0 L119.4 232.5 L124.4 222.5 L127.5 216.0 L132.5 210.0 L137.5 206.0 L150.0 195.0 L160.0 188.8 L165.0 184.0 L170.0 178.8 L175.0 172.5 L178.0 170.0 L181.0 172.0 L183.8 167.5 L187.0 165.2 L190.0 168.0 L192.0 171.0 L195.6 171.0 L198.0 175.0 L201.0 182.0 L205.0 189.0 L208.8 195.0 L212.5 205.0 L214.4 210.0 L216.9 217.5 L223.0 230.0 L228.0 242.5 L233.8 248.8 L243.8 260.0 L245.6 262.0 L246.2 200.0 L246.6 163.0 L247.2 161.3 L248.4 161.3 L249.2 165.0 L249.8 190.0 L251.5 201.0 L253.0 180.0 L253.6 171.5 L255.3 171.0 L255.8 163.0 L256.5 161.3 L258.2 161.3 L258.9 165.0 L259.4 185.0 L260.2 195.0 L261.0 175.0 L261.6 171.0 L263.2 171.0 L263.8 175.0 L264.4 200.0 L265.0 246.0 L266.3 246.0 L266.6 240.0 L267.5 238.8 L268.4 240.0 L268.9 250.0 L269.8 281.0 L277.0 284.2 L286.0 290.5 L292.0 298.0 L298.5 302.8 L306.0 304.6 L316.0 305.2 L316.0 308.0 L306.0 307.6 L298.5 306.5 L292.0 302.0 L286.0 295.0 L277.0 288.2 L269.8 286.0 L268.0 285.0 L266.0 276.0 L263.5 273.0 L262.0 272.0 L260.0 263.0 L258.0 268.0 L255.0 261.0 L252.0 260.0 L248.5 267.0 L247.0 270.0 L244.8 272.0 L244.8 272.0 L234.5 260.5 L226.8 249.5 L221.0 243.0 L215.8 231.0 L209.5 218.5 L206.5 211.5 L203.5 205.5 L200.0 200.0 L196.5 192.5 L193.0 188.0 L190.0 184.5 L187.0 180.6 L182.5 185.0 L177.5 185.6 L173.8 190.0 L170.0 192.5 L165.0 195.6 L160.0 200.0 L150.0 205.0 L145.6 209.0 L138.8 216.0 L133.0 222.5 L127.5 232.5 L124.4 241.0 L119.4 253.8 L115.0 265.0 L111.0 278.0 L108.0 287.0 L105.0 294.0 L102.0 299.0 L99.0 302.3 L95.0 303.6 L48.0 303.6Z" fill="#fff" stroke="#fff" stroke-width="0.6" stroke-linejoin="round"/>
<path d="M146.9 201.0 L147.4 149.1 L147.6 53.9 L148.2 52.7 L149.3 52.7 L149.9 53.9 L150.1 149.1 L150.6 201.0Z" fill="#fff" stroke="#fff" stroke-width="0.6" stroke-linejoin="round"/>
<path d="M151.0 199.0 L151.7 166.9 L151.9 108.5 L152.4 107.3 L153.2 107.3 L153.7 108.5 L153.9 166.9 L154.6 199.0Z" fill="#fff" stroke="#fff" stroke-width="0.6" stroke-linejoin="round"/>
<path d="M158.8 194.0 L159.3 155.4 L159.5 84.8 L160.0 83.6 L161.2 83.6 L161.8 84.8 L162.0 155.4 L162.4 194.0Z" fill="#fff" stroke="#fff" stroke-width="0.6" stroke-linejoin="round"/>
<path d="M165.8 187.0 L166.2 179.5 L166.4 166.8 L166.8 165.6 L167.6 165.6 L168.0 166.8 L168.2 179.5 L168.6 187.0Z" fill="#fff" stroke="#fff" stroke-width="0.6" stroke-linejoin="round"/>
<rect x="46" y="132" width="4.8" height="170" fill="#fff"/>
</g>
<g clip-path="url(#cl1)">
<path d="M328.8 297.5 L375.0 297.5 L380.0 296.5 L383.0 285.0 L386.2 272.5 L388.5 265.0 L390.5 260.0 L395.0 247.5 L398.8 235.0 L405.6 222.5 L410.0 212.5 L412.5 209.0 L416.2 203.8 L425.0 195.0 L428.8 188.8 L437.5 181.0 L443.8 177.0 L447.5 174.4 L452.5 173.8 L455.0 168.0 L457.5 166.5 L461.2 168.8 L464.4 164.4 L467.5 163.0 L470.0 166.0 L472.5 171.2 L477.5 172.5 L482.5 183.8 L488.8 192.5 L496.0 205.0 L500.6 217.5 L507.0 230.0 L515.0 242.5 L523.8 255.0 L526.5 262.0 L526.3 200.0 L526.6 160.0 L527.3 158.0 L528.4 158.0 L529.2 161.0 L529.8 175.0 L530.2 180.0 L530.6 165.0 L531.2 162.0 L532.4 162.0 L533.0 166.0 L534.0 172.0 L535.0 173.8 L536.5 172.0 L537.5 167.0 L538.0 166.0 L539.0 166.0 L539.6 168.0 L540.2 165.5 L540.8 164.8 L542.4 164.8 L543.0 167.0 L544.5 190.0 L546.0 210.0 L548.5 224.0 L550.2 240.0 L550.2 277.0 L554.7 278.4 L562.5 284.0 L570.0 292.5 L578.0 301.0 L586.0 304.0 L596.0 306.0 L596.0 308.5 L586.0 306.3 L578.0 303.0 L570.0 297.0 L562.5 291.5 L556.0 288.5 L550.2 287.0 L550.2 297.5 L548.4 297.5 L548.4 270.0 L545.0 268.0 L545.0 226.0 L541.9 226.0 L541.9 272.0 L538.6 272.0 L538.6 226.0 L538.0 226.0 L538.0 268.0 L535.6 268.0 L535.6 226.0 L532.5 226.0 L532.5 282.0 L529.5 284.0 L526.5 272.0 L526.5 272.0 L515.0 255.0 L505.6 242.5 L497.5 230.0 L492.5 217.5 L487.5 205.0 L482.5 197.5 L477.5 186.0 L471.0 178.0 L468.0 172.5 L465.0 173.8 L461.0 178.0 L457.5 174.0 L455.0 176.0 L450.0 181.0 L443.8 184.0 L437.5 190.0 L431.2 196.0 L427.0 201.0 L423.0 207.0 L418.8 212.5 L413.0 222.5 L405.6 235.0 L401.0 247.5 L395.0 265.0 L392.5 272.5 L390.0 285.0 L387.0 297.0 L384.0 302.0 L376.0 303.8 L328.8 303.8Z" fill="#fff" stroke="#fff" stroke-width="0.6" stroke-linejoin="round"/>
<path d="M530 178 L530.5 222" stroke="#0a1ad0" stroke-width="0.9" fill="none"/>
<path d="M388.0 300.0 L392.3 285.0 L397.6 265.0 L403.8 247.5 L408.2 235.0 L415.3 222.5 L422.2 212.5 L431.5 202.8 L437.5 193.8 L443.8 190.0 L450.0 185.0 L455.0 180.0 L457.5 178.0 L461.0 182.5 L465.0 179.0 L467.5 182.0 L470.0 186.0 L473.8 190.0 L477.5 196.0 L480.0 202.5 L483.8 211.0 L488.8 217.5 L493.0 230.0 L497.5 236.0 L500.6 242.5 L505.0 248.8 L512.5 254.3 L514.0 262.3 L520.4 264.6 L526.0 268.6" fill="none" stroke="#fff" stroke-width="2.00" stroke-linejoin="round" stroke-linecap="butt"/>
<path d="M376.0 300.6 L389.5 300.1 L399.0 298.0 L403.8 296.0 L407.8 294.0 L411.0 290.6 L414.2 290.0 L418.2 286.0 L421.3 284.2 L425.3 283.7 L429.3 279.7 L431.7 277.8 L432.4 250.0 L432.9 242.4 L433.4 250.0 L434.0 277.4 L435.6 278.0 L436.9 267.0 L438.8 273.4 L442.8 272.6 L445.2 267.0 L447.6 263.8 L450.0 266.2 L452.3 268.6 L455.5 265.4 L458.7 263.0 L461.9 266.2 L464.3 267.0 L467.4 263.8 L468.8 258.3 L470.3 264.6 L473.5 271.8 L477.5 275.0 L480.7 274.2 L483.8 277.4 L485.1 272.6 L486.2 280.5 L489.4 283.0 L492.6 285.3 L495.8 288.5 L499.0 289.6 L502.1 287.7 L505.3 290.6 L509.3 288.5 L511.7 285.3 L514.0 290.9 L517.2 293.7 L521.2 291.7 L525.2 287.7 L527.6 283.0 L529.2 287.7 L530.7 268.6 L532.0 278.0 L534.0 267.0 L535.5 280.0 L538.0 265.4 L539.5 282.0 L541.0 291.0 L542.7 263.8 L544.5 277.0 L546.6 278.0 L549.0 280.0 L550.6 295.6 L555.4 296.4 L560.0 297.2 L562.5 298.0 L570.0 300.0 L581.0 304.0 L596.0 306.8" fill="none" stroke="#fff" stroke-width="2.00" stroke-linejoin="round" stroke-linecap="butt"/>
<path d="M549.5 289.5 L556.0 291.8 L562.5 294.5 L570.0 299.0 L578.0 303.5" fill="none" stroke="#fff" stroke-width="1.40" stroke-linejoin="round" stroke-linecap="butt"/>
<path d="M336.0 300.0 L338.8 296.0 L341.0 292.0 L343.8 287.5 L345.0 282.0 L346.0 278.8 L347.5 280.0 L348.5 277.0 L350.0 276.0 L351.0 279.0 L352.5 281.0 L353.5 278.0 L355.0 278.8 L356.0 276.0 L357.2 273.0 L357.8 272.0 L358.4 275.0 L359.0 285.0 L360.0 287.5 L361.0 293.0 L362.5 296.0 L365.0 297.0 L368.0 296.0 L370.0 297.5 L373.0 296.0 L376.0 297.5 L376.0 300.0 L336.0 300.0Z" fill="#fff" stroke="#fff" stroke-width="0.6" stroke-linejoin="round"/>
<path d="M343.5 296.5 L345.2 293 L346.4 295 L347.6 292.5 L348.6 296.5 Z M349.6 293 L350.6 289.5 L351.8 292 L352.6 295.5 L350.4 296.6 Z M353.4 291.5 L354.4 288 L355.2 292.5 L354.6 296 Z M348 289.5 L348.8 286.5 L349.6 289.8 Z" fill="#1c0020"/>
<path d="M426.9 196.0 L427.4 169.9 L427.6 122.7 L428.1 121.5 L429.3 121.5 L429.8 122.7 L430.0 169.9 L430.5 196.0Z" fill="#fff" stroke="#fff" stroke-width="0.6" stroke-linejoin="round"/>
<path d="M431.7 192.0 L432.1 177.1 L432.3 150.7 L432.7 149.5 L433.6 149.5 L434.0 150.7 L434.2 177.1 L434.6 192.0Z" fill="#fff" stroke="#fff" stroke-width="0.6" stroke-linejoin="round"/>
<path d="M439.5 184.0 L439.9 153.0 L440.1 96.7 L440.7 95.5 L441.8 95.5 L442.4 96.7 L442.6 153.0 L443.0 184.0Z" fill="#fff" stroke="#fff" stroke-width="0.6" stroke-linejoin="round"/>
<rect x="326" y="159" width="4.3" height="143" fill="#fff"/>
</g>
<text x="32.2" y="41.70" font-size="13.3" text-anchor="end">On</text>
<text x="612.0" y="41.70" font-size="13.3">On</text>
<text x="32.2" y="58.70" font-size="13.3" text-anchor="end">Y</text>
<text x="612.0" y="58.70" font-size="13.3">Y</text>
<text x="32.2" y="74.70" font-size="13.3" text-anchor="end">Off</text>
<text x="612.0" y="74.70" font-size="13.3">Off</text>
<text x="32.2" y="91.70" font-size="13.3" text-anchor="end">P</text>
<text x="612.0" y="91.70" font-size="13.3">P</text>
<text x="32.2" y="108.70" font-size="13.3" text-anchor="end">O</text>
<text x="612.0" y="108.70" font-size="13.3">O</text>
<text x="32.2" y="124.70" font-size="13.3" text-anchor="end">N</text>
<text x="612.0" y="124.70" font-size="13.3">N</text>
<text x="32.2" y="141.70" font-size="13.3" text-anchor="end">M</text>
<text x="612.0" y="141.70" font-size="13.3">M</text>
<text x="32.2" y="158.70" font-size="13.3" text-anchor="end">L</text>
<text x="612.0" y="158.70" font-size="13.3">L</text>
<text x="32.2" y="174.70" font-size="13.3" text-anchor="end">K</text>
<text x="612.0" y="174.70" font-size="13.3">K</text>
<text x="32.2" y="191.70" font-size="13.3" text-anchor="end">J</text>
<text x="612.0" y="191.70" font-size="13.3">J</text>
<text x="32.2" y="208.70" font-size="13.3" text-anchor="end">I</text>
<text x="612.0" y="208.70" font-size="13.3">I</text>
<text x="32.2" y="224.70" font-size="13.3" text-anchor="end">H</text>
<text x="612.0" y="224.70" font-size="13.3">H **</text>
<text x="32.2" y="241.70" font-size="13.3" text-anchor="end">G</text>
<text x="612.0" y="241.70" font-size="13.3">G</text>
<text x="32.2" y="258.70" font-size="13.3" text-anchor="end">F</text>
<text x="612.0" y="258.70" font-size="13.3">F</text>
<text x="32.2" y="274.70" font-size="13.3" text-anchor="end">E</text>
<text x="612.0" y="274.70" font-size="13.3">E</text>
<text x="32.2" y="291.70" font-size="13.3" text-anchor="end">D</text>
<text x="612.0" y="291.70" font-size="13.3">D</text>
<text x="32.2" y="308.70" font-size="13.3" text-anchor="end">C</text>
<text x="612.0" y="308.70" font-size="13.3">C</text>
<text x="32.2" y="324.70" font-size="13.3" text-anchor="end">B</text>
<text x="612.0" y="324.70" font-size="13.3">B</text>
<text x="32.2" y="341.70" font-size="13.3" text-anchor="end">A</text>
<text x="612.0" y="341.70" font-size="13.3">A</text>
<text x="32.2" y="358.70" font-size="13.3" text-anchor="end">Off</text>
<text x="612.0" y="358.70" font-size="13.3">Off</text>
<text x="32.2" y="374.70" font-size="13.3" text-anchor="end">X</text>
<text x="612.0" y="374.70" font-size="13.3">X</text>
<text x="32.2" y="391.70" font-size="13.3" text-anchor="end">On</text>
<text x="612.0" y="391.70" font-size="13.3">On</text>
<text x="38.9" y="289.2" font-size="13.9" fill="#fff" text-anchor="end">0</text>
<text x="38.9" y="241.2" font-size="13.9" fill="#fff" text-anchor="end">5</text>
<text x="38.9" y="193.2" font-size="13.9" fill="#fff" text-anchor="end">10</text>
<text x="38.9" y="145.2" font-size="13.9" fill="#fff" text-anchor="end">15</text>
<text x="38.9" y="97.2" font-size="13.9" fill="#fff" text-anchor="end">20</text>
<text x="38.9" y="49.2" font-size="13.9" fill="#fff" text-anchor="end">25</text>
<line x1="49.45" y1="408.3" x2="49.45" y2="413.6" stroke="#000" stroke-width="0.9"/>
<text transform="translate(48.75,426.2) scale(0.94,1)" font-size="9.8" text-anchor="middle">0</text>
<line x1="90.12" y1="408.3" x2="90.12" y2="413.6" stroke="#000" stroke-width="0.9"/>
<text transform="translate(89.42,426.2) scale(0.94,1)" font-size="9.8" text-anchor="middle">50</text>
<line x1="130.78" y1="408.3" x2="130.78" y2="413.6" stroke="#000" stroke-width="0.9"/>
<text transform="translate(130.08,426.2) scale(0.94,1)" font-size="9.8" text-anchor="middle">100</text>
<line x1="171.44" y1="408.3" x2="171.44" y2="413.6" stroke="#000" stroke-width="0.9"/>
<text transform="translate(170.75,426.2) scale(0.94,1)" font-size="9.8" text-anchor="middle">150</text>
<line x1="212.11" y1="408.3" x2="212.11" y2="413.6" stroke="#000" stroke-width="0.9"/>
<text transform="translate(211.41,426.2) scale(0.94,1)" font-size="9.8" text-anchor="middle">200</text>
<line x1="252.78" y1="408.3" x2="252.78" y2="413.6" stroke="#000" stroke-width="0.9"/>
<text transform="translate(252.08,426.2) scale(0.94,1)" font-size="9.8" text-anchor="middle">250</text>
<line x1="293.44" y1="408.3" x2="293.44" y2="413.6" stroke="#000" stroke-width="0.9"/>
<text transform="translate(292.74,426.2) scale(0.94,1)" font-size="9.8" text-anchor="middle">300</text>
<line x1="329.45" y1="408.3" x2="329.45" y2="413.6" stroke="#000" stroke-width="0.9"/>
<text transform="translate(328.75,426.2) scale(0.94,1)" font-size="9.8" text-anchor="middle">0</text>
<line x1="370.12" y1="408.3" x2="370.12" y2="413.6" stroke="#000" stroke-width="0.9"/>
<text transform="translate(369.42,426.2) scale(0.94,1)" font-size="9.8" text-anchor="middle">50</text>
<line x1="410.78" y1="408.3" x2="410.78" y2="413.6" stroke="#000" stroke-width="0.9"/>
<text transform="translate(410.08,426.2) scale(0.94,1)" font-size="9.8" text-anchor="middle">100</text>
<line x1="451.44" y1="408.3" x2="451.44" y2="413.6" stroke="#000" stroke-width="0.9"/>
<text transform="translate(450.75,426.2) scale(0.94,1)" font-size="9.8" text-anchor="middle">150</text>
<line x1="492.11" y1="408.3" x2="492.11" y2="413.6" stroke="#000" stroke-width="0.9"/>
<text transform="translate(491.41,426.2) scale(0.94,1)" font-size="9.8" text-anchor="middle">200</text>
<line x1="532.77" y1="408.3" x2="532.77" y2="413.6" stroke="#000" stroke-width="0.9"/>
<text transform="translate(532.07,426.2) scale(0.94,1)" font-size="9.8" text-anchor="middle">250</text>
<line x1="573.44" y1="408.3" x2="573.44" y2="413.6" stroke="#000" stroke-width="0.9"/>
<text transform="translate(572.74,426.2) scale(0.94,1)" font-size="9.8" text-anchor="middle">300</text>
</svg></body></html>
